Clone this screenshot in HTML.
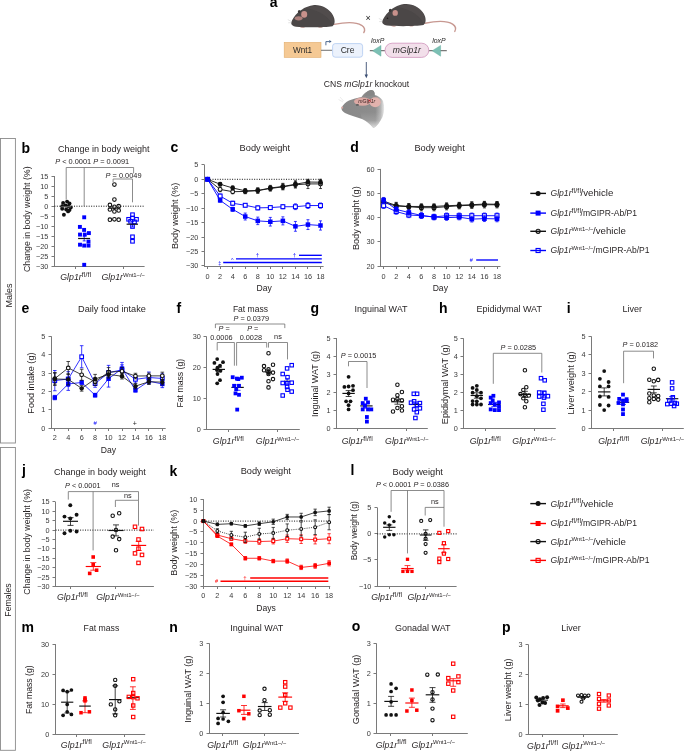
<!DOCTYPE html><html><head><meta charset="utf-8"><style>html,body{margin:0;padding:0;background:#fff;}svg{display:block;will-change:transform;}text{font-family:"Liberation Sans",sans-serif;font-variant-ligatures:none;font-feature-settings:"liga" 0,"clig" 0;}</style></head><body>
<svg width="685" height="752" viewBox="0 0 685 752">
<defs>
<linearGradient id="hg" x1="341" y1="0" x2="385" y2="0" gradientUnits="userSpaceOnUse">
<stop offset="0" stop-color="#888"/><stop offset="0.78" stop-color="#8d8d8d"/><stop offset="0.9" stop-color="#b4b4b4"/><stop offset="1" stop-color="#f6f6f6"/></linearGradient>
<linearGradient id="hg2" x1="0" y1="112" x2="0" y2="129" gradientUnits="userSpaceOnUse">
<stop offset="0" stop-color="#fff" stop-opacity="0"/><stop offset="0.5" stop-color="#fff" stop-opacity="0.15"/><stop offset="1" stop-color="#fff" stop-opacity="0.8"/></linearGradient>


</defs>
<rect width="685" height="752" fill="#fff"/>
<rect x="0.5" y="138.5" width="14.9" height="304.5" fill="none" stroke="#8a8a8a" stroke-width="0.9"/>
<text transform="translate(11.6 295.6) rotate(-90)" x="0" y="0" font-size="9" text-anchor="middle" fill="#231f20">Males</text>
<rect x="0.5" y="447.5" width="14.9" height="302.8" fill="none" stroke="#8a8a8a" stroke-width="0.9"/>
<text transform="translate(10.7 600) rotate(-90)" x="0" y="0" font-size="8.7" text-anchor="middle" fill="#231f20">Females</text>
<text x="269.8" y="7" font-size="14" font-weight="bold" fill="#000">a</text>
<g>
<path d="M334 24.4 C345 22.2 356 21.8 361.6 25.3 C364.6 27.4 365.2 30.2 363.8 32.6" fill="none" stroke="#c79891" stroke-width="1.4" stroke-linecap="round"/>
<path d="M299.5 26.2 C300.5 28.2 304 28.4 305.8 26.6 Z M317.5 26.4 C318.5 28.2 322 28.2 323.5 26.4 Z" fill="#c9a09a"/>
<path d="M291.2 22.8 C292 19.8 294.5 15.8 298 12.6 C301.5 9.2 306 6.4 313 5.2 C321 4.3 329 8.5 332.8 15 C335.3 19.5 335.3 24 332.5 26.3 C325 27.6 305 27.6 296 26.8 C292.8 26.4 291 24.8 291.2 22.8 Z" fill="#4b4747"/>
<path d="M306 8 C313 5.5 322 5.5 328.5 10 C333 14 334.5 20 333 25 C329 18 322 11 306 8 Z" fill="#555050" opacity="0.6"/>
<ellipse cx="299.2" cy="11.6" rx="1.3" ry="1.7" fill="#3a3636"/>
<path d="M287.8 19.6 L292 21.8 M288.2 22.8 L291.8 22.6" stroke="#bbb" stroke-width="0.4"/>
</g>
<ellipse cx="304.2" cy="14.4" rx="3" ry="3.3" fill="#c8918b"/>
<ellipse cx="298.6" cy="18.3" rx="3.9" ry="2.1" fill="#c08b86" opacity="0.85"/>
<g transform="translate(91 -1.2)">
<path d="M334 24.4 C345 22.2 356 21.8 361.6 25.3 C364.6 27.4 365.2 30.2 363.8 32.6" fill="none" stroke="#c79891" stroke-width="1.4" stroke-linecap="round"/>
<path d="M299.5 26.2 C300.5 28.2 304 28.4 305.8 26.6 Z M317.5 26.4 C318.5 28.2 322 28.2 323.5 26.4 Z" fill="#c9a09a"/>
<path d="M291.2 22.8 C292 19.8 294.5 15.8 298 12.6 C301.5 9.2 306 6.4 313 5.2 C321 4.3 329 8.5 332.8 15 C335.3 19.5 335.3 24 332.5 26.3 C325 27.6 305 27.6 296 26.8 C292.8 26.4 291 24.8 291.2 22.8 Z" fill="#4b4747"/>
<path d="M306 8 C313 5.5 322 5.5 328.5 10 C333 14 334.5 20 333 25 C329 18 322 11 306 8 Z" fill="#555050" opacity="0.6"/>
<ellipse cx="299.2" cy="11.6" rx="1.3" ry="1.7" fill="#3a3636"/>
<path d="M287.8 19.6 L292 21.8 M288.2 22.8 L291.8 22.6" stroke="#bbb" stroke-width="0.4"/>
</g>
<ellipse cx="395.2" cy="12.9" rx="2.7" ry="2.9" fill="#c8918b"/>
<circle cx="387.5" cy="18.3" r="0.8" fill="#1e1a1a"/>
<text x="368.2" y="20.6" font-size="9" text-anchor="middle" fill="#222">×</text>
<rect x="284.2" y="42.4" width="36.8" height="15" fill="#f5c994" stroke="#e2ad6c" stroke-width="0.6"/>
<text x="302.6" y="52.8" font-size="8.2" text-anchor="middle" fill="#2a2a2a">Wnt1</text>
<line x1="321" y1="50.3" x2="332.3" y2="50.3" stroke="#7a7a7a" stroke-width="1.1"/>
<rect x="332.6" y="43.6" width="30" height="13.6" rx="2.6" fill="#ecf2fc" stroke="#a9c4ef" stroke-width="0.7"/>
<text x="347.6" y="52.8" font-size="8.6" text-anchor="middle" fill="#2a2a2a">Cre</text>
<path d="M325.9 45.3 V41.6 H329.6" fill="none" stroke="#3e5b86" stroke-width="0.9"/>
<path d="M329.3 40.1 L331.6 41.6 L329.3 43.1 Z" fill="#3e5b86"/>
<line x1="369.8" y1="50.6" x2="446.8" y2="50.6" stroke="#7a7a7a" stroke-width="1.1"/>
<path d="M372.6 50.8 L381 45.4 L381 56.2 Z" fill="#7cc0b4" stroke="#5fa89b" stroke-width="0.4"/>
<path d="M432.2 50.8 L440.6 45.4 L440.6 56.2 Z" fill="#7cc0b4" stroke="#5fa89b" stroke-width="0.4"/>
<rect x="385" y="43.2" width="43.8" height="14.2" rx="7.1" fill="#f2dfea" stroke="#cf93bb" stroke-width="0.8"/>
<text x="406.9" y="53.4" font-size="8.6" text-anchor="middle" font-style="italic" fill="#2a2a2a">mGlp1r</text>
<text x="371" y="42.9" font-size="6.9" font-style="italic" fill="#2a2a2a">loxP</text>
<text x="432.2" y="42.9" font-size="6.9" font-style="italic" fill="#2a2a2a">loxP</text>
<line x1="366.3" y1="62" x2="366.3" y2="75.5" stroke="#3c4f73" stroke-width="0.9"/>
<path d="M364.6 74.6 L366.3 78.2 L368 74.6 Z" fill="#3c4f73"/>
<text x="366.5" y="87.2" font-size="8.6" text-anchor="middle" fill="#231f20">CNS <tspan font-style="italic">mGlp1r</tspan> knockout</text>
<g>
<path d="M341.6 107.8 C343 104.5 346 102 349 100.6 C353 99 357 98 361.5 97 C363.5 94 366.5 91 370.5 90.2 C373.5 89.8 375 91.5 374.5 95 C378 95.8 381.5 98 383 101 C384.8 106 384.5 112 382.5 117 C380 122 377 126 373.5 128 C369.5 123.5 366 120.5 362 119 C356 117 349 115 345 113 C342.5 111.5 341 109.5 341.6 107.8 Z" fill="url(#hg)"/>
<path d="M362 119 C366 120.5 369.5 123.5 373.5 128 C377 126 380 122 382.5 117 L383 112 L360 112 Z" fill="url(#hg2)"/>
<path d="M364.8 96 C365.8 92.8 368 90.4 370.8 90.1 C373.5 89.9 375 92 374.6 95.6 Z" fill="#868686"/>
<ellipse cx="362.6" cy="101.6" rx="8.6" ry="4.1" fill="#dba9a4"/>
<ellipse cx="375.2" cy="102.3" rx="5.6" ry="5" fill="#e2b3ae"/>
<ellipse cx="357.4" cy="104.9" rx="1.6" ry="0.9" fill="#5e5e5e"/>
<ellipse cx="342.2" cy="107.6" rx="0.9" ry="1.2" fill="#d8a7a3"/>
<path d="M340 97 L343.5 101 M338.5 99.5 L343 102" stroke="#d0d0d0" stroke-width="0.4"/>
<text x="358.3" y="102.6" font-size="5.2" font-style="italic" fill="#3a2222">mGlp1r</text>
<path d="M368.6 99.4 L370.8 101.6 M370.8 99.4 L368.6 101.6" stroke="#d0202a" stroke-width="0.8"/>
</g>
<text x="21.6" y="152.5" font-size="14" font-weight="bold" fill="#000">b</text>
<text x="58" y="151.8" font-size="9" fill="#231f20">Change in body weight</text>
<line x1="54.5" y1="176" x2="54.5" y2="267" stroke="#7a7a7a" stroke-width="1"/>
<line x1="51.5" y1="176.5" x2="54.5" y2="176.5" stroke="#7a7a7a" stroke-width="1"/>
<text x="48.4" y="178.7" font-size="7.3" text-anchor="end" fill="#3a3a3a">15</text>
<line x1="51.5" y1="186.5" x2="54.5" y2="186.5" stroke="#7a7a7a" stroke-width="1"/>
<text x="48.4" y="188.7" font-size="7.3" text-anchor="end" fill="#3a3a3a">10</text>
<line x1="51.5" y1="196.5" x2="54.5" y2="196.5" stroke="#7a7a7a" stroke-width="1"/>
<text x="48.4" y="198.7" font-size="7.3" text-anchor="end" fill="#3a3a3a">5</text>
<line x1="51.5" y1="206.5" x2="54.5" y2="206.5" stroke="#7a7a7a" stroke-width="1"/>
<text x="48.4" y="208.7" font-size="7.3" text-anchor="end" fill="#3a3a3a">0</text>
<line x1="51.5" y1="216.5" x2="54.5" y2="216.5" stroke="#7a7a7a" stroke-width="1"/>
<text x="48.4" y="218.7" font-size="7.3" text-anchor="end" fill="#3a3a3a">−5</text>
<line x1="51.5" y1="226.5" x2="54.5" y2="226.5" stroke="#7a7a7a" stroke-width="1"/>
<text x="48.4" y="228.7" font-size="7.3" text-anchor="end" fill="#3a3a3a">−10</text>
<line x1="51.5" y1="236.5" x2="54.5" y2="236.5" stroke="#7a7a7a" stroke-width="1"/>
<text x="48.4" y="238.7" font-size="7.3" text-anchor="end" fill="#3a3a3a">−15</text>
<line x1="51.5" y1="246.5" x2="54.5" y2="246.5" stroke="#7a7a7a" stroke-width="1"/>
<text x="48.4" y="248.7" font-size="7.3" text-anchor="end" fill="#3a3a3a">−20</text>
<line x1="51.5" y1="256.5" x2="54.5" y2="256.5" stroke="#7a7a7a" stroke-width="1"/>
<text x="48.4" y="258.7" font-size="7.3" text-anchor="end" fill="#3a3a3a">−25</text>
<line x1="51.5" y1="266.5" x2="54.5" y2="266.5" stroke="#7a7a7a" stroke-width="1"/>
<text x="48.4" y="268.7" font-size="7.3" text-anchor="end" fill="#3a3a3a">−30</text>
<line x1="54" y1="266.5" x2="144.6" y2="266.5" stroke="#7a7a7a" stroke-width="1"/>
<line x1="75.5" y1="266.5" x2="75.5" y2="269" stroke="#7a7a7a" stroke-width="1"/>
<line x1="123.5" y1="266.5" x2="123.5" y2="269" stroke="#7a7a7a" stroke-width="1"/>
<text x="75.8" y="280.4" font-size="8.8" text-anchor="middle" fill="#231f20"><tspan font-style="italic">Glp1r</tspan><tspan font-size="6.9" dy="-3.5" letter-spacing="0.15">fl/fl</tspan></text>
<text x="123.2" y="280.4" font-size="8.8" text-anchor="middle" fill="#231f20"><tspan font-style="italic">Glp1r</tspan><tspan font-size="6" dy="-3.5" letter-spacing="-0.1">Wnt1−/−</tspan></text>
<text transform="translate(30 219.2) rotate(-90)" x="0" y="0" font-size="8.8" text-anchor="middle" fill="#231f20">Change in body weight (%)</text>
<line x1="54.4" y1="206.2" x2="144.6" y2="206.2" stroke="#111" stroke-width="1" stroke-dasharray="1 1.45"/>
<path d="M66.2 199.7 V167.5 H133.6 V173.4" fill="none" stroke="#6e6e6e" stroke-width="0.8"/>
<path d="M84.2 167.5 V206" fill="none" stroke="#6e6e6e" stroke-width="0.8"/>
<path d="M113.1 182 V179 H132.5 V202.3" fill="none" stroke="#6e6e6e" stroke-width="0.8"/>
<text x="55.2" y="163.9" font-size="7.4" text-anchor="start" fill="#231f20"><tspan font-style="italic">P</tspan> &lt; 0.0001 <tspan font-style="italic">P</tspan> = 0.0091</text>
<text x="105.6" y="177.6" font-size="7.4" text-anchor="start" fill="#231f20"><tspan font-style="italic">P</tspan> = 0.0049</text>
<circle cx="63.1" cy="202.9" r="1.95" fill="#111111"/>
<circle cx="67.1" cy="201.6" r="1.95" fill="#111111"/>
<circle cx="69.5" cy="203.5" r="1.95" fill="#111111"/>
<circle cx="62.2" cy="206.2" r="1.95" fill="#111111"/>
<circle cx="65.5" cy="205.5" r="1.95" fill="#111111"/>
<circle cx="68.1" cy="206.2" r="1.95" fill="#111111"/>
<circle cx="70.8" cy="207.5" r="1.95" fill="#111111"/>
<circle cx="62.2" cy="208.8" r="1.95" fill="#111111"/>
<circle cx="66.2" cy="209.5" r="1.95" fill="#111111"/>
<circle cx="69.5" cy="210.1" r="1.95" fill="#111111"/>
<circle cx="68.1" cy="211.4" r="1.95" fill="#111111"/>
<circle cx="63.9" cy="214.7" r="1.95" fill="#111111"/>
<line x1="61.2" y1="206.8" x2="71.2" y2="206.8" stroke="#888" stroke-width="0.9"/>
<line x1="84.2" y1="236.1" x2="84.2" y2="240.9" stroke="#0000ff" stroke-width="0.8"/>
<line x1="82.7" y1="236.1" x2="85.7" y2="236.1" stroke="#0000ff" stroke-width="0.8"/>
<line x1="82.7" y1="240.9" x2="85.7" y2="240.9" stroke="#0000ff" stroke-width="0.8"/>
<rect x="82.25" y="215.35" width="3.9" height="3.9" fill="#0000ff"/>
<rect x="77.95" y="224.95" width="3.9" height="3.9" fill="#0000ff"/>
<rect x="82.15" y="227.95" width="3.9" height="3.9" fill="#0000ff"/>
<rect x="78.05" y="232.65" width="3.9" height="3.9" fill="#0000ff"/>
<rect x="82.85" y="232.65" width="3.9" height="3.9" fill="#0000ff"/>
<rect x="86.95" y="231.15" width="3.9" height="3.9" fill="#0000ff"/>
<rect x="86.55" y="239.65" width="3.9" height="3.9" fill="#0000ff"/>
<rect x="78.05" y="242.75" width="3.9" height="3.9" fill="#0000ff"/>
<rect x="82.25" y="243.65" width="3.9" height="3.9" fill="#0000ff"/>
<rect x="86.55" y="243.65" width="3.9" height="3.9" fill="#0000ff"/>
<rect x="82.25" y="262.85" width="3.9" height="3.9" fill="#0000ff"/>
<line x1="78.1" y1="238.5" x2="90.1" y2="238.5" stroke="#111111" stroke-width="1.2"/>
<circle cx="114.4" cy="184.6" r="1.79" fill="none" stroke="#111111" stroke-width="1.1"/>
<circle cx="114.4" cy="199.6" r="1.79" fill="none" stroke="#111111" stroke-width="1.1"/>
<circle cx="109.9" cy="204.9" r="1.79" fill="none" stroke="#111111" stroke-width="1.1"/>
<circle cx="114.4" cy="206.8" r="1.79" fill="none" stroke="#111111" stroke-width="1.1"/>
<circle cx="118.7" cy="206.2" r="1.79" fill="none" stroke="#111111" stroke-width="1.1"/>
<circle cx="109.9" cy="209.5" r="1.79" fill="none" stroke="#111111" stroke-width="1.1"/>
<circle cx="114.4" cy="211.4" r="1.79" fill="none" stroke="#111111" stroke-width="1.1"/>
<circle cx="118.7" cy="210.5" r="1.79" fill="none" stroke="#111111" stroke-width="1.1"/>
<circle cx="109.9" cy="219.7" r="1.79" fill="none" stroke="#111111" stroke-width="1.1"/>
<circle cx="114.4" cy="219.3" r="1.79" fill="none" stroke="#111111" stroke-width="1.1"/>
<circle cx="118.7" cy="219.7" r="1.79" fill="none" stroke="#111111" stroke-width="1.1"/>
<line x1="108.4" y1="208.1" x2="120.4" y2="208.1" stroke="#111111" stroke-width="1.1"/>
<line x1="132.5" y1="221.5" x2="132.5" y2="227" stroke="#0000ff" stroke-width="0.8"/>
<line x1="131" y1="221.5" x2="134" y2="221.5" stroke="#0000ff" stroke-width="0.8"/>
<line x1="131" y1="227" x2="134" y2="227" stroke="#0000ff" stroke-width="0.8"/>
<rect x="130.71" y="212.91" width="3.58" height="3.58" fill="none" stroke="#0000ff" stroke-width="1.1"/>
<rect x="126.81" y="217.51" width="3.58" height="3.58" fill="none" stroke="#0000ff" stroke-width="1.1"/>
<rect x="134.71" y="217.51" width="3.58" height="3.58" fill="none" stroke="#0000ff" stroke-width="1.1"/>
<rect x="128.81" y="219.51" width="3.58" height="3.58" fill="none" stroke="#0000ff" stroke-width="1.1"/>
<rect x="132.71" y="220.11" width="3.58" height="3.58" fill="none" stroke="#0000ff" stroke-width="1.1"/>
<rect x="130.71" y="224.71" width="3.58" height="3.58" fill="none" stroke="#0000ff" stroke-width="1.1"/>
<rect x="130.71" y="235.01" width="3.58" height="3.58" fill="none" stroke="#0000ff" stroke-width="1.1"/>
<rect x="130.71" y="239.51" width="3.58" height="3.58" fill="none" stroke="#0000ff" stroke-width="1.1"/>
<rect x="130.71" y="216.21" width="3.58" height="3.58" fill="none" stroke="#0000ff" stroke-width="1.1"/>
<line x1="126.6" y1="224.2" x2="138" y2="224.2" stroke="#111111" stroke-width="1.2"/>
<text x="170.4" y="152.4" font-size="14" font-weight="bold" fill="#000">c</text>
<text x="239.6" y="151.4" font-size="9" fill="#231f20" textLength="50.4" lengthAdjust="spacingAndGlyphs">Body weight</text>
<line x1="204.5" y1="164.8" x2="204.5" y2="267" stroke="#7a7a7a" stroke-width="1"/>
<line x1="201.5" y1="164.5" x2="204.5" y2="164.5" stroke="#7a7a7a" stroke-width="1"/>
<text x="198.4" y="167.37" font-size="7.3" text-anchor="end" fill="#3a3a3a">5</text>
<line x1="201.5" y1="179.5" x2="204.5" y2="179.5" stroke="#7a7a7a" stroke-width="1"/>
<text x="198.4" y="181.8" font-size="7.3" text-anchor="end" fill="#3a3a3a">0</text>
<line x1="201.5" y1="193.5" x2="204.5" y2="193.5" stroke="#7a7a7a" stroke-width="1"/>
<text x="198.4" y="196.23" font-size="7.3" text-anchor="end" fill="#3a3a3a">−5</text>
<line x1="201.5" y1="208.5" x2="204.5" y2="208.5" stroke="#7a7a7a" stroke-width="1"/>
<text x="198.4" y="210.66" font-size="7.3" text-anchor="end" fill="#3a3a3a">−10</text>
<line x1="201.5" y1="222.5" x2="204.5" y2="222.5" stroke="#7a7a7a" stroke-width="1"/>
<text x="198.4" y="225.09" font-size="7.3" text-anchor="end" fill="#3a3a3a">−15</text>
<line x1="201.5" y1="237.5" x2="204.5" y2="237.5" stroke="#7a7a7a" stroke-width="1"/>
<text x="198.4" y="239.52" font-size="7.3" text-anchor="end" fill="#3a3a3a">−20</text>
<line x1="201.5" y1="251.5" x2="204.5" y2="251.5" stroke="#7a7a7a" stroke-width="1"/>
<text x="198.4" y="253.95" font-size="7.3" text-anchor="end" fill="#3a3a3a">−25</text>
<line x1="201.5" y1="265.5" x2="204.5" y2="265.5" stroke="#7a7a7a" stroke-width="1"/>
<text x="198.4" y="268.38" font-size="7.3" text-anchor="end" fill="#3a3a3a">−30</text>
<line x1="204" y1="266.5" x2="323.6" y2="266.5" stroke="#7a7a7a" stroke-width="1"/>
<line x1="207.5" y1="266.5" x2="207.5" y2="269" stroke="#7a7a7a" stroke-width="1"/>
<text x="207.6" y="278.7" font-size="7.3" text-anchor="middle" fill="#3a3a3a">0</text>
<line x1="220.5" y1="266.5" x2="220.5" y2="269" stroke="#7a7a7a" stroke-width="1"/>
<text x="220.14" y="278.7" font-size="7.3" text-anchor="middle" fill="#3a3a3a">2</text>
<line x1="232.5" y1="266.5" x2="232.5" y2="269" stroke="#7a7a7a" stroke-width="1"/>
<text x="232.69" y="278.7" font-size="7.3" text-anchor="middle" fill="#3a3a3a">4</text>
<line x1="245.5" y1="266.5" x2="245.5" y2="269" stroke="#7a7a7a" stroke-width="1"/>
<text x="245.23" y="278.7" font-size="7.3" text-anchor="middle" fill="#3a3a3a">6</text>
<line x1="257.5" y1="266.5" x2="257.5" y2="269" stroke="#7a7a7a" stroke-width="1"/>
<text x="257.78" y="278.7" font-size="7.3" text-anchor="middle" fill="#3a3a3a">8</text>
<line x1="270.5" y1="266.5" x2="270.5" y2="269" stroke="#7a7a7a" stroke-width="1"/>
<text x="270.32" y="278.7" font-size="7.3" text-anchor="middle" fill="#3a3a3a">10</text>
<line x1="282.5" y1="266.5" x2="282.5" y2="269" stroke="#7a7a7a" stroke-width="1"/>
<text x="282.86" y="278.7" font-size="7.3" text-anchor="middle" fill="#3a3a3a">12</text>
<line x1="295.5" y1="266.5" x2="295.5" y2="269" stroke="#7a7a7a" stroke-width="1"/>
<text x="295.41" y="278.7" font-size="7.3" text-anchor="middle" fill="#3a3a3a">14</text>
<line x1="307.5" y1="266.5" x2="307.5" y2="269" stroke="#7a7a7a" stroke-width="1"/>
<text x="307.95" y="278.7" font-size="7.3" text-anchor="middle" fill="#3a3a3a">16</text>
<line x1="320.5" y1="266.5" x2="320.5" y2="269" stroke="#7a7a7a" stroke-width="1"/>
<text x="320.5" y="278.7" font-size="7.3" text-anchor="middle" fill="#3a3a3a">18</text>
<text x="264.2" y="290.8" font-size="8.6" text-anchor="middle" fill="#231f20">Day</text>
<text transform="translate(178.4 215.9) rotate(-90)" x="0" y="0" font-size="9.1" text-anchor="middle" fill="#231f20">Body weight (%)</text>
<line x1="207.6" y1="179.3" x2="322" y2="179.3" stroke="#111" stroke-width="1" stroke-dasharray="1 1.45"/>
<line x1="220.14" y1="191.71" x2="220.14" y2="187.09" stroke="#111111" stroke-width="0.75"/>
<line x1="218.64" y1="191.71" x2="221.64" y2="191.71" stroke="#111111" stroke-width="0.75"/>
<line x1="218.64" y1="187.09" x2="221.64" y2="187.09" stroke="#111111" stroke-width="0.75"/>
<line x1="232.69" y1="193.73" x2="232.69" y2="189.69" stroke="#111111" stroke-width="0.75"/>
<line x1="231.19" y1="193.73" x2="234.19" y2="193.73" stroke="#111111" stroke-width="0.75"/>
<line x1="231.19" y1="189.69" x2="234.19" y2="189.69" stroke="#111111" stroke-width="0.75"/>
<line x1="245.23" y1="193.73" x2="245.23" y2="189.11" stroke="#111111" stroke-width="0.75"/>
<line x1="243.73" y1="193.73" x2="246.73" y2="193.73" stroke="#111111" stroke-width="0.75"/>
<line x1="243.73" y1="189.11" x2="246.73" y2="189.11" stroke="#111111" stroke-width="0.75"/>
<line x1="257.78" y1="193.15" x2="257.78" y2="187.96" stroke="#111111" stroke-width="0.75"/>
<line x1="256.28" y1="193.15" x2="259.28" y2="193.15" stroke="#111111" stroke-width="0.75"/>
<line x1="256.28" y1="187.96" x2="259.28" y2="187.96" stroke="#111111" stroke-width="0.75"/>
<line x1="270.32" y1="191.13" x2="270.32" y2="185.94" stroke="#111111" stroke-width="0.75"/>
<line x1="268.82" y1="191.13" x2="271.82" y2="191.13" stroke="#111111" stroke-width="0.75"/>
<line x1="268.82" y1="185.94" x2="271.82" y2="185.94" stroke="#111111" stroke-width="0.75"/>
<line x1="282.86" y1="189.69" x2="282.86" y2="183.92" stroke="#111111" stroke-width="0.75"/>
<line x1="281.36" y1="189.69" x2="284.36" y2="189.69" stroke="#111111" stroke-width="0.75"/>
<line x1="281.36" y1="183.92" x2="284.36" y2="183.92" stroke="#111111" stroke-width="0.75"/>
<line x1="295.41" y1="187.96" x2="295.41" y2="181.61" stroke="#111111" stroke-width="0.75"/>
<line x1="293.91" y1="187.96" x2="296.91" y2="187.96" stroke="#111111" stroke-width="0.75"/>
<line x1="293.91" y1="181.61" x2="296.91" y2="181.61" stroke="#111111" stroke-width="0.75"/>
<line x1="307.95" y1="188.54" x2="307.95" y2="179.3" stroke="#111111" stroke-width="0.75"/>
<line x1="306.45" y1="188.54" x2="309.45" y2="188.54" stroke="#111111" stroke-width="0.75"/>
<line x1="306.45" y1="179.3" x2="309.45" y2="179.3" stroke="#111111" stroke-width="0.75"/>
<line x1="320.5" y1="188.54" x2="320.5" y2="179.3" stroke="#111111" stroke-width="0.75"/>
<line x1="319" y1="188.54" x2="322" y2="188.54" stroke="#111111" stroke-width="0.75"/>
<line x1="319" y1="179.3" x2="322" y2="179.3" stroke="#111111" stroke-width="0.75"/>
<polyline points="207.6,179.3 220.14,189.4 232.69,191.71 245.23,191.42 257.78,190.56 270.32,188.54 282.86,186.8 295.41,184.78 307.95,183.92 320.5,183.92" fill="none" stroke="#111111" stroke-width="0.9"/>
<circle cx="207.6" cy="179.3" r="1.93" fill="#fff" stroke="#111111" stroke-width="1.1"/>
<circle cx="220.14" cy="189.4" r="1.93" fill="#fff" stroke="#111111" stroke-width="1.1"/>
<circle cx="232.69" cy="191.71" r="1.93" fill="#fff" stroke="#111111" stroke-width="1.1"/>
<circle cx="245.23" cy="191.42" r="1.93" fill="#fff" stroke="#111111" stroke-width="1.1"/>
<circle cx="257.78" cy="190.56" r="1.93" fill="#fff" stroke="#111111" stroke-width="1.1"/>
<circle cx="270.32" cy="188.54" r="1.93" fill="#fff" stroke="#111111" stroke-width="1.1"/>
<circle cx="282.86" cy="186.8" r="1.93" fill="#fff" stroke="#111111" stroke-width="1.1"/>
<circle cx="295.41" cy="184.78" r="1.93" fill="#fff" stroke="#111111" stroke-width="1.1"/>
<circle cx="307.95" cy="183.92" r="1.93" fill="#fff" stroke="#111111" stroke-width="1.1"/>
<circle cx="320.5" cy="183.92" r="1.93" fill="#fff" stroke="#111111" stroke-width="1.1"/>
<line x1="220.14" y1="185.94" x2="220.14" y2="182.47" stroke="#111111" stroke-width="0.75"/>
<line x1="218.64" y1="185.94" x2="221.64" y2="185.94" stroke="#111111" stroke-width="0.75"/>
<line x1="218.64" y1="182.47" x2="221.64" y2="182.47" stroke="#111111" stroke-width="0.75"/>
<line x1="232.69" y1="189.98" x2="232.69" y2="185.94" stroke="#111111" stroke-width="0.75"/>
<line x1="231.19" y1="189.98" x2="234.19" y2="189.98" stroke="#111111" stroke-width="0.75"/>
<line x1="231.19" y1="185.94" x2="234.19" y2="185.94" stroke="#111111" stroke-width="0.75"/>
<line x1="245.23" y1="193.15" x2="245.23" y2="188.54" stroke="#111111" stroke-width="0.75"/>
<line x1="243.73" y1="193.15" x2="246.73" y2="193.15" stroke="#111111" stroke-width="0.75"/>
<line x1="243.73" y1="188.54" x2="246.73" y2="188.54" stroke="#111111" stroke-width="0.75"/>
<line x1="257.78" y1="193.15" x2="257.78" y2="187.96" stroke="#111111" stroke-width="0.75"/>
<line x1="256.28" y1="193.15" x2="259.28" y2="193.15" stroke="#111111" stroke-width="0.75"/>
<line x1="256.28" y1="187.96" x2="259.28" y2="187.96" stroke="#111111" stroke-width="0.75"/>
<line x1="270.32" y1="190.56" x2="270.32" y2="185.36" stroke="#111111" stroke-width="0.75"/>
<line x1="268.82" y1="190.56" x2="271.82" y2="190.56" stroke="#111111" stroke-width="0.75"/>
<line x1="268.82" y1="185.36" x2="271.82" y2="185.36" stroke="#111111" stroke-width="0.75"/>
<line x1="282.86" y1="189.69" x2="282.86" y2="183.34" stroke="#111111" stroke-width="0.75"/>
<line x1="281.36" y1="189.69" x2="284.36" y2="189.69" stroke="#111111" stroke-width="0.75"/>
<line x1="281.36" y1="183.34" x2="284.36" y2="183.34" stroke="#111111" stroke-width="0.75"/>
<line x1="295.41" y1="187.67" x2="295.41" y2="180.74" stroke="#111111" stroke-width="0.75"/>
<line x1="293.91" y1="187.67" x2="296.91" y2="187.67" stroke="#111111" stroke-width="0.75"/>
<line x1="293.91" y1="180.74" x2="296.91" y2="180.74" stroke="#111111" stroke-width="0.75"/>
<line x1="307.95" y1="184.06" x2="307.95" y2="180.02" stroke="#111111" stroke-width="0.75"/>
<line x1="306.45" y1="184.06" x2="309.45" y2="184.06" stroke="#111111" stroke-width="0.75"/>
<line x1="306.45" y1="180.02" x2="309.45" y2="180.02" stroke="#111111" stroke-width="0.75"/>
<line x1="320.5" y1="184.21" x2="320.5" y2="180.17" stroke="#111111" stroke-width="0.75"/>
<line x1="319" y1="184.21" x2="322" y2="184.21" stroke="#111111" stroke-width="0.75"/>
<line x1="319" y1="180.17" x2="322" y2="180.17" stroke="#111111" stroke-width="0.75"/>
<polyline points="207.6,179.3 220.14,184.21 232.69,187.96 245.23,190.84 257.78,190.56 270.32,187.96 282.86,186.52 295.41,184.21 307.95,182.04 320.5,182.19" fill="none" stroke="#111111" stroke-width="0.9"/>
<circle cx="207.6" cy="179.3" r="2.35" fill="#111111"/>
<circle cx="220.14" cy="184.21" r="2.35" fill="#111111"/>
<circle cx="232.69" cy="187.96" r="2.35" fill="#111111"/>
<circle cx="245.23" cy="190.84" r="2.35" fill="#111111"/>
<circle cx="257.78" cy="190.56" r="2.35" fill="#111111"/>
<circle cx="270.32" cy="187.96" r="2.35" fill="#111111"/>
<circle cx="282.86" cy="186.52" r="2.35" fill="#111111"/>
<circle cx="295.41" cy="184.21" r="2.35" fill="#111111"/>
<circle cx="307.95" cy="182.04" r="2.35" fill="#111111"/>
<circle cx="320.5" cy="182.19" r="2.35" fill="#111111"/>
<line x1="220.14" y1="198.06" x2="220.14" y2="194.02" stroke="#0000ff" stroke-width="0.75"/>
<line x1="218.64" y1="198.06" x2="221.64" y2="198.06" stroke="#0000ff" stroke-width="0.75"/>
<line x1="218.64" y1="194.02" x2="221.64" y2="194.02" stroke="#0000ff" stroke-width="0.75"/>
<line x1="232.69" y1="205.27" x2="232.69" y2="201.23" stroke="#0000ff" stroke-width="0.75"/>
<line x1="231.19" y1="205.27" x2="234.19" y2="205.27" stroke="#0000ff" stroke-width="0.75"/>
<line x1="231.19" y1="201.23" x2="234.19" y2="201.23" stroke="#0000ff" stroke-width="0.75"/>
<line x1="245.23" y1="207.01" x2="245.23" y2="203.54" stroke="#0000ff" stroke-width="0.75"/>
<line x1="243.73" y1="207.01" x2="246.73" y2="207.01" stroke="#0000ff" stroke-width="0.75"/>
<line x1="243.73" y1="203.54" x2="246.73" y2="203.54" stroke="#0000ff" stroke-width="0.75"/>
<line x1="257.78" y1="209.89" x2="257.78" y2="205.85" stroke="#0000ff" stroke-width="0.75"/>
<line x1="256.28" y1="209.89" x2="259.28" y2="209.89" stroke="#0000ff" stroke-width="0.75"/>
<line x1="256.28" y1="205.85" x2="259.28" y2="205.85" stroke="#0000ff" stroke-width="0.75"/>
<line x1="270.32" y1="209.31" x2="270.32" y2="205.85" stroke="#0000ff" stroke-width="0.75"/>
<line x1="268.82" y1="209.31" x2="271.82" y2="209.31" stroke="#0000ff" stroke-width="0.75"/>
<line x1="268.82" y1="205.85" x2="271.82" y2="205.85" stroke="#0000ff" stroke-width="0.75"/>
<line x1="282.86" y1="208.74" x2="282.86" y2="204.7" stroke="#0000ff" stroke-width="0.75"/>
<line x1="281.36" y1="208.74" x2="284.36" y2="208.74" stroke="#0000ff" stroke-width="0.75"/>
<line x1="281.36" y1="204.7" x2="284.36" y2="204.7" stroke="#0000ff" stroke-width="0.75"/>
<line x1="295.41" y1="209.6" x2="295.41" y2="203.83" stroke="#0000ff" stroke-width="0.75"/>
<line x1="293.91" y1="209.6" x2="296.91" y2="209.6" stroke="#0000ff" stroke-width="0.75"/>
<line x1="293.91" y1="203.83" x2="296.91" y2="203.83" stroke="#0000ff" stroke-width="0.75"/>
<line x1="307.95" y1="208.45" x2="307.95" y2="202.68" stroke="#0000ff" stroke-width="0.75"/>
<line x1="306.45" y1="208.45" x2="309.45" y2="208.45" stroke="#0000ff" stroke-width="0.75"/>
<line x1="306.45" y1="202.68" x2="309.45" y2="202.68" stroke="#0000ff" stroke-width="0.75"/>
<line x1="320.5" y1="208.16" x2="320.5" y2="202.97" stroke="#0000ff" stroke-width="0.75"/>
<line x1="319" y1="208.16" x2="322" y2="208.16" stroke="#0000ff" stroke-width="0.75"/>
<line x1="319" y1="202.97" x2="322" y2="202.97" stroke="#0000ff" stroke-width="0.75"/>
<polyline points="207.6,179.3 220.14,196.04 232.69,203.25 245.23,205.27 257.78,207.87 270.32,207.58 282.86,206.72 295.41,206.72 307.95,205.56 320.5,205.56" fill="none" stroke="#0000ff" stroke-width="0.9"/>
<rect x="205.67" y="177.37" width="3.87" height="3.87" fill="#fff" stroke="#0000ff" stroke-width="1.1"/>
<rect x="218.21" y="194.1" width="3.87" height="3.87" fill="#fff" stroke="#0000ff" stroke-width="1.1"/>
<rect x="230.75" y="201.32" width="3.87" height="3.87" fill="#fff" stroke="#0000ff" stroke-width="1.1"/>
<rect x="243.3" y="203.34" width="3.87" height="3.87" fill="#fff" stroke="#0000ff" stroke-width="1.1"/>
<rect x="255.84" y="205.94" width="3.87" height="3.87" fill="#fff" stroke="#0000ff" stroke-width="1.1"/>
<rect x="268.39" y="205.65" width="3.87" height="3.87" fill="#fff" stroke="#0000ff" stroke-width="1.1"/>
<rect x="280.93" y="204.78" width="3.87" height="3.87" fill="#fff" stroke="#0000ff" stroke-width="1.1"/>
<rect x="293.47" y="204.78" width="3.87" height="3.87" fill="#fff" stroke="#0000ff" stroke-width="1.1"/>
<rect x="306.02" y="203.63" width="3.87" height="3.87" fill="#fff" stroke="#0000ff" stroke-width="1.1"/>
<rect x="318.56" y="203.63" width="3.87" height="3.87" fill="#fff" stroke="#0000ff" stroke-width="1.1"/>
<line x1="220.14" y1="202.1" x2="220.14" y2="198.64" stroke="#0000ff" stroke-width="0.75"/>
<line x1="218.64" y1="202.1" x2="221.64" y2="202.1" stroke="#0000ff" stroke-width="0.75"/>
<line x1="218.64" y1="198.64" x2="221.64" y2="198.64" stroke="#0000ff" stroke-width="0.75"/>
<line x1="232.69" y1="211.33" x2="232.69" y2="207.29" stroke="#0000ff" stroke-width="0.75"/>
<line x1="231.19" y1="211.33" x2="234.19" y2="211.33" stroke="#0000ff" stroke-width="0.75"/>
<line x1="231.19" y1="207.29" x2="234.19" y2="207.29" stroke="#0000ff" stroke-width="0.75"/>
<line x1="245.23" y1="219.99" x2="245.23" y2="213.07" stroke="#0000ff" stroke-width="0.75"/>
<line x1="243.73" y1="219.99" x2="246.73" y2="219.99" stroke="#0000ff" stroke-width="0.75"/>
<line x1="243.73" y1="213.07" x2="246.73" y2="213.07" stroke="#0000ff" stroke-width="0.75"/>
<line x1="257.78" y1="224.61" x2="257.78" y2="217.11" stroke="#0000ff" stroke-width="0.75"/>
<line x1="256.28" y1="224.61" x2="259.28" y2="224.61" stroke="#0000ff" stroke-width="0.75"/>
<line x1="256.28" y1="217.11" x2="259.28" y2="217.11" stroke="#0000ff" stroke-width="0.75"/>
<line x1="270.32" y1="226.05" x2="270.32" y2="217.4" stroke="#0000ff" stroke-width="0.75"/>
<line x1="268.82" y1="226.05" x2="271.82" y2="226.05" stroke="#0000ff" stroke-width="0.75"/>
<line x1="268.82" y1="217.4" x2="271.82" y2="217.4" stroke="#0000ff" stroke-width="0.75"/>
<line x1="282.86" y1="224.9" x2="282.86" y2="216.82" stroke="#0000ff" stroke-width="0.75"/>
<line x1="281.36" y1="224.9" x2="284.36" y2="224.9" stroke="#0000ff" stroke-width="0.75"/>
<line x1="281.36" y1="216.82" x2="284.36" y2="216.82" stroke="#0000ff" stroke-width="0.75"/>
<line x1="295.41" y1="231.25" x2="295.41" y2="221.44" stroke="#0000ff" stroke-width="0.75"/>
<line x1="293.91" y1="231.25" x2="296.91" y2="231.25" stroke="#0000ff" stroke-width="0.75"/>
<line x1="293.91" y1="221.44" x2="296.91" y2="221.44" stroke="#0000ff" stroke-width="0.75"/>
<line x1="307.95" y1="229.52" x2="307.95" y2="219.7" stroke="#0000ff" stroke-width="0.75"/>
<line x1="306.45" y1="229.52" x2="309.45" y2="229.52" stroke="#0000ff" stroke-width="0.75"/>
<line x1="306.45" y1="219.7" x2="309.45" y2="219.7" stroke="#0000ff" stroke-width="0.75"/>
<line x1="320.5" y1="230.09" x2="320.5" y2="220.86" stroke="#0000ff" stroke-width="0.75"/>
<line x1="319" y1="230.09" x2="322" y2="230.09" stroke="#0000ff" stroke-width="0.75"/>
<line x1="319" y1="220.86" x2="322" y2="220.86" stroke="#0000ff" stroke-width="0.75"/>
<polyline points="207.6,179.3 220.14,200.37 232.69,209.31 245.23,216.53 257.78,220.86 270.32,221.72 282.86,220.86 295.41,226.34 307.95,224.61 320.5,225.48" fill="none" stroke="#0000ff" stroke-width="0.9"/>
<rect x="205.35" y="177.05" width="4.5" height="4.5" fill="#0000ff"/>
<rect x="217.89" y="198.12" width="4.5" height="4.5" fill="#0000ff"/>
<rect x="230.44" y="207.06" width="4.5" height="4.5" fill="#0000ff"/>
<rect x="242.98" y="214.28" width="4.5" height="4.5" fill="#0000ff"/>
<rect x="255.53" y="218.61" width="4.5" height="4.5" fill="#0000ff"/>
<rect x="268.07" y="219.47" width="4.5" height="4.5" fill="#0000ff"/>
<rect x="280.61" y="218.61" width="4.5" height="4.5" fill="#0000ff"/>
<rect x="293.16" y="224.09" width="4.5" height="4.5" fill="#0000ff"/>
<rect x="305.7" y="222.36" width="4.5" height="4.5" fill="#0000ff"/>
<rect x="318.25" y="223.23" width="4.5" height="4.5" fill="#0000ff"/>
<line x1="299" y1="255.3" x2="321.8" y2="255.3" stroke="#0000ff" stroke-width="1.35"/>
<line x1="236" y1="258.9" x2="321.8" y2="258.9" stroke="#0000ff" stroke-width="1.35"/>
<line x1="223.2" y1="262.5" x2="321.8" y2="262.5" stroke="#0000ff" stroke-width="1.35"/>
<text x="257.3" y="257" font-size="6" text-anchor="middle" fill="#0000ff">†</text>
<text x="294.3" y="257" font-size="6" text-anchor="middle" fill="#0000ff">†</text>
<text x="232.3" y="261.5" font-size="5.5" text-anchor="middle" fill="#0000ff">^</text>
<text x="219.7" y="264.6" font-size="5.5" text-anchor="middle" fill="#0000ff">‡</text>
<text x="350.3" y="152.4" font-size="14" font-weight="bold" fill="#000">d</text>
<text x="414.4" y="151.4" font-size="9" fill="#231f20" textLength="50.4" lengthAdjust="spacingAndGlyphs">Body weight</text>
<line x1="380.5" y1="168.9" x2="380.5" y2="267" stroke="#7a7a7a" stroke-width="1"/>
<line x1="377.5" y1="266.5" x2="380.5" y2="266.5" stroke="#7a7a7a" stroke-width="1"/>
<text x="374.6" y="268.8" font-size="7.3" text-anchor="end" fill="#3a3a3a">20</text>
<line x1="377.5" y1="241.5" x2="380.5" y2="241.5" stroke="#7a7a7a" stroke-width="1"/>
<text x="374.6" y="244.48" font-size="7.3" text-anchor="end" fill="#3a3a3a">30</text>
<line x1="377.5" y1="217.5" x2="380.5" y2="217.5" stroke="#7a7a7a" stroke-width="1"/>
<text x="374.6" y="220.15" font-size="7.3" text-anchor="end" fill="#3a3a3a">40</text>
<line x1="377.5" y1="193.5" x2="380.5" y2="193.5" stroke="#7a7a7a" stroke-width="1"/>
<text x="374.6" y="195.82" font-size="7.3" text-anchor="end" fill="#3a3a3a">50</text>
<line x1="377.5" y1="169.5" x2="380.5" y2="169.5" stroke="#7a7a7a" stroke-width="1"/>
<text x="374.6" y="171.5" font-size="7.3" text-anchor="end" fill="#3a3a3a">60</text>
<line x1="380" y1="266.5" x2="500.5" y2="266.5" stroke="#7a7a7a" stroke-width="1"/>
<line x1="383.5" y1="266.5" x2="383.5" y2="269" stroke="#7a7a7a" stroke-width="1"/>
<text x="383.6" y="278.7" font-size="7.3" text-anchor="middle" fill="#3a3a3a">0</text>
<line x1="396.5" y1="266.5" x2="396.5" y2="269" stroke="#7a7a7a" stroke-width="1"/>
<text x="396.2" y="278.7" font-size="7.3" text-anchor="middle" fill="#3a3a3a">2</text>
<line x1="408.5" y1="266.5" x2="408.5" y2="269" stroke="#7a7a7a" stroke-width="1"/>
<text x="408.8" y="278.7" font-size="7.3" text-anchor="middle" fill="#3a3a3a">4</text>
<line x1="421.5" y1="266.5" x2="421.5" y2="269" stroke="#7a7a7a" stroke-width="1"/>
<text x="421.4" y="278.7" font-size="7.3" text-anchor="middle" fill="#3a3a3a">6</text>
<line x1="434.5" y1="266.5" x2="434.5" y2="269" stroke="#7a7a7a" stroke-width="1"/>
<text x="434" y="278.7" font-size="7.3" text-anchor="middle" fill="#3a3a3a">8</text>
<line x1="446.5" y1="266.5" x2="446.5" y2="269" stroke="#7a7a7a" stroke-width="1"/>
<text x="446.6" y="278.7" font-size="7.3" text-anchor="middle" fill="#3a3a3a">10</text>
<line x1="459.5" y1="266.5" x2="459.5" y2="269" stroke="#7a7a7a" stroke-width="1"/>
<text x="459.2" y="278.7" font-size="7.3" text-anchor="middle" fill="#3a3a3a">12</text>
<line x1="471.5" y1="266.5" x2="471.5" y2="269" stroke="#7a7a7a" stroke-width="1"/>
<text x="471.8" y="278.7" font-size="7.3" text-anchor="middle" fill="#3a3a3a">14</text>
<line x1="484.5" y1="266.5" x2="484.5" y2="269" stroke="#7a7a7a" stroke-width="1"/>
<text x="484.4" y="278.7" font-size="7.3" text-anchor="middle" fill="#3a3a3a">16</text>
<line x1="497.5" y1="266.5" x2="497.5" y2="269" stroke="#7a7a7a" stroke-width="1"/>
<text x="497" y="278.7" font-size="7.3" text-anchor="middle" fill="#3a3a3a">18</text>
<text x="440.3" y="290.8" font-size="8.6" text-anchor="middle" fill="#231f20">Day</text>
<text transform="translate(358.5 218.2) rotate(-90)" x="0" y="0" font-size="9.2" text-anchor="middle" fill="#231f20">Body weight (g)</text>
<line x1="383.6" y1="205.49" x2="383.6" y2="199.65" stroke="#111111" stroke-width="0.75"/>
<line x1="382.1" y1="205.49" x2="385.1" y2="205.49" stroke="#111111" stroke-width="0.75"/>
<line x1="382.1" y1="199.65" x2="385.1" y2="199.65" stroke="#111111" stroke-width="0.75"/>
<line x1="396.2" y1="209.14" x2="396.2" y2="202.81" stroke="#111111" stroke-width="0.75"/>
<line x1="394.7" y1="209.14" x2="397.7" y2="209.14" stroke="#111111" stroke-width="0.75"/>
<line x1="394.7" y1="202.81" x2="397.7" y2="202.81" stroke="#111111" stroke-width="0.75"/>
<line x1="408.8" y1="209.87" x2="408.8" y2="203.54" stroke="#111111" stroke-width="0.75"/>
<line x1="407.3" y1="209.87" x2="410.3" y2="209.87" stroke="#111111" stroke-width="0.75"/>
<line x1="407.3" y1="203.54" x2="410.3" y2="203.54" stroke="#111111" stroke-width="0.75"/>
<line x1="421.4" y1="210.84" x2="421.4" y2="204.51" stroke="#111111" stroke-width="0.75"/>
<line x1="419.9" y1="210.84" x2="422.9" y2="210.84" stroke="#111111" stroke-width="0.75"/>
<line x1="419.9" y1="204.51" x2="422.9" y2="204.51" stroke="#111111" stroke-width="0.75"/>
<line x1="434" y1="210.84" x2="434" y2="204.51" stroke="#111111" stroke-width="0.75"/>
<line x1="432.5" y1="210.84" x2="435.5" y2="210.84" stroke="#111111" stroke-width="0.75"/>
<line x1="432.5" y1="204.51" x2="435.5" y2="204.51" stroke="#111111" stroke-width="0.75"/>
<line x1="446.6" y1="209.87" x2="446.6" y2="203.54" stroke="#111111" stroke-width="0.75"/>
<line x1="445.1" y1="209.87" x2="448.1" y2="209.87" stroke="#111111" stroke-width="0.75"/>
<line x1="445.1" y1="203.54" x2="448.1" y2="203.54" stroke="#111111" stroke-width="0.75"/>
<line x1="459.2" y1="208.89" x2="459.2" y2="202.57" stroke="#111111" stroke-width="0.75"/>
<line x1="457.7" y1="208.89" x2="460.7" y2="208.89" stroke="#111111" stroke-width="0.75"/>
<line x1="457.7" y1="202.57" x2="460.7" y2="202.57" stroke="#111111" stroke-width="0.75"/>
<line x1="471.8" y1="208.41" x2="471.8" y2="202.08" stroke="#111111" stroke-width="0.75"/>
<line x1="470.3" y1="208.41" x2="473.3" y2="208.41" stroke="#111111" stroke-width="0.75"/>
<line x1="470.3" y1="202.08" x2="473.3" y2="202.08" stroke="#111111" stroke-width="0.75"/>
<line x1="484.4" y1="207.92" x2="484.4" y2="201.6" stroke="#111111" stroke-width="0.75"/>
<line x1="482.9" y1="207.92" x2="485.9" y2="207.92" stroke="#111111" stroke-width="0.75"/>
<line x1="482.9" y1="201.6" x2="485.9" y2="201.6" stroke="#111111" stroke-width="0.75"/>
<line x1="497" y1="207.92" x2="497" y2="201.6" stroke="#111111" stroke-width="0.75"/>
<line x1="495.5" y1="207.92" x2="498.5" y2="207.92" stroke="#111111" stroke-width="0.75"/>
<line x1="495.5" y1="201.6" x2="498.5" y2="201.6" stroke="#111111" stroke-width="0.75"/>
<polyline points="383.6,202.57 396.2,205.97 408.8,206.7 421.4,207.68 434,207.68 446.6,206.7 459.2,205.73 471.8,205.24 484.4,204.76 497,204.76" fill="none" stroke="#111111" stroke-width="0.9"/>
<circle cx="383.6" cy="202.57" r="1.99" fill="#fff" stroke="#111111" stroke-width="1.1"/>
<circle cx="396.2" cy="205.97" r="1.99" fill="#fff" stroke="#111111" stroke-width="1.1"/>
<circle cx="408.8" cy="206.7" r="1.99" fill="#fff" stroke="#111111" stroke-width="1.1"/>
<circle cx="421.4" cy="207.68" r="1.99" fill="#fff" stroke="#111111" stroke-width="1.1"/>
<circle cx="434" cy="207.68" r="1.99" fill="#fff" stroke="#111111" stroke-width="1.1"/>
<circle cx="446.6" cy="206.7" r="1.99" fill="#fff" stroke="#111111" stroke-width="1.1"/>
<circle cx="459.2" cy="205.73" r="1.99" fill="#fff" stroke="#111111" stroke-width="1.1"/>
<circle cx="471.8" cy="205.24" r="1.99" fill="#fff" stroke="#111111" stroke-width="1.1"/>
<circle cx="484.4" cy="204.76" r="1.99" fill="#fff" stroke="#111111" stroke-width="1.1"/>
<circle cx="497" cy="204.76" r="1.99" fill="#fff" stroke="#111111" stroke-width="1.1"/>
<line x1="383.6" y1="204.03" x2="383.6" y2="198.19" stroke="#111111" stroke-width="0.75"/>
<line x1="382.1" y1="204.03" x2="385.1" y2="204.03" stroke="#111111" stroke-width="0.75"/>
<line x1="382.1" y1="198.19" x2="385.1" y2="198.19" stroke="#111111" stroke-width="0.75"/>
<line x1="396.2" y1="208.65" x2="396.2" y2="202.33" stroke="#111111" stroke-width="0.75"/>
<line x1="394.7" y1="208.65" x2="397.7" y2="208.65" stroke="#111111" stroke-width="0.75"/>
<line x1="394.7" y1="202.33" x2="397.7" y2="202.33" stroke="#111111" stroke-width="0.75"/>
<line x1="408.8" y1="209.14" x2="408.8" y2="203.78" stroke="#111111" stroke-width="0.75"/>
<line x1="407.3" y1="209.14" x2="410.3" y2="209.14" stroke="#111111" stroke-width="0.75"/>
<line x1="407.3" y1="203.78" x2="410.3" y2="203.78" stroke="#111111" stroke-width="0.75"/>
<line x1="421.4" y1="209.14" x2="421.4" y2="203.78" stroke="#111111" stroke-width="0.75"/>
<line x1="419.9" y1="209.14" x2="422.9" y2="209.14" stroke="#111111" stroke-width="0.75"/>
<line x1="419.9" y1="203.78" x2="422.9" y2="203.78" stroke="#111111" stroke-width="0.75"/>
<line x1="434" y1="209.14" x2="434" y2="203.78" stroke="#111111" stroke-width="0.75"/>
<line x1="432.5" y1="209.14" x2="435.5" y2="209.14" stroke="#111111" stroke-width="0.75"/>
<line x1="432.5" y1="203.78" x2="435.5" y2="203.78" stroke="#111111" stroke-width="0.75"/>
<line x1="446.6" y1="208.65" x2="446.6" y2="202.81" stroke="#111111" stroke-width="0.75"/>
<line x1="445.1" y1="208.65" x2="448.1" y2="208.65" stroke="#111111" stroke-width="0.75"/>
<line x1="445.1" y1="202.81" x2="448.1" y2="202.81" stroke="#111111" stroke-width="0.75"/>
<line x1="459.2" y1="208.16" x2="459.2" y2="202.33" stroke="#111111" stroke-width="0.75"/>
<line x1="457.7" y1="208.16" x2="460.7" y2="208.16" stroke="#111111" stroke-width="0.75"/>
<line x1="457.7" y1="202.33" x2="460.7" y2="202.33" stroke="#111111" stroke-width="0.75"/>
<line x1="471.8" y1="207.68" x2="471.8" y2="201.84" stroke="#111111" stroke-width="0.75"/>
<line x1="470.3" y1="207.68" x2="473.3" y2="207.68" stroke="#111111" stroke-width="0.75"/>
<line x1="470.3" y1="201.84" x2="473.3" y2="201.84" stroke="#111111" stroke-width="0.75"/>
<line x1="484.4" y1="206.7" x2="484.4" y2="201.35" stroke="#111111" stroke-width="0.75"/>
<line x1="482.9" y1="206.7" x2="485.9" y2="206.7" stroke="#111111" stroke-width="0.75"/>
<line x1="482.9" y1="201.35" x2="485.9" y2="201.35" stroke="#111111" stroke-width="0.75"/>
<line x1="497" y1="206.95" x2="497" y2="201.6" stroke="#111111" stroke-width="0.75"/>
<line x1="495.5" y1="206.95" x2="498.5" y2="206.95" stroke="#111111" stroke-width="0.75"/>
<line x1="495.5" y1="201.6" x2="498.5" y2="201.6" stroke="#111111" stroke-width="0.75"/>
<polyline points="383.6,201.11 396.2,205.49 408.8,206.46 421.4,206.46 434,206.46 446.6,205.73 459.2,205.24 471.8,204.76 484.4,204.03 497,204.27" fill="none" stroke="#111111" stroke-width="0.9"/>
<circle cx="383.6" cy="201.11" r="2.4" fill="#111111"/>
<circle cx="396.2" cy="205.49" r="2.4" fill="#111111"/>
<circle cx="408.8" cy="206.46" r="2.4" fill="#111111"/>
<circle cx="421.4" cy="206.46" r="2.4" fill="#111111"/>
<circle cx="434" cy="206.46" r="2.4" fill="#111111"/>
<circle cx="446.6" cy="205.73" r="2.4" fill="#111111"/>
<circle cx="459.2" cy="205.24" r="2.4" fill="#111111"/>
<circle cx="471.8" cy="204.76" r="2.4" fill="#111111"/>
<circle cx="484.4" cy="204.03" r="2.4" fill="#111111"/>
<circle cx="497" cy="204.27" r="2.4" fill="#111111"/>
<line x1="383.6" y1="208.41" x2="383.6" y2="203.06" stroke="#0000ff" stroke-width="0.75"/>
<line x1="382.1" y1="208.41" x2="385.1" y2="208.41" stroke="#0000ff" stroke-width="0.75"/>
<line x1="382.1" y1="203.06" x2="385.1" y2="203.06" stroke="#0000ff" stroke-width="0.75"/>
<line x1="396.2" y1="214.24" x2="396.2" y2="208.89" stroke="#0000ff" stroke-width="0.75"/>
<line x1="394.7" y1="214.24" x2="397.7" y2="214.24" stroke="#0000ff" stroke-width="0.75"/>
<line x1="394.7" y1="208.89" x2="397.7" y2="208.89" stroke="#0000ff" stroke-width="0.75"/>
<line x1="408.8" y1="217.65" x2="408.8" y2="212.3" stroke="#0000ff" stroke-width="0.75"/>
<line x1="407.3" y1="217.65" x2="410.3" y2="217.65" stroke="#0000ff" stroke-width="0.75"/>
<line x1="407.3" y1="212.3" x2="410.3" y2="212.3" stroke="#0000ff" stroke-width="0.75"/>
<line x1="421.4" y1="218.38" x2="421.4" y2="213.03" stroke="#0000ff" stroke-width="0.75"/>
<line x1="419.9" y1="218.38" x2="422.9" y2="218.38" stroke="#0000ff" stroke-width="0.75"/>
<line x1="419.9" y1="213.03" x2="422.9" y2="213.03" stroke="#0000ff" stroke-width="0.75"/>
<line x1="434" y1="219.6" x2="434" y2="214.24" stroke="#0000ff" stroke-width="0.75"/>
<line x1="432.5" y1="219.6" x2="435.5" y2="219.6" stroke="#0000ff" stroke-width="0.75"/>
<line x1="432.5" y1="214.24" x2="435.5" y2="214.24" stroke="#0000ff" stroke-width="0.75"/>
<line x1="446.6" y1="218.38" x2="446.6" y2="213.03" stroke="#0000ff" stroke-width="0.75"/>
<line x1="445.1" y1="218.38" x2="448.1" y2="218.38" stroke="#0000ff" stroke-width="0.75"/>
<line x1="445.1" y1="213.03" x2="448.1" y2="213.03" stroke="#0000ff" stroke-width="0.75"/>
<line x1="459.2" y1="218.38" x2="459.2" y2="213.03" stroke="#0000ff" stroke-width="0.75"/>
<line x1="457.7" y1="218.38" x2="460.7" y2="218.38" stroke="#0000ff" stroke-width="0.75"/>
<line x1="457.7" y1="213.03" x2="460.7" y2="213.03" stroke="#0000ff" stroke-width="0.75"/>
<line x1="471.8" y1="218.38" x2="471.8" y2="213.03" stroke="#0000ff" stroke-width="0.75"/>
<line x1="470.3" y1="218.38" x2="473.3" y2="218.38" stroke="#0000ff" stroke-width="0.75"/>
<line x1="470.3" y1="213.03" x2="473.3" y2="213.03" stroke="#0000ff" stroke-width="0.75"/>
<line x1="484.4" y1="218.38" x2="484.4" y2="213.03" stroke="#0000ff" stroke-width="0.75"/>
<line x1="482.9" y1="218.38" x2="485.9" y2="218.38" stroke="#0000ff" stroke-width="0.75"/>
<line x1="482.9" y1="213.03" x2="485.9" y2="213.03" stroke="#0000ff" stroke-width="0.75"/>
<line x1="497" y1="218.38" x2="497" y2="213.03" stroke="#0000ff" stroke-width="0.75"/>
<line x1="495.5" y1="218.38" x2="498.5" y2="218.38" stroke="#0000ff" stroke-width="0.75"/>
<line x1="495.5" y1="213.03" x2="498.5" y2="213.03" stroke="#0000ff" stroke-width="0.75"/>
<polyline points="383.6,205.73 396.2,211.57 408.8,214.97 421.4,215.7 434,216.92 446.6,215.7 459.2,215.7 471.8,215.7 484.4,215.7 497,215.7" fill="none" stroke="#0000ff" stroke-width="0.9"/>
<rect x="381.61" y="203.74" width="3.98" height="3.98" fill="#fff" stroke="#0000ff" stroke-width="1.1"/>
<rect x="394.21" y="209.58" width="3.98" height="3.98" fill="#fff" stroke="#0000ff" stroke-width="1.1"/>
<rect x="406.81" y="212.99" width="3.98" height="3.98" fill="#fff" stroke="#0000ff" stroke-width="1.1"/>
<rect x="419.41" y="213.72" width="3.98" height="3.98" fill="#fff" stroke="#0000ff" stroke-width="1.1"/>
<rect x="432.01" y="214.93" width="3.98" height="3.98" fill="#fff" stroke="#0000ff" stroke-width="1.1"/>
<rect x="444.61" y="213.72" width="3.98" height="3.98" fill="#fff" stroke="#0000ff" stroke-width="1.1"/>
<rect x="457.21" y="213.72" width="3.98" height="3.98" fill="#fff" stroke="#0000ff" stroke-width="1.1"/>
<rect x="469.81" y="213.72" width="3.98" height="3.98" fill="#fff" stroke="#0000ff" stroke-width="1.1"/>
<rect x="482.41" y="213.72" width="3.98" height="3.98" fill="#fff" stroke="#0000ff" stroke-width="1.1"/>
<rect x="495.01" y="213.72" width="3.98" height="3.98" fill="#fff" stroke="#0000ff" stroke-width="1.1"/>
<line x1="383.6" y1="202.81" x2="383.6" y2="197.46" stroke="#0000ff" stroke-width="0.75"/>
<line x1="382.1" y1="202.81" x2="385.1" y2="202.81" stroke="#0000ff" stroke-width="0.75"/>
<line x1="382.1" y1="197.46" x2="385.1" y2="197.46" stroke="#0000ff" stroke-width="0.75"/>
<line x1="396.2" y1="212.06" x2="396.2" y2="206.7" stroke="#0000ff" stroke-width="0.75"/>
<line x1="394.7" y1="212.06" x2="397.7" y2="212.06" stroke="#0000ff" stroke-width="0.75"/>
<line x1="394.7" y1="206.7" x2="397.7" y2="206.7" stroke="#0000ff" stroke-width="0.75"/>
<line x1="408.8" y1="215.22" x2="408.8" y2="209.87" stroke="#0000ff" stroke-width="0.75"/>
<line x1="407.3" y1="215.22" x2="410.3" y2="215.22" stroke="#0000ff" stroke-width="0.75"/>
<line x1="407.3" y1="209.87" x2="410.3" y2="209.87" stroke="#0000ff" stroke-width="0.75"/>
<line x1="421.4" y1="218.14" x2="421.4" y2="212.79" stroke="#0000ff" stroke-width="0.75"/>
<line x1="419.9" y1="218.14" x2="422.9" y2="218.14" stroke="#0000ff" stroke-width="0.75"/>
<line x1="419.9" y1="212.79" x2="422.9" y2="212.79" stroke="#0000ff" stroke-width="0.75"/>
<line x1="434" y1="219.84" x2="434" y2="214.49" stroke="#0000ff" stroke-width="0.75"/>
<line x1="432.5" y1="219.84" x2="435.5" y2="219.84" stroke="#0000ff" stroke-width="0.75"/>
<line x1="432.5" y1="214.49" x2="435.5" y2="214.49" stroke="#0000ff" stroke-width="0.75"/>
<line x1="446.6" y1="220.33" x2="446.6" y2="214.97" stroke="#0000ff" stroke-width="0.75"/>
<line x1="445.1" y1="220.33" x2="448.1" y2="220.33" stroke="#0000ff" stroke-width="0.75"/>
<line x1="445.1" y1="214.97" x2="448.1" y2="214.97" stroke="#0000ff" stroke-width="0.75"/>
<line x1="459.2" y1="219.84" x2="459.2" y2="214.49" stroke="#0000ff" stroke-width="0.75"/>
<line x1="457.7" y1="219.84" x2="460.7" y2="219.84" stroke="#0000ff" stroke-width="0.75"/>
<line x1="457.7" y1="214.49" x2="460.7" y2="214.49" stroke="#0000ff" stroke-width="0.75"/>
<line x1="471.8" y1="222.03" x2="471.8" y2="216.19" stroke="#0000ff" stroke-width="0.75"/>
<line x1="470.3" y1="222.03" x2="473.3" y2="222.03" stroke="#0000ff" stroke-width="0.75"/>
<line x1="470.3" y1="216.19" x2="473.3" y2="216.19" stroke="#0000ff" stroke-width="0.75"/>
<line x1="484.4" y1="221.54" x2="484.4" y2="215.7" stroke="#0000ff" stroke-width="0.75"/>
<line x1="482.9" y1="221.54" x2="485.9" y2="221.54" stroke="#0000ff" stroke-width="0.75"/>
<line x1="482.9" y1="215.7" x2="485.9" y2="215.7" stroke="#0000ff" stroke-width="0.75"/>
<line x1="497" y1="221.79" x2="497" y2="215.95" stroke="#0000ff" stroke-width="0.75"/>
<line x1="495.5" y1="221.79" x2="498.5" y2="221.79" stroke="#0000ff" stroke-width="0.75"/>
<line x1="495.5" y1="215.95" x2="498.5" y2="215.95" stroke="#0000ff" stroke-width="0.75"/>
<polyline points="383.6,200.14 396.2,209.38 408.8,212.54 421.4,215.46 434,217.16 446.6,217.65 459.2,217.16 471.8,219.11 484.4,218.62 497,218.87" fill="none" stroke="#0000ff" stroke-width="0.9"/>
<rect x="381.25" y="197.79" width="4.7" height="4.7" fill="#0000ff"/>
<rect x="393.85" y="207.03" width="4.7" height="4.7" fill="#0000ff"/>
<rect x="406.45" y="210.19" width="4.7" height="4.7" fill="#0000ff"/>
<rect x="419.05" y="213.11" width="4.7" height="4.7" fill="#0000ff"/>
<rect x="431.65" y="214.81" width="4.7" height="4.7" fill="#0000ff"/>
<rect x="444.25" y="215.3" width="4.7" height="4.7" fill="#0000ff"/>
<rect x="456.85" y="214.81" width="4.7" height="4.7" fill="#0000ff"/>
<rect x="469.45" y="216.76" width="4.7" height="4.7" fill="#0000ff"/>
<rect x="482.05" y="216.27" width="4.7" height="4.7" fill="#0000ff"/>
<rect x="494.65" y="216.52" width="4.7" height="4.7" fill="#0000ff"/>
<line x1="476.2" y1="260" x2="498" y2="260" stroke="#0000ff" stroke-width="1.35"/>
<text x="471.4" y="262" font-size="5.5" text-anchor="middle" fill="#0000ff">#</text>
<line x1="530.3" y1="193.4" x2="546" y2="193.4" stroke="#111111" stroke-width="1.4"/>
<circle cx="538.1" cy="193.4" r="2.5" fill="#111111"/>
<text x="550.5" y="196.3" font-size="8.6" fill="#231f20"><tspan font-style="italic">Glp1r</tspan><tspan font-size="6.9" dy="-3.4" letter-spacing="0.15">fl/fl</tspan></text>
<text x="580.5" y="196.3" font-size="8.9" fill="#231f20" textLength="32.8" lengthAdjust="spacingAndGlyphs">/vehicle</text>
<line x1="530.3" y1="213.1" x2="546" y2="213.1" stroke="#0000ff" stroke-width="1.4"/>
<rect x="535.6" y="210.6" width="5" height="5" fill="#0000ff"/>
<text x="550.5" y="216" font-size="8.6" fill="#231f20"><tspan font-style="italic">Glp1r</tspan><tspan font-size="6.9" dy="-3.4" letter-spacing="0.15">fl/fl</tspan></text>
<text x="580.5" y="216" font-size="8.9" fill="#231f20" textLength="56.6" lengthAdjust="spacingAndGlyphs">/mGIPR-Ab/P1</text>
<line x1="530.3" y1="231.3" x2="546" y2="231.3" stroke="#111111" stroke-width="1.4"/>
<circle cx="538.1" cy="231.3" r="2.03" fill="none" stroke="#111111" stroke-width="1.1"/>
<text x="550.5" y="234.2" font-size="8.6" fill="#231f20"><tspan font-style="italic">Glp1r</tspan><tspan font-size="6" dy="-3.4" letter-spacing="-0.1">Wnt1−/−</tspan></text>
<text x="593" y="234.2" font-size="8.9" fill="#231f20" textLength="32.8" lengthAdjust="spacingAndGlyphs">/vehicle</text>
<line x1="530.3" y1="250.5" x2="546" y2="250.5" stroke="#0000ff" stroke-width="1.4"/>
<rect x="536.07" y="248.47" width="4.06" height="4.06" fill="none" stroke="#0000ff" stroke-width="1.1"/>
<text x="550.5" y="253.4" font-size="8.6" fill="#231f20"><tspan font-style="italic">Glp1r</tspan><tspan font-size="6" dy="-3.4" letter-spacing="-0.1">Wnt1−/−</tspan></text>
<text x="593" y="253.4" font-size="8.9" fill="#231f20" textLength="56.6" lengthAdjust="spacingAndGlyphs">/mGIPR-Ab/P1</text>
<text x="21.6" y="313" font-size="14" font-weight="bold" fill="#000">e</text>
<text x="78" y="311.5" font-size="9" fill="#231f20" textLength="67.9" lengthAdjust="spacingAndGlyphs">Daily food intake</text>
<line x1="51.5" y1="336.3" x2="51.5" y2="429" stroke="#7a7a7a" stroke-width="1"/>
<line x1="48.5" y1="428.5" x2="51.5" y2="428.5" stroke="#7a7a7a" stroke-width="1"/>
<text x="45.4" y="430.8" font-size="7.3" text-anchor="end" fill="#3a3a3a">0</text>
<line x1="48.5" y1="409.5" x2="51.5" y2="409.5" stroke="#7a7a7a" stroke-width="1"/>
<text x="45.4" y="412.4" font-size="7.3" text-anchor="end" fill="#3a3a3a">1</text>
<line x1="48.5" y1="391.5" x2="51.5" y2="391.5" stroke="#7a7a7a" stroke-width="1"/>
<text x="45.4" y="394" font-size="7.3" text-anchor="end" fill="#3a3a3a">2</text>
<line x1="48.5" y1="373.5" x2="51.5" y2="373.5" stroke="#7a7a7a" stroke-width="1"/>
<text x="45.4" y="375.6" font-size="7.3" text-anchor="end" fill="#3a3a3a">3</text>
<line x1="48.5" y1="354.5" x2="51.5" y2="354.5" stroke="#7a7a7a" stroke-width="1"/>
<text x="45.4" y="357.2" font-size="7.3" text-anchor="end" fill="#3a3a3a">4</text>
<line x1="48.5" y1="336.5" x2="51.5" y2="336.5" stroke="#7a7a7a" stroke-width="1"/>
<text x="45.4" y="338.8" font-size="7.3" text-anchor="end" fill="#3a3a3a">5</text>
<line x1="51" y1="428.5" x2="165.7" y2="428.5" stroke="#7a7a7a" stroke-width="1"/>
<line x1="54.5" y1="428.5" x2="54.5" y2="431" stroke="#7a7a7a" stroke-width="1"/>
<text x="54.8" y="439.8" font-size="7.3" text-anchor="middle" fill="#3a3a3a">2</text>
<line x1="68.5" y1="428.5" x2="68.5" y2="431" stroke="#7a7a7a" stroke-width="1"/>
<text x="68.24" y="439.8" font-size="7.3" text-anchor="middle" fill="#3a3a3a">4</text>
<line x1="81.5" y1="428.5" x2="81.5" y2="431" stroke="#7a7a7a" stroke-width="1"/>
<text x="81.68" y="439.8" font-size="7.3" text-anchor="middle" fill="#3a3a3a">6</text>
<line x1="95.5" y1="428.5" x2="95.5" y2="431" stroke="#7a7a7a" stroke-width="1"/>
<text x="95.12" y="439.8" font-size="7.3" text-anchor="middle" fill="#3a3a3a">8</text>
<line x1="108.5" y1="428.5" x2="108.5" y2="431" stroke="#7a7a7a" stroke-width="1"/>
<text x="108.56" y="439.8" font-size="7.3" text-anchor="middle" fill="#3a3a3a">10</text>
<line x1="122.5" y1="428.5" x2="122.5" y2="431" stroke="#7a7a7a" stroke-width="1"/>
<text x="122" y="439.8" font-size="7.3" text-anchor="middle" fill="#3a3a3a">12</text>
<line x1="135.5" y1="428.5" x2="135.5" y2="431" stroke="#7a7a7a" stroke-width="1"/>
<text x="135.44" y="439.8" font-size="7.3" text-anchor="middle" fill="#3a3a3a">14</text>
<line x1="148.5" y1="428.5" x2="148.5" y2="431" stroke="#7a7a7a" stroke-width="1"/>
<text x="148.88" y="439.8" font-size="7.3" text-anchor="middle" fill="#3a3a3a">16</text>
<line x1="162.5" y1="428.5" x2="162.5" y2="431" stroke="#7a7a7a" stroke-width="1"/>
<text x="162.32" y="439.8" font-size="7.3" text-anchor="middle" fill="#3a3a3a">18</text>
<text x="108.5" y="452.7" font-size="8.6" text-anchor="middle" fill="#231f20">Day</text>
<text transform="translate(34.2 383.1) rotate(-90)" x="0" y="0" font-size="9.1" text-anchor="middle" fill="#231f20">Food intake (g)</text>
<line x1="54.8" y1="390.76" x2="54.8" y2="370.52" stroke="#0000ff" stroke-width="0.75"/>
<line x1="53" y1="390.76" x2="56.6" y2="390.76" stroke="#0000ff" stroke-width="0.75"/>
<line x1="53" y1="370.52" x2="56.6" y2="370.52" stroke="#0000ff" stroke-width="0.75"/>
<line x1="68.24" y1="386.35" x2="68.24" y2="371.63" stroke="#0000ff" stroke-width="0.75"/>
<line x1="66.44" y1="386.35" x2="70.04" y2="386.35" stroke="#0000ff" stroke-width="0.75"/>
<line x1="66.44" y1="371.63" x2="70.04" y2="371.63" stroke="#0000ff" stroke-width="0.75"/>
<line x1="81.68" y1="367.76" x2="81.68" y2="345.68" stroke="#0000ff" stroke-width="0.75"/>
<line x1="79.88" y1="367.76" x2="83.48" y2="367.76" stroke="#0000ff" stroke-width="0.75"/>
<line x1="79.88" y1="345.68" x2="83.48" y2="345.68" stroke="#0000ff" stroke-width="0.75"/>
<line x1="95.12" y1="387.27" x2="95.12" y2="379.91" stroke="#0000ff" stroke-width="0.75"/>
<line x1="93.32" y1="387.27" x2="96.92" y2="387.27" stroke="#0000ff" stroke-width="0.75"/>
<line x1="93.32" y1="379.91" x2="96.92" y2="379.91" stroke="#0000ff" stroke-width="0.75"/>
<line x1="108.56" y1="380.09" x2="108.56" y2="365.37" stroke="#0000ff" stroke-width="0.75"/>
<line x1="106.76" y1="380.09" x2="110.36" y2="380.09" stroke="#0000ff" stroke-width="0.75"/>
<line x1="106.76" y1="365.37" x2="110.36" y2="365.37" stroke="#0000ff" stroke-width="0.75"/>
<line x1="122" y1="377.15" x2="122" y2="362.43" stroke="#0000ff" stroke-width="0.75"/>
<line x1="120.2" y1="377.15" x2="123.8" y2="377.15" stroke="#0000ff" stroke-width="0.75"/>
<line x1="120.2" y1="362.43" x2="123.8" y2="362.43" stroke="#0000ff" stroke-width="0.75"/>
<line x1="135.44" y1="383.04" x2="135.44" y2="375.68" stroke="#0000ff" stroke-width="0.75"/>
<line x1="133.64" y1="383.04" x2="137.24" y2="383.04" stroke="#0000ff" stroke-width="0.75"/>
<line x1="133.64" y1="375.68" x2="137.24" y2="375.68" stroke="#0000ff" stroke-width="0.75"/>
<line x1="148.88" y1="383.04" x2="148.88" y2="372" stroke="#0000ff" stroke-width="0.75"/>
<line x1="147.08" y1="383.04" x2="150.68" y2="383.04" stroke="#0000ff" stroke-width="0.75"/>
<line x1="147.08" y1="372" x2="150.68" y2="372" stroke="#0000ff" stroke-width="0.75"/>
<line x1="162.32" y1="383.04" x2="162.32" y2="373.84" stroke="#0000ff" stroke-width="0.75"/>
<line x1="160.52" y1="383.04" x2="164.12" y2="383.04" stroke="#0000ff" stroke-width="0.75"/>
<line x1="160.52" y1="373.84" x2="164.12" y2="373.84" stroke="#0000ff" stroke-width="0.75"/>
<polyline points="54.8,380.64 68.24,378.99 81.68,356.72 95.12,383.59 108.56,372.73 122,369.79 135.44,379.36 148.88,377.52 162.32,378.44" fill="none" stroke="#0000ff" stroke-width="0.8"/>
<rect x="52.97" y="378.82" width="3.65" height="3.65" fill="#fff" stroke="#0000ff" stroke-width="1.1"/>
<rect x="66.41" y="377.16" width="3.65" height="3.65" fill="#fff" stroke="#0000ff" stroke-width="1.1"/>
<rect x="79.85" y="354.9" width="3.65" height="3.65" fill="#fff" stroke="#0000ff" stroke-width="1.1"/>
<rect x="93.29" y="381.76" width="3.65" height="3.65" fill="#fff" stroke="#0000ff" stroke-width="1.1"/>
<rect x="106.73" y="370.91" width="3.65" height="3.65" fill="#fff" stroke="#0000ff" stroke-width="1.1"/>
<rect x="120.17" y="367.96" width="3.65" height="3.65" fill="#fff" stroke="#0000ff" stroke-width="1.1"/>
<rect x="133.61" y="377.53" width="3.65" height="3.65" fill="#fff" stroke="#0000ff" stroke-width="1.1"/>
<rect x="147.05" y="375.69" width="3.65" height="3.65" fill="#fff" stroke="#0000ff" stroke-width="1.1"/>
<rect x="160.49" y="376.61" width="3.65" height="3.65" fill="#fff" stroke="#0000ff" stroke-width="1.1"/>
<line x1="54.8" y1="399.78" x2="54.8" y2="395.36" stroke="#0000ff" stroke-width="0.75"/>
<line x1="53" y1="399.78" x2="56.6" y2="399.78" stroke="#0000ff" stroke-width="0.75"/>
<line x1="53" y1="395.36" x2="56.6" y2="395.36" stroke="#0000ff" stroke-width="0.75"/>
<line x1="68.24" y1="390.4" x2="68.24" y2="377.52" stroke="#0000ff" stroke-width="0.75"/>
<line x1="66.44" y1="390.4" x2="70.04" y2="390.4" stroke="#0000ff" stroke-width="0.75"/>
<line x1="66.44" y1="377.52" x2="70.04" y2="377.52" stroke="#0000ff" stroke-width="0.75"/>
<line x1="81.68" y1="384.32" x2="81.68" y2="380.64" stroke="#0000ff" stroke-width="0.75"/>
<line x1="79.88" y1="384.32" x2="83.48" y2="384.32" stroke="#0000ff" stroke-width="0.75"/>
<line x1="79.88" y1="380.64" x2="83.48" y2="380.64" stroke="#0000ff" stroke-width="0.75"/>
<line x1="95.12" y1="397.02" x2="95.12" y2="393.34" stroke="#0000ff" stroke-width="0.75"/>
<line x1="93.32" y1="397.02" x2="96.92" y2="397.02" stroke="#0000ff" stroke-width="0.75"/>
<line x1="93.32" y1="393.34" x2="96.92" y2="393.34" stroke="#0000ff" stroke-width="0.75"/>
<line x1="108.56" y1="387.08" x2="108.56" y2="370.52" stroke="#0000ff" stroke-width="0.75"/>
<line x1="106.76" y1="387.08" x2="110.36" y2="387.08" stroke="#0000ff" stroke-width="0.75"/>
<line x1="106.76" y1="370.52" x2="110.36" y2="370.52" stroke="#0000ff" stroke-width="0.75"/>
<line x1="122" y1="372.18" x2="122" y2="364.82" stroke="#0000ff" stroke-width="0.75"/>
<line x1="120.2" y1="372.18" x2="123.8" y2="372.18" stroke="#0000ff" stroke-width="0.75"/>
<line x1="120.2" y1="364.82" x2="123.8" y2="364.82" stroke="#0000ff" stroke-width="0.75"/>
<line x1="135.44" y1="392.05" x2="135.44" y2="388.37" stroke="#0000ff" stroke-width="0.75"/>
<line x1="133.64" y1="392.05" x2="137.24" y2="392.05" stroke="#0000ff" stroke-width="0.75"/>
<line x1="133.64" y1="388.37" x2="137.24" y2="388.37" stroke="#0000ff" stroke-width="0.75"/>
<line x1="148.88" y1="383.96" x2="148.88" y2="378.44" stroke="#0000ff" stroke-width="0.75"/>
<line x1="147.08" y1="383.96" x2="150.68" y2="383.96" stroke="#0000ff" stroke-width="0.75"/>
<line x1="147.08" y1="378.44" x2="150.68" y2="378.44" stroke="#0000ff" stroke-width="0.75"/>
<line x1="162.32" y1="387.64" x2="162.32" y2="380.28" stroke="#0000ff" stroke-width="0.75"/>
<line x1="160.52" y1="387.64" x2="164.12" y2="387.64" stroke="#0000ff" stroke-width="0.75"/>
<line x1="160.52" y1="380.28" x2="164.12" y2="380.28" stroke="#0000ff" stroke-width="0.75"/>
<polyline points="54.8,397.57 68.24,383.96 81.68,382.48 95.12,395.18 108.56,378.8 122,368.5 135.44,390.21 148.88,381.2 162.32,383.96" fill="none" stroke="#0000ff" stroke-width="0.8"/>
<rect x="52.6" y="395.37" width="4.4" height="4.4" fill="#0000ff"/>
<rect x="66.04" y="381.76" width="4.4" height="4.4" fill="#0000ff"/>
<rect x="79.48" y="380.28" width="4.4" height="4.4" fill="#0000ff"/>
<rect x="92.92" y="392.98" width="4.4" height="4.4" fill="#0000ff"/>
<rect x="106.36" y="376.6" width="4.4" height="4.4" fill="#0000ff"/>
<rect x="119.8" y="366.3" width="4.4" height="4.4" fill="#0000ff"/>
<rect x="133.24" y="388.01" width="4.4" height="4.4" fill="#0000ff"/>
<rect x="146.68" y="379" width="4.4" height="4.4" fill="#0000ff"/>
<rect x="160.12" y="381.76" width="4.4" height="4.4" fill="#0000ff"/>
<line x1="54.8" y1="384.14" x2="54.8" y2="373.1" stroke="#111111" stroke-width="0.75"/>
<line x1="53" y1="384.14" x2="56.6" y2="384.14" stroke="#111111" stroke-width="0.75"/>
<line x1="53" y1="373.1" x2="56.6" y2="373.1" stroke="#111111" stroke-width="0.75"/>
<line x1="68.24" y1="374.39" x2="68.24" y2="361.51" stroke="#111111" stroke-width="0.75"/>
<line x1="66.44" y1="374.39" x2="70.04" y2="374.39" stroke="#111111" stroke-width="0.75"/>
<line x1="66.44" y1="361.51" x2="70.04" y2="361.51" stroke="#111111" stroke-width="0.75"/>
<line x1="81.68" y1="380.28" x2="81.68" y2="369.24" stroke="#111111" stroke-width="0.75"/>
<line x1="79.88" y1="380.28" x2="83.48" y2="380.28" stroke="#111111" stroke-width="0.75"/>
<line x1="79.88" y1="369.24" x2="83.48" y2="369.24" stroke="#111111" stroke-width="0.75"/>
<line x1="95.12" y1="385.43" x2="95.12" y2="378.07" stroke="#111111" stroke-width="0.75"/>
<line x1="93.32" y1="385.43" x2="96.92" y2="385.43" stroke="#111111" stroke-width="0.75"/>
<line x1="93.32" y1="378.07" x2="96.92" y2="378.07" stroke="#111111" stroke-width="0.75"/>
<line x1="108.56" y1="376.78" x2="108.56" y2="367.58" stroke="#111111" stroke-width="0.75"/>
<line x1="106.76" y1="376.78" x2="110.36" y2="376.78" stroke="#111111" stroke-width="0.75"/>
<line x1="106.76" y1="367.58" x2="110.36" y2="367.58" stroke="#111111" stroke-width="0.75"/>
<line x1="122" y1="374.94" x2="122" y2="367.58" stroke="#111111" stroke-width="0.75"/>
<line x1="120.2" y1="374.94" x2="123.8" y2="374.94" stroke="#111111" stroke-width="0.75"/>
<line x1="120.2" y1="367.58" x2="123.8" y2="367.58" stroke="#111111" stroke-width="0.75"/>
<line x1="135.44" y1="378.8" x2="135.44" y2="373.28" stroke="#111111" stroke-width="0.75"/>
<line x1="133.64" y1="378.8" x2="137.24" y2="378.8" stroke="#111111" stroke-width="0.75"/>
<line x1="133.64" y1="373.28" x2="137.24" y2="373.28" stroke="#111111" stroke-width="0.75"/>
<line x1="148.88" y1="378.62" x2="148.88" y2="373.1" stroke="#111111" stroke-width="0.75"/>
<line x1="147.08" y1="378.62" x2="150.68" y2="378.62" stroke="#111111" stroke-width="0.75"/>
<line x1="147.08" y1="373.1" x2="150.68" y2="373.1" stroke="#111111" stroke-width="0.75"/>
<line x1="162.32" y1="379.54" x2="162.32" y2="372.18" stroke="#111111" stroke-width="0.75"/>
<line x1="160.52" y1="379.54" x2="164.12" y2="379.54" stroke="#111111" stroke-width="0.75"/>
<line x1="160.52" y1="372.18" x2="164.12" y2="372.18" stroke="#111111" stroke-width="0.75"/>
<polyline points="54.8,378.62 68.24,367.95 81.68,374.76 95.12,381.75 108.56,372.18 122,371.26 135.44,376.04 148.88,375.86 162.32,375.86" fill="none" stroke="#111111" stroke-width="0.8"/>
<circle cx="54.8" cy="378.62" r="1.83" fill="#fff" stroke="#111111" stroke-width="1.1"/>
<circle cx="68.24" cy="367.95" r="1.83" fill="#fff" stroke="#111111" stroke-width="1.1"/>
<circle cx="81.68" cy="374.76" r="1.83" fill="#fff" stroke="#111111" stroke-width="1.1"/>
<circle cx="95.12" cy="381.75" r="1.83" fill="#fff" stroke="#111111" stroke-width="1.1"/>
<circle cx="108.56" cy="372.18" r="1.83" fill="#fff" stroke="#111111" stroke-width="1.1"/>
<circle cx="122" cy="371.26" r="1.83" fill="#fff" stroke="#111111" stroke-width="1.1"/>
<circle cx="135.44" cy="376.04" r="1.83" fill="#fff" stroke="#111111" stroke-width="1.1"/>
<circle cx="148.88" cy="375.86" r="1.83" fill="#fff" stroke="#111111" stroke-width="1.1"/>
<circle cx="162.32" cy="375.86" r="1.83" fill="#fff" stroke="#111111" stroke-width="1.1"/>
<line x1="54.8" y1="385.43" x2="54.8" y2="372.55" stroke="#111111" stroke-width="0.75"/>
<line x1="53" y1="385.43" x2="56.6" y2="385.43" stroke="#111111" stroke-width="0.75"/>
<line x1="53" y1="372.55" x2="56.6" y2="372.55" stroke="#111111" stroke-width="0.75"/>
<line x1="68.24" y1="384.88" x2="68.24" y2="373.84" stroke="#111111" stroke-width="0.75"/>
<line x1="66.44" y1="384.88" x2="70.04" y2="384.88" stroke="#111111" stroke-width="0.75"/>
<line x1="66.44" y1="373.84" x2="70.04" y2="373.84" stroke="#111111" stroke-width="0.75"/>
<line x1="81.68" y1="391.13" x2="81.68" y2="385.61" stroke="#111111" stroke-width="0.75"/>
<line x1="79.88" y1="391.13" x2="83.48" y2="391.13" stroke="#111111" stroke-width="0.75"/>
<line x1="79.88" y1="385.61" x2="83.48" y2="385.61" stroke="#111111" stroke-width="0.75"/>
<line x1="95.12" y1="383.59" x2="95.12" y2="374.39" stroke="#111111" stroke-width="0.75"/>
<line x1="93.32" y1="383.59" x2="96.92" y2="383.59" stroke="#111111" stroke-width="0.75"/>
<line x1="93.32" y1="374.39" x2="96.92" y2="374.39" stroke="#111111" stroke-width="0.75"/>
<line x1="108.56" y1="378.07" x2="108.56" y2="370.71" stroke="#111111" stroke-width="0.75"/>
<line x1="106.76" y1="378.07" x2="110.36" y2="378.07" stroke="#111111" stroke-width="0.75"/>
<line x1="106.76" y1="370.71" x2="110.36" y2="370.71" stroke="#111111" stroke-width="0.75"/>
<line x1="122" y1="378.99" x2="122" y2="373.47" stroke="#111111" stroke-width="0.75"/>
<line x1="120.2" y1="378.99" x2="123.8" y2="378.99" stroke="#111111" stroke-width="0.75"/>
<line x1="120.2" y1="373.47" x2="123.8" y2="373.47" stroke="#111111" stroke-width="0.75"/>
<line x1="135.44" y1="388.92" x2="135.44" y2="383.4" stroke="#111111" stroke-width="0.75"/>
<line x1="133.64" y1="388.92" x2="137.24" y2="388.92" stroke="#111111" stroke-width="0.75"/>
<line x1="133.64" y1="383.4" x2="137.24" y2="383.4" stroke="#111111" stroke-width="0.75"/>
<line x1="148.88" y1="384.51" x2="148.88" y2="378.99" stroke="#111111" stroke-width="0.75"/>
<line x1="147.08" y1="384.51" x2="150.68" y2="384.51" stroke="#111111" stroke-width="0.75"/>
<line x1="147.08" y1="378.99" x2="150.68" y2="378.99" stroke="#111111" stroke-width="0.75"/>
<line x1="162.32" y1="384.88" x2="162.32" y2="379.36" stroke="#111111" stroke-width="0.75"/>
<line x1="160.52" y1="384.88" x2="164.12" y2="384.88" stroke="#111111" stroke-width="0.75"/>
<line x1="160.52" y1="379.36" x2="164.12" y2="379.36" stroke="#111111" stroke-width="0.75"/>
<polyline points="54.8,378.99 68.24,379.36 81.68,388.37 95.12,378.99 108.56,374.39 122,376.23 135.44,386.16 148.88,381.75 162.32,382.12" fill="none" stroke="#111111" stroke-width="0.8"/>
<circle cx="54.8" cy="378.99" r="2.2" fill="#111111"/>
<circle cx="68.24" cy="379.36" r="2.2" fill="#111111"/>
<circle cx="81.68" cy="388.37" r="2.2" fill="#111111"/>
<circle cx="95.12" cy="378.99" r="2.2" fill="#111111"/>
<circle cx="108.56" cy="374.39" r="2.2" fill="#111111"/>
<circle cx="122" cy="376.23" r="2.2" fill="#111111"/>
<circle cx="135.44" cy="386.16" r="2.2" fill="#111111"/>
<circle cx="148.88" cy="381.75" r="2.2" fill="#111111"/>
<circle cx="162.32" cy="382.12" r="2.2" fill="#111111"/>
<text x="95.2" y="425" font-size="6" text-anchor="middle" fill="#0000ff">#</text>
<text x="134.9" y="426.4" font-size="7" text-anchor="middle" fill="#222">+</text>
<text x="176.6" y="313" font-size="14" font-weight="bold" fill="#000">f</text>
<text x="232.9" y="311.6" font-size="9" fill="#231f20" textLength="35.1" lengthAdjust="spacingAndGlyphs">Fat mass</text>
<text x="233.5" y="320.5" font-size="7.3" text-anchor="start" fill="#231f20"><tspan font-style="italic">P</tspan> = 0.0379</text>
<line x1="206.5" y1="336.4" x2="206.5" y2="430" stroke="#7a7a7a" stroke-width="1"/>
<line x1="203.5" y1="429.5" x2="206.5" y2="429.5" stroke="#7a7a7a" stroke-width="1"/>
<text x="200.8" y="431.8" font-size="7.3" text-anchor="end" fill="#3a3a3a">0</text>
<line x1="203.5" y1="398.5" x2="206.5" y2="398.5" stroke="#7a7a7a" stroke-width="1"/>
<text x="200.8" y="400.83" font-size="7.3" text-anchor="end" fill="#3a3a3a">10</text>
<line x1="203.5" y1="367.5" x2="206.5" y2="367.5" stroke="#7a7a7a" stroke-width="1"/>
<text x="200.8" y="369.86" font-size="7.3" text-anchor="end" fill="#3a3a3a">20</text>
<line x1="203.5" y1="336.5" x2="206.5" y2="336.5" stroke="#7a7a7a" stroke-width="1"/>
<text x="200.8" y="338.89" font-size="7.3" text-anchor="end" fill="#3a3a3a">30</text>
<line x1="206" y1="429.5" x2="299.8" y2="429.5" stroke="#7a7a7a" stroke-width="1"/>
<line x1="228.5" y1="429.5" x2="228.5" y2="432" stroke="#7a7a7a" stroke-width="1"/>
<line x1="277.5" y1="429.5" x2="277.5" y2="432" stroke="#7a7a7a" stroke-width="1"/>
<text x="228.4" y="444.3" font-size="8.8" text-anchor="middle" fill="#231f20"><tspan font-style="italic">Glp1r</tspan><tspan font-size="6.9" dy="-3.5" letter-spacing="0.15">fl/fl</tspan></text>
<text x="277.6" y="444.3" font-size="8.8" text-anchor="middle" fill="#231f20"><tspan font-style="italic">Glp1r</tspan><tspan font-size="6" dy="-3.5" letter-spacing="-0.1">Wnt1−/−</tspan></text>
<text transform="translate(183.2 383.2) rotate(-90)" x="0" y="0" font-size="8.7" text-anchor="middle" fill="#231f20">Fat mass (g)</text>
<path d="M215.4 328.1 V324 H284.8 V328.1" fill="none" stroke="#6e6e6e" stroke-width="0.8"/>
<text x="218.6" y="331.2" font-size="7.3" text-anchor="start" fill="#231f20"><tspan font-style="italic">P</tspan> =</text>
<text x="210.2" y="339.9" font-size="7.3" text-anchor="start" fill="#231f20">0.0006</text>
<text x="247.2" y="331.2" font-size="7.3" text-anchor="start" fill="#231f20"><tspan font-style="italic">P</tspan> =</text>
<text x="239.7" y="339.9" font-size="7.3" text-anchor="start" fill="#231f20">0.0028</text>
<text x="274.1" y="339.4" font-size="7.3" text-anchor="start" fill="#231f20">ns</text>
<path d="M217.2 350.4 V342.5 H234.4 V365.7" fill="none" stroke="#6e6e6e" stroke-width="0.8"/>
<path d="M236.6 365.7 V342.5 H266.7 V347.6" fill="none" stroke="#6e6e6e" stroke-width="0.8"/>
<path d="M268.5 347.6 V342.5 H287.5 V359.4" fill="none" stroke="#6e6e6e" stroke-width="0.8"/>
<line x1="218.8" y1="367.3" x2="218.8" y2="371.7" stroke="#111111" stroke-width="0.8"/>
<line x1="215.86" y1="367.3" x2="221.75" y2="367.3" stroke="#111111" stroke-width="0.8"/>
<line x1="215.86" y1="371.7" x2="221.75" y2="371.7" stroke="#111111" stroke-width="0.8"/>
<line x1="212.6" y1="369.4" x2="225" y2="369.4" stroke="#111111" stroke-width="1.15"/>
<circle cx="217.2" cy="359.1" r="1.9" fill="#111111"/>
<circle cx="214.4" cy="362.9" r="1.9" fill="#111111"/>
<circle cx="223" cy="362.2" r="1.9" fill="#111111"/>
<circle cx="220" cy="365.7" r="1.9" fill="#111111"/>
<circle cx="217.5" cy="367.7" r="1.9" fill="#111111"/>
<circle cx="216.8" cy="369.8" r="1.9" fill="#111111"/>
<circle cx="220.5" cy="370.8" r="1.9" fill="#111111"/>
<circle cx="217.5" cy="374" r="1.9" fill="#111111"/>
<circle cx="220" cy="380.2" r="1.9" fill="#111111"/>
<circle cx="217.2" cy="383.3" r="1.9" fill="#111111"/>
<line x1="237.6" y1="384.9" x2="237.6" y2="390.3" stroke="#0000ff" stroke-width="0.8"/>
<line x1="234.66" y1="384.9" x2="240.54" y2="384.9" stroke="#0000ff" stroke-width="0.8"/>
<line x1="234.66" y1="390.3" x2="240.54" y2="390.3" stroke="#0000ff" stroke-width="0.8"/>
<line x1="231.4" y1="387.4" x2="243.8" y2="387.4" stroke="#111111" stroke-width="1.15"/>
<rect x="230.8" y="375.3" width="3.8" height="3.8" fill="#0000ff"/>
<rect x="235" y="376.7" width="3.8" height="3.8" fill="#0000ff"/>
<rect x="239.9" y="375.8" width="3.8" height="3.8" fill="#0000ff"/>
<rect x="236.4" y="377.2" width="3.8" height="3.8" fill="#0000ff"/>
<rect x="232.2" y="383.9" width="3.8" height="3.8" fill="#0000ff"/>
<rect x="237.1" y="383.9" width="3.8" height="3.8" fill="#0000ff"/>
<rect x="234.3" y="387.3" width="3.8" height="3.8" fill="#0000ff"/>
<rect x="233.6" y="391.5" width="3.8" height="3.8" fill="#0000ff"/>
<rect x="237.1" y="392.9" width="3.8" height="3.8" fill="#0000ff"/>
<rect x="235.3" y="407.7" width="3.8" height="3.8" fill="#0000ff"/>
<line x1="268.5" y1="369.9" x2="268.5" y2="374.6" stroke="#111111" stroke-width="0.8"/>
<line x1="266.98" y1="369.9" x2="270.02" y2="369.9" stroke="#111111" stroke-width="0.8"/>
<line x1="266.98" y1="374.6" x2="270.02" y2="374.6" stroke="#111111" stroke-width="0.8"/>
<line x1="265.3" y1="372.2" x2="271.7" y2="372.2" stroke="#111111" stroke-width="1.15"/>
<circle cx="268.5" cy="353.2" r="1.73" fill="none" stroke="#111111" stroke-width="1.1"/>
<circle cx="273" cy="364.7" r="1.73" fill="none" stroke="#111111" stroke-width="1.1"/>
<circle cx="264" cy="366.1" r="1.73" fill="none" stroke="#111111" stroke-width="1.1"/>
<circle cx="268.5" cy="369.4" r="1.73" fill="none" stroke="#111111" stroke-width="1.1"/>
<circle cx="264" cy="370.2" r="1.73" fill="none" stroke="#111111" stroke-width="1.1"/>
<circle cx="268.5" cy="371.9" r="1.73" fill="none" stroke="#111111" stroke-width="1.1"/>
<circle cx="273" cy="372.6" r="1.73" fill="none" stroke="#111111" stroke-width="1.1"/>
<circle cx="268.5" cy="374" r="1.73" fill="none" stroke="#111111" stroke-width="1.1"/>
<circle cx="273" cy="379.1" r="1.73" fill="none" stroke="#111111" stroke-width="1.1"/>
<circle cx="268.5" cy="381.3" r="1.73" fill="none" stroke="#111111" stroke-width="1.1"/>
<circle cx="268.5" cy="387.4" r="1.73" fill="none" stroke="#111111" stroke-width="1.1"/>
<line x1="287.1" y1="378.9" x2="287.1" y2="384" stroke="#0000ff" stroke-width="0.8"/>
<line x1="285.58" y1="378.9" x2="288.62" y2="378.9" stroke="#0000ff" stroke-width="0.8"/>
<line x1="285.58" y1="384" x2="288.62" y2="384" stroke="#0000ff" stroke-width="0.8"/>
<line x1="283.9" y1="381.3" x2="290.3" y2="381.3" stroke="#111111" stroke-width="1.15"/>
<rect x="289.97" y="363.47" width="3.46" height="3.46" fill="none" stroke="#0000ff" stroke-width="1.1"/>
<rect x="285.37" y="366.67" width="3.46" height="3.46" fill="none" stroke="#0000ff" stroke-width="1.1"/>
<rect x="280.97" y="372.27" width="3.46" height="3.46" fill="none" stroke="#0000ff" stroke-width="1.1"/>
<rect x="285.77" y="375.47" width="3.46" height="3.46" fill="none" stroke="#0000ff" stroke-width="1.1"/>
<rect x="280.97" y="381.27" width="3.46" height="3.46" fill="none" stroke="#0000ff" stroke-width="1.1"/>
<rect x="285.37" y="381.57" width="3.46" height="3.46" fill="none" stroke="#0000ff" stroke-width="1.1"/>
<rect x="289.97" y="380.97" width="3.46" height="3.46" fill="none" stroke="#0000ff" stroke-width="1.1"/>
<rect x="285.37" y="385.17" width="3.46" height="3.46" fill="none" stroke="#0000ff" stroke-width="1.1"/>
<rect x="285.77" y="387.97" width="3.46" height="3.46" fill="none" stroke="#0000ff" stroke-width="1.1"/>
<rect x="289.97" y="389.87" width="3.46" height="3.46" fill="none" stroke="#0000ff" stroke-width="1.1"/>
<rect x="280.97" y="393.77" width="3.46" height="3.46" fill="none" stroke="#0000ff" stroke-width="1.1"/>
<text x="310.5" y="313" font-size="14" font-weight="bold" fill="#000">g</text>
<text x="354.6" y="311.6" font-size="9" fill="#231f20">Inguinal WAT</text>
<line x1="336.5" y1="338" x2="336.5" y2="429" stroke="#7a7a7a" stroke-width="1"/>
<line x1="333.5" y1="428.5" x2="336.5" y2="428.5" stroke="#7a7a7a" stroke-width="1"/>
<text x="330.6" y="431" font-size="7.3" text-anchor="end" fill="#3a3a3a">0</text>
<line x1="333.5" y1="410.5" x2="336.5" y2="410.5" stroke="#7a7a7a" stroke-width="1"/>
<text x="330.6" y="412.9" font-size="7.3" text-anchor="end" fill="#3a3a3a">1</text>
<line x1="333.5" y1="392.5" x2="336.5" y2="392.5" stroke="#7a7a7a" stroke-width="1"/>
<text x="330.6" y="394.8" font-size="7.3" text-anchor="end" fill="#3a3a3a">2</text>
<line x1="333.5" y1="374.5" x2="336.5" y2="374.5" stroke="#7a7a7a" stroke-width="1"/>
<text x="330.6" y="376.7" font-size="7.3" text-anchor="end" fill="#3a3a3a">3</text>
<line x1="333.5" y1="356.5" x2="336.5" y2="356.5" stroke="#7a7a7a" stroke-width="1"/>
<text x="330.6" y="358.6" font-size="7.3" text-anchor="end" fill="#3a3a3a">4</text>
<line x1="333.5" y1="338.5" x2="336.5" y2="338.5" stroke="#7a7a7a" stroke-width="1"/>
<text x="330.6" y="340.5" font-size="7.3" text-anchor="end" fill="#3a3a3a">5</text>
<line x1="336" y1="428.5" x2="427.8" y2="428.5" stroke="#7a7a7a" stroke-width="1"/>
<line x1="357.5" y1="428.5" x2="357.5" y2="431" stroke="#7a7a7a" stroke-width="1"/>
<line x1="406.5" y1="428.5" x2="406.5" y2="431" stroke="#7a7a7a" stroke-width="1"/>
<text x="357.3" y="444.3" font-size="8.8" text-anchor="middle" fill="#231f20"><tspan font-style="italic">Glp1r</tspan><tspan font-size="6.9" dy="-3.5" letter-spacing="0.15">fl/fl</tspan></text>
<text x="406.8" y="444.3" font-size="8.8" text-anchor="middle" fill="#231f20"><tspan font-style="italic">Glp1r</tspan><tspan font-size="6" dy="-3.5" letter-spacing="-0.1">Wnt1−/−</tspan></text>
<text transform="translate(318.3 384) rotate(-90)" x="0" y="0" font-size="8.95" text-anchor="middle" fill="#231f20">Inguinal WAT (g)</text>
<text x="340.8" y="358" font-size="7.3" text-anchor="start" fill="#231f20"><tspan font-style="italic">P</tspan> = 0.0015</text>
<path d="M348.5 366.3 V361.5 H367 V388" fill="none" stroke="#6e6e6e" stroke-width="0.8"/>
<line x1="348.6" y1="390.6" x2="348.6" y2="396.5" stroke="#111111" stroke-width="0.8"/>
<line x1="345.66" y1="390.6" x2="351.55" y2="390.6" stroke="#111111" stroke-width="0.8"/>
<line x1="345.66" y1="396.5" x2="351.55" y2="396.5" stroke="#111111" stroke-width="0.8"/>
<line x1="342.4" y1="393.4" x2="354.8" y2="393.4" stroke="#111111" stroke-width="1.15"/>
<circle cx="348.6" cy="376.8" r="1.9" fill="#111111"/>
<circle cx="344.4" cy="386.9" r="1.9" fill="#111111"/>
<circle cx="348.6" cy="386.5" r="1.9" fill="#111111"/>
<circle cx="353" cy="385.8" r="1.9" fill="#111111"/>
<circle cx="353" cy="390.2" r="1.9" fill="#111111"/>
<circle cx="348.6" cy="393.4" r="1.9" fill="#111111"/>
<circle cx="346.1" cy="401.3" r="1.9" fill="#111111"/>
<circle cx="350.5" cy="401.3" r="1.9" fill="#111111"/>
<circle cx="348.6" cy="405.2" r="1.9" fill="#111111"/>
<circle cx="348.6" cy="409.4" r="1.9" fill="#111111"/>
<line x1="366.4" y1="403.8" x2="366.4" y2="408.2" stroke="#0000ff" stroke-width="0.8"/>
<line x1="363.45" y1="403.8" x2="369.34" y2="403.8" stroke="#0000ff" stroke-width="0.8"/>
<line x1="363.45" y1="408.2" x2="369.34" y2="408.2" stroke="#0000ff" stroke-width="0.8"/>
<line x1="360.2" y1="405.9" x2="372.6" y2="405.9" stroke="#111111" stroke-width="1.15"/>
<rect x="363.9" y="396.8" width="3.8" height="3.8" fill="#0000ff"/>
<rect x="360.8" y="401.2" width="3.8" height="3.8" fill="#0000ff"/>
<rect x="366.1" y="400.5" width="3.8" height="3.8" fill="#0000ff"/>
<rect x="362.9" y="404" width="3.8" height="3.8" fill="#0000ff"/>
<rect x="360.8" y="407.5" width="3.8" height="3.8" fill="#0000ff"/>
<rect x="366.1" y="407.5" width="3.8" height="3.8" fill="#0000ff"/>
<rect x="369.4" y="407.5" width="3.8" height="3.8" fill="#0000ff"/>
<rect x="365" y="415.1" width="3.8" height="3.8" fill="#0000ff"/>
<rect x="365" y="419.7" width="3.8" height="3.8" fill="#0000ff"/>
<line x1="397.4" y1="399.2" x2="397.4" y2="404.2" stroke="#111111" stroke-width="0.8"/>
<line x1="394.45" y1="399.2" x2="400.34" y2="399.2" stroke="#111111" stroke-width="0.8"/>
<line x1="394.45" y1="404.2" x2="400.34" y2="404.2" stroke="#111111" stroke-width="0.8"/>
<line x1="391.2" y1="401.8" x2="403.6" y2="401.8" stroke="#111111" stroke-width="1.15"/>
<circle cx="397.4" cy="384.8" r="1.73" fill="none" stroke="#111111" stroke-width="1.1"/>
<circle cx="401.9" cy="392" r="1.73" fill="none" stroke="#111111" stroke-width="1.1"/>
<circle cx="397.4" cy="395.2" r="1.73" fill="none" stroke="#111111" stroke-width="1.1"/>
<circle cx="393" cy="399.7" r="1.73" fill="none" stroke="#111111" stroke-width="1.1"/>
<circle cx="397.4" cy="399" r="1.73" fill="none" stroke="#111111" stroke-width="1.1"/>
<circle cx="401.9" cy="400.4" r="1.73" fill="none" stroke="#111111" stroke-width="1.1"/>
<circle cx="401.9" cy="406.3" r="1.73" fill="none" stroke="#111111" stroke-width="1.1"/>
<circle cx="397.4" cy="408" r="1.73" fill="none" stroke="#111111" stroke-width="1.1"/>
<circle cx="393" cy="411.5" r="1.73" fill="none" stroke="#111111" stroke-width="1.1"/>
<circle cx="401.9" cy="410.5" r="1.73" fill="none" stroke="#111111" stroke-width="1.1"/>
<line x1="415.5" y1="401.9" x2="415.5" y2="407.1" stroke="#0000ff" stroke-width="0.8"/>
<line x1="412.56" y1="401.9" x2="418.44" y2="401.9" stroke="#0000ff" stroke-width="0.8"/>
<line x1="412.56" y1="407.1" x2="418.44" y2="407.1" stroke="#0000ff" stroke-width="0.8"/>
<line x1="409.3" y1="404.5" x2="421.7" y2="404.5" stroke="#111111" stroke-width="1.15"/>
<rect x="412.07" y="392.07" width="3.46" height="3.46" fill="none" stroke="#0000ff" stroke-width="1.1"/>
<rect x="415.37" y="392.07" width="3.46" height="3.46" fill="none" stroke="#0000ff" stroke-width="1.1"/>
<rect x="409.27" y="400.97" width="3.46" height="3.46" fill="none" stroke="#0000ff" stroke-width="1.1"/>
<rect x="412.37" y="399.57" width="3.46" height="3.46" fill="none" stroke="#0000ff" stroke-width="1.1"/>
<rect x="418.17" y="401.37" width="3.46" height="3.46" fill="none" stroke="#0000ff" stroke-width="1.1"/>
<rect x="415.07" y="403.27" width="3.46" height="3.46" fill="none" stroke="#0000ff" stroke-width="1.1"/>
<rect x="412.37" y="407.67" width="3.46" height="3.46" fill="none" stroke="#0000ff" stroke-width="1.1"/>
<rect x="418.17" y="406.57" width="3.46" height="3.46" fill="none" stroke="#0000ff" stroke-width="1.1"/>
<rect x="415.07" y="410.47" width="3.46" height="3.46" fill="none" stroke="#0000ff" stroke-width="1.1"/>
<rect x="413.67" y="416.27" width="3.46" height="3.46" fill="none" stroke="#0000ff" stroke-width="1.1"/>
<text x="439" y="313" font-size="14" font-weight="bold" fill="#000">h</text>
<text x="476.4" y="311.6" font-size="9" fill="#231f20">Epididymal WAT</text>
<line x1="463.5" y1="338.4" x2="463.5" y2="429" stroke="#7a7a7a" stroke-width="1"/>
<line x1="460.5" y1="428.5" x2="463.5" y2="428.5" stroke="#7a7a7a" stroke-width="1"/>
<text x="457.7" y="431.2" font-size="7.3" text-anchor="end" fill="#3a3a3a">0</text>
<line x1="460.5" y1="410.5" x2="463.5" y2="410.5" stroke="#7a7a7a" stroke-width="1"/>
<text x="457.7" y="413.14" font-size="7.3" text-anchor="end" fill="#3a3a3a">1</text>
<line x1="460.5" y1="392.5" x2="463.5" y2="392.5" stroke="#7a7a7a" stroke-width="1"/>
<text x="457.7" y="395.08" font-size="7.3" text-anchor="end" fill="#3a3a3a">2</text>
<line x1="460.5" y1="374.5" x2="463.5" y2="374.5" stroke="#7a7a7a" stroke-width="1"/>
<text x="457.7" y="377.02" font-size="7.3" text-anchor="end" fill="#3a3a3a">3</text>
<line x1="460.5" y1="356.5" x2="463.5" y2="356.5" stroke="#7a7a7a" stroke-width="1"/>
<text x="457.7" y="358.96" font-size="7.3" text-anchor="end" fill="#3a3a3a">4</text>
<line x1="460.5" y1="338.5" x2="463.5" y2="338.5" stroke="#7a7a7a" stroke-width="1"/>
<text x="457.7" y="340.9" font-size="7.3" text-anchor="end" fill="#3a3a3a">5</text>
<line x1="463" y1="428.5" x2="555.8" y2="428.5" stroke="#7a7a7a" stroke-width="1"/>
<line x1="485.5" y1="428.5" x2="485.5" y2="431" stroke="#7a7a7a" stroke-width="1"/>
<line x1="534.5" y1="428.5" x2="534.5" y2="431" stroke="#7a7a7a" stroke-width="1"/>
<text x="485.3" y="444.3" font-size="8.8" text-anchor="middle" fill="#231f20"><tspan font-style="italic">Glp1r</tspan><tspan font-size="6.9" dy="-3.5" letter-spacing="0.15">fl/fl</tspan></text>
<text x="534.1" y="444.3" font-size="8.8" text-anchor="middle" fill="#231f20"><tspan font-style="italic">Glp1r</tspan><tspan font-size="6" dy="-3.5" letter-spacing="-0.1">Wnt1−/−</tspan></text>
<text transform="translate(447.5 384.3) rotate(-90)" x="0" y="0" font-size="9.1" text-anchor="middle" fill="#231f20">Epididymal WAT (g)</text>
<text x="500.5" y="349.8" font-size="7.3" text-anchor="start" fill="#231f20"><tspan font-style="italic">P</tspan> = 0.0285</text>
<path d="M493.3 383.8 V353.3 H541.8 V372.5" fill="none" stroke="#6e6e6e" stroke-width="0.8"/>
<line x1="476.8" y1="392.8" x2="476.8" y2="398.2" stroke="#111111" stroke-width="0.8"/>
<line x1="473.86" y1="392.8" x2="479.75" y2="392.8" stroke="#111111" stroke-width="0.8"/>
<line x1="473.86" y1="398.2" x2="479.75" y2="398.2" stroke="#111111" stroke-width="0.8"/>
<line x1="470.6" y1="395.5" x2="483" y2="395.5" stroke="#111111" stroke-width="1.15"/>
<circle cx="476.8" cy="385.8" r="1.9" fill="#111111"/>
<circle cx="472.6" cy="387.9" r="1.9" fill="#111111"/>
<circle cx="476.8" cy="390" r="1.9" fill="#111111"/>
<circle cx="481" cy="392.7" r="1.9" fill="#111111"/>
<circle cx="472.6" cy="392.7" r="1.9" fill="#111111"/>
<circle cx="476.8" cy="396.2" r="1.9" fill="#111111"/>
<circle cx="481" cy="398.3" r="1.9" fill="#111111"/>
<circle cx="472.6" cy="401.1" r="1.9" fill="#111111"/>
<circle cx="476.8" cy="401.3" r="1.9" fill="#111111"/>
<circle cx="472.6" cy="404.5" r="1.9" fill="#111111"/>
<circle cx="476.8" cy="404.5" r="1.9" fill="#111111"/>
<circle cx="481" cy="404.5" r="1.9" fill="#111111"/>
<line x1="494.3" y1="402.3" x2="494.3" y2="406.7" stroke="#0000ff" stroke-width="0.8"/>
<line x1="491.36" y1="402.3" x2="497.25" y2="402.3" stroke="#0000ff" stroke-width="0.8"/>
<line x1="491.36" y1="406.7" x2="497.25" y2="406.7" stroke="#0000ff" stroke-width="0.8"/>
<line x1="488.1" y1="404.5" x2="500.5" y2="404.5" stroke="#111111" stroke-width="1.15"/>
<rect x="491.5" y="393.9" width="3.8" height="3.8" fill="#0000ff"/>
<rect x="488.8" y="395.7" width="3.8" height="3.8" fill="#0000ff"/>
<rect x="490.8" y="398.5" width="3.8" height="3.8" fill="#0000ff"/>
<rect x="497.1" y="400.5" width="3.8" height="3.8" fill="#0000ff"/>
<rect x="488.8" y="401.2" width="3.8" height="3.8" fill="#0000ff"/>
<rect x="492.9" y="402.6" width="3.8" height="3.8" fill="#0000ff"/>
<rect x="497.1" y="404.7" width="3.8" height="3.8" fill="#0000ff"/>
<rect x="488.8" y="407.5" width="3.8" height="3.8" fill="#0000ff"/>
<rect x="492.9" y="408.2" width="3.8" height="3.8" fill="#0000ff"/>
<rect x="497.1" y="408.2" width="3.8" height="3.8" fill="#0000ff"/>
<line x1="524.9" y1="391.3" x2="524.9" y2="397.5" stroke="#111111" stroke-width="0.8"/>
<line x1="521.95" y1="391.3" x2="527.85" y2="391.3" stroke="#111111" stroke-width="0.8"/>
<line x1="521.95" y1="397.5" x2="527.85" y2="397.5" stroke="#111111" stroke-width="0.8"/>
<line x1="518.7" y1="394.4" x2="531.1" y2="394.4" stroke="#111111" stroke-width="1.15"/>
<circle cx="524.9" cy="370.3" r="1.73" fill="none" stroke="#111111" stroke-width="1.1"/>
<circle cx="526.3" cy="387.2" r="1.73" fill="none" stroke="#111111" stroke-width="1.1"/>
<circle cx="523.3" cy="390" r="1.73" fill="none" stroke="#111111" stroke-width="1.1"/>
<circle cx="520.5" cy="394.1" r="1.73" fill="none" stroke="#111111" stroke-width="1.1"/>
<circle cx="524.9" cy="394.8" r="1.73" fill="none" stroke="#111111" stroke-width="1.1"/>
<circle cx="528.8" cy="395.5" r="1.73" fill="none" stroke="#111111" stroke-width="1.1"/>
<circle cx="523.3" cy="398.3" r="1.73" fill="none" stroke="#111111" stroke-width="1.1"/>
<circle cx="526.3" cy="401.3" r="1.73" fill="none" stroke="#111111" stroke-width="1.1"/>
<circle cx="524.9" cy="407.3" r="1.73" fill="none" stroke="#111111" stroke-width="1.1"/>
<line x1="543.4" y1="391" x2="543.4" y2="397.8" stroke="#0000ff" stroke-width="0.8"/>
<line x1="540.45" y1="391" x2="546.35" y2="391" stroke="#0000ff" stroke-width="0.8"/>
<line x1="540.45" y1="397.8" x2="546.35" y2="397.8" stroke="#0000ff" stroke-width="0.8"/>
<line x1="537.2" y1="394.4" x2="549.6" y2="394.4" stroke="#0000ff" stroke-width="1.15"/>
<rect x="539.27" y="376.47" width="3.46" height="3.46" fill="none" stroke="#0000ff" stroke-width="1.1"/>
<rect x="542.97" y="378.57" width="3.46" height="3.46" fill="none" stroke="#0000ff" stroke-width="1.1"/>
<rect x="537.47" y="390.77" width="3.46" height="3.46" fill="none" stroke="#0000ff" stroke-width="1.1"/>
<rect x="542.57" y="391.27" width="3.46" height="3.46" fill="none" stroke="#0000ff" stroke-width="1.1"/>
<rect x="537.47" y="394.87" width="3.46" height="3.46" fill="none" stroke="#0000ff" stroke-width="1.1"/>
<rect x="546.17" y="394.47" width="3.46" height="3.46" fill="none" stroke="#0000ff" stroke-width="1.1"/>
<rect x="542.27" y="395.87" width="3.46" height="3.46" fill="none" stroke="#0000ff" stroke-width="1.1"/>
<rect x="541.67" y="402.07" width="3.46" height="3.46" fill="none" stroke="#0000ff" stroke-width="1.1"/>
<rect x="541.67" y="407.97" width="3.46" height="3.46" fill="none" stroke="#0000ff" stroke-width="1.1"/>
<text x="566.7" y="313" font-size="14" font-weight="bold" fill="#000">i</text>
<text x="622.6" y="311.6" font-size="9" fill="#231f20">Liver</text>
<line x1="591.5" y1="336.4" x2="591.5" y2="429" stroke="#7a7a7a" stroke-width="1"/>
<line x1="588.5" y1="428.5" x2="591.5" y2="428.5" stroke="#7a7a7a" stroke-width="1"/>
<text x="585.6" y="431" font-size="7.3" text-anchor="end" fill="#3a3a3a">0</text>
<line x1="588.5" y1="410.5" x2="591.5" y2="410.5" stroke="#7a7a7a" stroke-width="1"/>
<text x="585.6" y="412.58" font-size="7.3" text-anchor="end" fill="#3a3a3a">1</text>
<line x1="588.5" y1="391.5" x2="591.5" y2="391.5" stroke="#7a7a7a" stroke-width="1"/>
<text x="585.6" y="394.16" font-size="7.3" text-anchor="end" fill="#3a3a3a">2</text>
<line x1="588.5" y1="373.5" x2="591.5" y2="373.5" stroke="#7a7a7a" stroke-width="1"/>
<text x="585.6" y="375.74" font-size="7.3" text-anchor="end" fill="#3a3a3a">3</text>
<line x1="588.5" y1="354.5" x2="591.5" y2="354.5" stroke="#7a7a7a" stroke-width="1"/>
<text x="585.6" y="357.32" font-size="7.3" text-anchor="end" fill="#3a3a3a">4</text>
<line x1="588.5" y1="336.5" x2="591.5" y2="336.5" stroke="#7a7a7a" stroke-width="1"/>
<text x="585.6" y="338.9" font-size="7.3" text-anchor="end" fill="#3a3a3a">5</text>
<line x1="591" y1="428.5" x2="683.8" y2="428.5" stroke="#7a7a7a" stroke-width="1"/>
<line x1="613.5" y1="428.5" x2="613.5" y2="431" stroke="#7a7a7a" stroke-width="1"/>
<line x1="662.5" y1="428.5" x2="662.5" y2="431" stroke="#7a7a7a" stroke-width="1"/>
<text x="613.7" y="444.3" font-size="8.8" text-anchor="middle" fill="#231f20"><tspan font-style="italic">Glp1r</tspan><tspan font-size="6.9" dy="-3.5" letter-spacing="0.15">fl/fl</tspan></text>
<text x="662.5" y="444.3" font-size="8.8" text-anchor="middle" fill="#231f20"><tspan font-style="italic">Glp1r</tspan><tspan font-size="6" dy="-3.5" letter-spacing="-0.1">Wnt1−/−</tspan></text>
<text transform="translate(573.7 383) rotate(-90)" x="0" y="0" font-size="9.25" text-anchor="middle" fill="#231f20">Liver weight (g)</text>
<text x="622.6" y="346.7" font-size="7.3" text-anchor="start" fill="#231f20"><tspan font-style="italic">P</tspan> = 0.0182</text>
<path d="M623.6 383.2 V351.2 H653.5 V358.4" fill="none" stroke="#6e6e6e" stroke-width="0.8"/>
<line x1="604.2" y1="387.9" x2="604.2" y2="395.9" stroke="#111111" stroke-width="0.8"/>
<line x1="601.25" y1="387.9" x2="607.15" y2="387.9" stroke="#111111" stroke-width="0.8"/>
<line x1="601.25" y1="395.9" x2="607.15" y2="395.9" stroke="#111111" stroke-width="0.8"/>
<line x1="598" y1="391.9" x2="610.4" y2="391.9" stroke="#111111" stroke-width="1.15"/>
<circle cx="604.2" cy="371.1" r="1.9" fill="#111111"/>
<circle cx="599.9" cy="378.8" r="1.9" fill="#111111"/>
<circle cx="608.6" cy="382" r="1.9" fill="#111111"/>
<circle cx="599.9" cy="386.4" r="1.9" fill="#111111"/>
<circle cx="608.6" cy="386.4" r="1.9" fill="#111111"/>
<circle cx="599.9" cy="396.5" r="1.9" fill="#111111"/>
<circle cx="608.6" cy="396.9" r="1.9" fill="#111111"/>
<circle cx="599.9" cy="405" r="1.9" fill="#111111"/>
<circle cx="608.6" cy="405.5" r="1.9" fill="#111111"/>
<circle cx="604.2" cy="410.1" r="1.9" fill="#111111"/>
<line x1="623" y1="400.2" x2="623" y2="404.4" stroke="#0000ff" stroke-width="0.8"/>
<line x1="620.05" y1="400.2" x2="625.95" y2="400.2" stroke="#0000ff" stroke-width="0.8"/>
<line x1="620.05" y1="404.4" x2="625.95" y2="404.4" stroke="#0000ff" stroke-width="0.8"/>
<line x1="616.8" y1="402.3" x2="629.2" y2="402.3" stroke="#111111" stroke-width="1.15"/>
<rect x="621.1" y="392.7" width="3.8" height="3.8" fill="#0000ff"/>
<rect x="617.3" y="397" width="3.8" height="3.8" fill="#0000ff"/>
<rect x="624.7" y="397.3" width="3.8" height="3.8" fill="#0000ff"/>
<rect x="621.1" y="398.7" width="3.8" height="3.8" fill="#0000ff"/>
<rect x="616.6" y="401.1" width="3.8" height="3.8" fill="#0000ff"/>
<rect x="621.1" y="402.5" width="3.8" height="3.8" fill="#0000ff"/>
<rect x="624.7" y="399.1" width="3.8" height="3.8" fill="#0000ff"/>
<rect x="621.1" y="407.6" width="3.8" height="3.8" fill="#0000ff"/>
<rect x="621.1" y="412.2" width="3.8" height="3.8" fill="#0000ff"/>
<line x1="653.8" y1="386" x2="653.8" y2="392.8" stroke="#111111" stroke-width="0.8"/>
<line x1="650.85" y1="386" x2="656.75" y2="386" stroke="#111111" stroke-width="0.8"/>
<line x1="650.85" y1="392.8" x2="656.75" y2="392.8" stroke="#111111" stroke-width="0.8"/>
<line x1="647.6" y1="389.4" x2="660" y2="389.4" stroke="#111111" stroke-width="1.15"/>
<circle cx="653.8" cy="368.8" r="1.73" fill="none" stroke="#111111" stroke-width="1.1"/>
<circle cx="649.3" cy="379.7" r="1.73" fill="none" stroke="#111111" stroke-width="1.1"/>
<circle cx="653.8" cy="381.3" r="1.73" fill="none" stroke="#111111" stroke-width="1.1"/>
<circle cx="658.2" cy="379.9" r="1.73" fill="none" stroke="#111111" stroke-width="1.1"/>
<circle cx="649.3" cy="393.5" r="1.73" fill="none" stroke="#111111" stroke-width="1.1"/>
<circle cx="653.8" cy="395.5" r="1.73" fill="none" stroke="#111111" stroke-width="1.1"/>
<circle cx="658.2" cy="396" r="1.73" fill="none" stroke="#111111" stroke-width="1.1"/>
<circle cx="649.3" cy="398.3" r="1.73" fill="none" stroke="#111111" stroke-width="1.1"/>
<circle cx="653.8" cy="398.9" r="1.73" fill="none" stroke="#111111" stroke-width="1.1"/>
<circle cx="658.2" cy="399.6" r="1.73" fill="none" stroke="#111111" stroke-width="1.1"/>
<circle cx="649.3" cy="402.3" r="1.73" fill="none" stroke="#111111" stroke-width="1.1"/>
<line x1="672.1" y1="396.6" x2="672.1" y2="401" stroke="#0000ff" stroke-width="0.8"/>
<line x1="669.15" y1="396.6" x2="675.05" y2="396.6" stroke="#0000ff" stroke-width="0.8"/>
<line x1="669.15" y1="401" x2="675.05" y2="401" stroke="#0000ff" stroke-width="0.8"/>
<line x1="665.9" y1="398.7" x2="678.3" y2="398.7" stroke="#111111" stroke-width="1.15"/>
<rect x="670.37" y="380.67" width="3.46" height="3.46" fill="none" stroke="#0000ff" stroke-width="1.1"/>
<rect x="670.37" y="386.67" width="3.46" height="3.46" fill="none" stroke="#0000ff" stroke-width="1.1"/>
<rect x="671.07" y="395.57" width="3.46" height="3.46" fill="none" stroke="#0000ff" stroke-width="1.1"/>
<rect x="667.67" y="398.87" width="3.46" height="3.46" fill="none" stroke="#0000ff" stroke-width="1.1"/>
<rect x="665.57" y="402.37" width="3.46" height="3.46" fill="none" stroke="#0000ff" stroke-width="1.1"/>
<rect x="673.07" y="401.27" width="3.46" height="3.46" fill="none" stroke="#0000ff" stroke-width="1.1"/>
<rect x="669.67" y="401.97" width="3.46" height="3.46" fill="none" stroke="#0000ff" stroke-width="1.1"/>
<rect x="675.07" y="401.97" width="3.46" height="3.46" fill="none" stroke="#0000ff" stroke-width="1.1"/>
<rect x="672.37" y="404.27" width="3.46" height="3.46" fill="none" stroke="#0000ff" stroke-width="1.1"/>
<text x="21.9" y="475.3" font-size="14" font-weight="bold" fill="#000">j</text>
<text x="54.1" y="474.7" font-size="9" fill="#231f20">Change in body weight</text>
<line x1="55.5" y1="502" x2="55.5" y2="587" stroke="#7a7a7a" stroke-width="1"/>
<line x1="52.5" y1="501.5" x2="55.5" y2="501.5" stroke="#7a7a7a" stroke-width="1"/>
<text x="49.6" y="504.46" font-size="7.3" text-anchor="end" fill="#3a3a3a">15</text>
<line x1="52.5" y1="511.5" x2="55.5" y2="511.5" stroke="#7a7a7a" stroke-width="1"/>
<text x="49.6" y="513.84" font-size="7.3" text-anchor="end" fill="#3a3a3a">10</text>
<line x1="52.5" y1="520.5" x2="55.5" y2="520.5" stroke="#7a7a7a" stroke-width="1"/>
<text x="49.6" y="523.22" font-size="7.3" text-anchor="end" fill="#3a3a3a">5</text>
<line x1="52.5" y1="530.5" x2="55.5" y2="530.5" stroke="#7a7a7a" stroke-width="1"/>
<text x="49.6" y="532.6" font-size="7.3" text-anchor="end" fill="#3a3a3a">0</text>
<line x1="52.5" y1="539.5" x2="55.5" y2="539.5" stroke="#7a7a7a" stroke-width="1"/>
<text x="49.6" y="541.98" font-size="7.3" text-anchor="end" fill="#3a3a3a">−5</text>
<line x1="52.5" y1="548.5" x2="55.5" y2="548.5" stroke="#7a7a7a" stroke-width="1"/>
<text x="49.6" y="551.36" font-size="7.3" text-anchor="end" fill="#3a3a3a">−10</text>
<line x1="52.5" y1="558.5" x2="55.5" y2="558.5" stroke="#7a7a7a" stroke-width="1"/>
<text x="49.6" y="560.74" font-size="7.3" text-anchor="end" fill="#3a3a3a">−15</text>
<line x1="52.5" y1="567.5" x2="55.5" y2="567.5" stroke="#7a7a7a" stroke-width="1"/>
<text x="49.6" y="570.12" font-size="7.3" text-anchor="end" fill="#3a3a3a">−20</text>
<line x1="52.5" y1="577.5" x2="55.5" y2="577.5" stroke="#7a7a7a" stroke-width="1"/>
<text x="49.6" y="579.5" font-size="7.3" text-anchor="end" fill="#3a3a3a">−25</text>
<line x1="52.5" y1="586.5" x2="55.5" y2="586.5" stroke="#7a7a7a" stroke-width="1"/>
<text x="49.6" y="588.88" font-size="7.3" text-anchor="end" fill="#3a3a3a">−30</text>
<line x1="55" y1="586.5" x2="153.9" y2="586.5" stroke="#7a7a7a" stroke-width="1"/>
<line x1="70.5" y1="586.5" x2="70.5" y2="589" stroke="#7a7a7a" stroke-width="1"/>
<line x1="115.5" y1="586.5" x2="115.5" y2="589" stroke="#7a7a7a" stroke-width="1"/>
<text x="72.5" y="600" font-size="8.8" text-anchor="middle" fill="#231f20"><tspan font-style="italic">Glp1r</tspan><tspan font-size="6.9" dy="-3.5" letter-spacing="0.15">fl/fl</tspan></text>
<text x="118" y="600" font-size="8.8" text-anchor="middle" fill="#231f20"><tspan font-style="italic">Glp1r</tspan><tspan font-size="6" dy="-3.5" letter-spacing="-0.1">Wnt1−/−</tspan></text>
<text transform="translate(29.6 541.9) rotate(-90)" x="0" y="0" font-size="8.8" text-anchor="middle" fill="#231f20">Change in body weight (%)</text>
<line x1="55.6" y1="530.1" x2="153.9" y2="530.1" stroke="#111" stroke-width="1" stroke-dasharray="1 1.45"/>
<text x="65" y="487.7" font-size="7.3" text-anchor="start" fill="#231f20"><tspan font-style="italic">P</tspan> &lt; 0.0001</text>
<text x="111.7" y="487.2" font-size="7.3" text-anchor="start" fill="#231f20">ns</text>
<path d="M68.3 499.6 V491.6 H138.5 V500.3" fill="none" stroke="#6e6e6e" stroke-width="0.8"/>
<path d="M93.1 491.6 V550.4" fill="none" stroke="#6e6e6e" stroke-width="0.8"/>
<text x="124" y="497.6" font-size="7.3" text-anchor="start" fill="#231f20">ns</text>
<path d="M115.4 507 V500.3 H138.5 V525.6" fill="none" stroke="#6e6e6e" stroke-width="0.8"/>
<line x1="70.5" y1="517.6" x2="70.5" y2="525.4" stroke="#111111" stroke-width="0.8"/>
<line x1="67.5" y1="517.6" x2="73.5" y2="517.6" stroke="#111111" stroke-width="0.8"/>
<line x1="67.5" y1="525.4" x2="73.5" y2="525.4" stroke="#111111" stroke-width="0.8"/>
<line x1="63" y1="521.3" x2="78" y2="521.3" stroke="#111111" stroke-width="1.15"/>
<circle cx="70.3" cy="505.2" r="1.95" fill="#111111"/>
<circle cx="64.5" cy="516.6" r="1.95" fill="#111111"/>
<circle cx="70.3" cy="518.4" r="1.95" fill="#111111"/>
<circle cx="76.6" cy="514.7" r="1.95" fill="#111111"/>
<circle cx="64.5" cy="533.2" r="1.95" fill="#111111"/>
<circle cx="70.3" cy="530.8" r="1.95" fill="#111111"/>
<circle cx="76.6" cy="531.5" r="1.95" fill="#111111"/>
<line x1="93.3" y1="562.6" x2="93.3" y2="570.2" stroke="#ff0000" stroke-width="0.8"/>
<line x1="90.3" y1="562.6" x2="96.3" y2="562.6" stroke="#ff0000" stroke-width="0.8"/>
<line x1="90.3" y1="570.2" x2="96.3" y2="570.2" stroke="#ff0000" stroke-width="0.8"/>
<line x1="85.7" y1="566.5" x2="100.9" y2="566.5" stroke="#ff0000" stroke-width="1.15"/>
<rect x="91.4" y="555.2" width="3.6" height="3.6" fill="#ff0000"/>
<rect x="91.4" y="563" width="3.6" height="3.6" fill="#ff0000"/>
<rect x="94.8" y="568.4" width="3.6" height="3.6" fill="#ff0000"/>
<rect x="87.9" y="571.6" width="3.6" height="3.6" fill="#ff0000"/>
<line x1="116" y1="524.9" x2="116" y2="535.9" stroke="#111111" stroke-width="0.8"/>
<line x1="113" y1="524.9" x2="119" y2="524.9" stroke="#111111" stroke-width="0.8"/>
<line x1="113" y1="535.9" x2="119" y2="535.9" stroke="#111111" stroke-width="0.8"/>
<line x1="108.4" y1="530.5" x2="123.6" y2="530.5" stroke="#111111" stroke-width="1.15"/>
<circle cx="112.7" cy="515.7" r="1.73" fill="none" stroke="#111111" stroke-width="1.1"/>
<circle cx="119.2" cy="513.2" r="1.73" fill="none" stroke="#111111" stroke-width="1.1"/>
<circle cx="116" cy="530" r="1.73" fill="none" stroke="#111111" stroke-width="1.1"/>
<circle cx="112.7" cy="536.6" r="1.73" fill="none" stroke="#111111" stroke-width="1.1"/>
<circle cx="119.2" cy="539.1" r="1.73" fill="none" stroke="#111111" stroke-width="1.1"/>
<circle cx="116" cy="550.2" r="1.73" fill="none" stroke="#111111" stroke-width="1.1"/>
<line x1="138.7" y1="541.4" x2="138.7" y2="550.5" stroke="#ff0000" stroke-width="0.8"/>
<line x1="135.7" y1="541.4" x2="141.7" y2="541.4" stroke="#ff0000" stroke-width="0.8"/>
<line x1="135.7" y1="550.5" x2="141.7" y2="550.5" stroke="#ff0000" stroke-width="0.8"/>
<line x1="131.2" y1="545.4" x2="146.2" y2="545.4" stroke="#ff0000" stroke-width="1.15"/>
<rect x="133.27" y="525.07" width="3.46" height="3.46" fill="none" stroke="#ff0000" stroke-width="1.1"/>
<rect x="140.27" y="527.27" width="3.46" height="3.46" fill="none" stroke="#ff0000" stroke-width="1.1"/>
<rect x="136.77" y="537.77" width="3.46" height="3.46" fill="none" stroke="#ff0000" stroke-width="1.1"/>
<rect x="136.77" y="546.97" width="3.46" height="3.46" fill="none" stroke="#ff0000" stroke-width="1.1"/>
<rect x="133.27" y="551.67" width="3.46" height="3.46" fill="none" stroke="#ff0000" stroke-width="1.1"/>
<rect x="140.27" y="553.17" width="3.46" height="3.46" fill="none" stroke="#ff0000" stroke-width="1.1"/>
<rect x="136.77" y="561.17" width="3.46" height="3.46" fill="none" stroke="#ff0000" stroke-width="1.1"/>
<text x="169.4" y="475.5" font-size="14" font-weight="bold" fill="#000">k</text>
<text x="240.7" y="474.4" font-size="9" fill="#231f20" textLength="50.2" lengthAdjust="spacingAndGlyphs">Body weight</text>
<line x1="203.5" y1="499.2" x2="203.5" y2="587" stroke="#7a7a7a" stroke-width="1"/>
<line x1="200.5" y1="499.5" x2="203.5" y2="499.5" stroke="#7a7a7a" stroke-width="1"/>
<text x="197.3" y="501.86" font-size="7.3" text-anchor="end" fill="#3a3a3a">10</text>
<line x1="200.5" y1="510.5" x2="203.5" y2="510.5" stroke="#7a7a7a" stroke-width="1"/>
<text x="197.3" y="512.73" font-size="7.3" text-anchor="end" fill="#3a3a3a">5</text>
<line x1="200.5" y1="521.5" x2="203.5" y2="521.5" stroke="#7a7a7a" stroke-width="1"/>
<text x="197.3" y="523.6" font-size="7.3" text-anchor="end" fill="#3a3a3a">0</text>
<line x1="200.5" y1="531.5" x2="203.5" y2="531.5" stroke="#7a7a7a" stroke-width="1"/>
<text x="197.3" y="534.47" font-size="7.3" text-anchor="end" fill="#3a3a3a">−5</text>
<line x1="200.5" y1="542.5" x2="203.5" y2="542.5" stroke="#7a7a7a" stroke-width="1"/>
<text x="197.3" y="545.34" font-size="7.3" text-anchor="end" fill="#3a3a3a">−10</text>
<line x1="200.5" y1="553.5" x2="203.5" y2="553.5" stroke="#7a7a7a" stroke-width="1"/>
<text x="197.3" y="556.21" font-size="7.3" text-anchor="end" fill="#3a3a3a">−15</text>
<line x1="200.5" y1="564.5" x2="203.5" y2="564.5" stroke="#7a7a7a" stroke-width="1"/>
<text x="197.3" y="567.08" font-size="7.3" text-anchor="end" fill="#3a3a3a">−20</text>
<line x1="200.5" y1="575.5" x2="203.5" y2="575.5" stroke="#7a7a7a" stroke-width="1"/>
<text x="197.3" y="577.95" font-size="7.3" text-anchor="end" fill="#3a3a3a">−25</text>
<line x1="200.5" y1="586.5" x2="203.5" y2="586.5" stroke="#7a7a7a" stroke-width="1"/>
<text x="197.3" y="588.82" font-size="7.3" text-anchor="end" fill="#3a3a3a">−30</text>
<line x1="203" y1="586.5" x2="330.2" y2="586.5" stroke="#7a7a7a" stroke-width="1"/>
<line x1="203.5" y1="586.5" x2="203.5" y2="589" stroke="#7a7a7a" stroke-width="1"/>
<text x="203.4" y="598" font-size="7.3" text-anchor="middle" fill="#3a3a3a">0</text>
<line x1="217.5" y1="586.5" x2="217.5" y2="589" stroke="#7a7a7a" stroke-width="1"/>
<text x="217.37" y="598" font-size="7.3" text-anchor="middle" fill="#3a3a3a">2</text>
<line x1="231.5" y1="586.5" x2="231.5" y2="589" stroke="#7a7a7a" stroke-width="1"/>
<text x="231.34" y="598" font-size="7.3" text-anchor="middle" fill="#3a3a3a">4</text>
<line x1="245.5" y1="586.5" x2="245.5" y2="589" stroke="#7a7a7a" stroke-width="1"/>
<text x="245.31" y="598" font-size="7.3" text-anchor="middle" fill="#3a3a3a">6</text>
<line x1="259.5" y1="586.5" x2="259.5" y2="589" stroke="#7a7a7a" stroke-width="1"/>
<text x="259.28" y="598" font-size="7.3" text-anchor="middle" fill="#3a3a3a">8</text>
<line x1="273.5" y1="586.5" x2="273.5" y2="589" stroke="#7a7a7a" stroke-width="1"/>
<text x="273.25" y="598" font-size="7.3" text-anchor="middle" fill="#3a3a3a">10</text>
<line x1="287.5" y1="586.5" x2="287.5" y2="589" stroke="#7a7a7a" stroke-width="1"/>
<text x="287.22" y="598" font-size="7.3" text-anchor="middle" fill="#3a3a3a">12</text>
<line x1="301.5" y1="586.5" x2="301.5" y2="589" stroke="#7a7a7a" stroke-width="1"/>
<text x="301.19" y="598" font-size="7.3" text-anchor="middle" fill="#3a3a3a">14</text>
<line x1="315.5" y1="586.5" x2="315.5" y2="589" stroke="#7a7a7a" stroke-width="1"/>
<text x="315.16" y="598" font-size="7.3" text-anchor="middle" fill="#3a3a3a">16</text>
<line x1="329.5" y1="586.5" x2="329.5" y2="589" stroke="#7a7a7a" stroke-width="1"/>
<text x="329.13" y="598" font-size="7.3" text-anchor="middle" fill="#3a3a3a">18</text>
<text x="266" y="611.1" font-size="8.6" text-anchor="middle" fill="#231f20">Days</text>
<text transform="translate(176.8 542.7) rotate(-90)" x="0" y="0" font-size="9.05" text-anchor="middle" fill="#231f20">Body weight (%)</text>
<line x1="203.4" y1="521.1" x2="330" y2="521.1" stroke="#111" stroke-width="1" stroke-dasharray="1 1.45"/>
<line x1="217.37" y1="536.32" x2="217.37" y2="533.71" stroke="#ff0000" stroke-width="0.75"/>
<line x1="215.72" y1="536.32" x2="219.02" y2="536.32" stroke="#ff0000" stroke-width="0.75"/>
<line x1="215.72" y1="533.71" x2="219.02" y2="533.71" stroke="#ff0000" stroke-width="0.75"/>
<line x1="231.34" y1="540.45" x2="231.34" y2="536.97" stroke="#ff0000" stroke-width="0.75"/>
<line x1="229.69" y1="540.45" x2="232.99" y2="540.45" stroke="#ff0000" stroke-width="0.75"/>
<line x1="229.69" y1="536.97" x2="232.99" y2="536.97" stroke="#ff0000" stroke-width="0.75"/>
<line x1="245.31" y1="543.27" x2="245.31" y2="538.93" stroke="#ff0000" stroke-width="0.75"/>
<line x1="243.66" y1="543.27" x2="246.96" y2="543.27" stroke="#ff0000" stroke-width="0.75"/>
<line x1="243.66" y1="538.93" x2="246.96" y2="538.93" stroke="#ff0000" stroke-width="0.75"/>
<line x1="259.28" y1="544.36" x2="259.28" y2="538.71" stroke="#ff0000" stroke-width="0.75"/>
<line x1="257.63" y1="544.36" x2="260.93" y2="544.36" stroke="#ff0000" stroke-width="0.75"/>
<line x1="257.63" y1="538.71" x2="260.93" y2="538.71" stroke="#ff0000" stroke-width="0.75"/>
<line x1="273.25" y1="543.93" x2="273.25" y2="538.27" stroke="#ff0000" stroke-width="0.75"/>
<line x1="271.6" y1="543.93" x2="274.9" y2="543.93" stroke="#ff0000" stroke-width="0.75"/>
<line x1="271.6" y1="538.27" x2="274.9" y2="538.27" stroke="#ff0000" stroke-width="0.75"/>
<line x1="287.22" y1="542.41" x2="287.22" y2="535.01" stroke="#ff0000" stroke-width="0.75"/>
<line x1="285.57" y1="542.41" x2="288.87" y2="542.41" stroke="#ff0000" stroke-width="0.75"/>
<line x1="285.57" y1="535.01" x2="288.87" y2="535.01" stroke="#ff0000" stroke-width="0.75"/>
<line x1="301.19" y1="543.49" x2="301.19" y2="534.8" stroke="#ff0000" stroke-width="0.75"/>
<line x1="299.54" y1="543.49" x2="302.84" y2="543.49" stroke="#ff0000" stroke-width="0.75"/>
<line x1="299.54" y1="534.8" x2="302.84" y2="534.8" stroke="#ff0000" stroke-width="0.75"/>
<line x1="315.16" y1="543.93" x2="315.16" y2="535.23" stroke="#ff0000" stroke-width="0.75"/>
<line x1="313.51" y1="543.93" x2="316.81" y2="543.93" stroke="#ff0000" stroke-width="0.75"/>
<line x1="313.51" y1="535.23" x2="316.81" y2="535.23" stroke="#ff0000" stroke-width="0.75"/>
<line x1="329.13" y1="543.71" x2="329.13" y2="533.71" stroke="#ff0000" stroke-width="0.75"/>
<line x1="327.48" y1="543.71" x2="330.78" y2="543.71" stroke="#ff0000" stroke-width="0.75"/>
<line x1="327.48" y1="533.71" x2="330.78" y2="533.71" stroke="#ff0000" stroke-width="0.75"/>
<polyline points="203.4,521.1 217.37,535.01 231.34,538.71 245.31,541.1 259.28,541.54 273.25,541.1 287.22,538.71 301.19,539.14 315.16,539.58 329.13,538.71" fill="none" stroke="#ff0000" stroke-width="0.8"/>
<rect x="201.95" y="519.65" width="2.9" height="2.9" fill="#fff" stroke="#ff0000" stroke-width="1.1"/>
<rect x="215.92" y="533.57" width="2.9" height="2.9" fill="#fff" stroke="#ff0000" stroke-width="1.1"/>
<rect x="229.89" y="537.26" width="2.9" height="2.9" fill="#fff" stroke="#ff0000" stroke-width="1.1"/>
<rect x="243.86" y="539.65" width="2.9" height="2.9" fill="#fff" stroke="#ff0000" stroke-width="1.1"/>
<rect x="257.83" y="540.09" width="2.9" height="2.9" fill="#fff" stroke="#ff0000" stroke-width="1.1"/>
<rect x="271.8" y="539.65" width="2.9" height="2.9" fill="#fff" stroke="#ff0000" stroke-width="1.1"/>
<rect x="285.77" y="537.26" width="2.9" height="2.9" fill="#fff" stroke="#ff0000" stroke-width="1.1"/>
<rect x="299.74" y="537.7" width="2.9" height="2.9" fill="#fff" stroke="#ff0000" stroke-width="1.1"/>
<rect x="313.71" y="538.13" width="2.9" height="2.9" fill="#fff" stroke="#ff0000" stroke-width="1.1"/>
<rect x="327.68" y="537.26" width="2.9" height="2.9" fill="#fff" stroke="#ff0000" stroke-width="1.1"/>
<line x1="217.37" y1="537.19" x2="217.37" y2="535.01" stroke="#ff0000" stroke-width="0.75"/>
<line x1="215.72" y1="537.19" x2="219.02" y2="537.19" stroke="#ff0000" stroke-width="0.75"/>
<line x1="215.72" y1="535.01" x2="219.02" y2="535.01" stroke="#ff0000" stroke-width="0.75"/>
<line x1="231.34" y1="545.67" x2="231.34" y2="543.06" stroke="#ff0000" stroke-width="0.75"/>
<line x1="229.69" y1="545.67" x2="232.99" y2="545.67" stroke="#ff0000" stroke-width="0.75"/>
<line x1="229.69" y1="543.06" x2="232.99" y2="543.06" stroke="#ff0000" stroke-width="0.75"/>
<line x1="245.31" y1="560.01" x2="245.31" y2="556.54" stroke="#ff0000" stroke-width="0.75"/>
<line x1="243.66" y1="560.01" x2="246.96" y2="560.01" stroke="#ff0000" stroke-width="0.75"/>
<line x1="243.66" y1="556.54" x2="246.96" y2="556.54" stroke="#ff0000" stroke-width="0.75"/>
<line x1="259.28" y1="560.01" x2="259.28" y2="556.54" stroke="#ff0000" stroke-width="0.75"/>
<line x1="257.63" y1="560.01" x2="260.93" y2="560.01" stroke="#ff0000" stroke-width="0.75"/>
<line x1="257.63" y1="556.54" x2="260.93" y2="556.54" stroke="#ff0000" stroke-width="0.75"/>
<line x1="273.25" y1="562.84" x2="273.25" y2="559.36" stroke="#ff0000" stroke-width="0.75"/>
<line x1="271.6" y1="562.84" x2="274.9" y2="562.84" stroke="#ff0000" stroke-width="0.75"/>
<line x1="271.6" y1="559.36" x2="274.9" y2="559.36" stroke="#ff0000" stroke-width="0.75"/>
<line x1="287.22" y1="563.28" x2="287.22" y2="558.93" stroke="#ff0000" stroke-width="0.75"/>
<line x1="285.57" y1="563.28" x2="288.87" y2="563.28" stroke="#ff0000" stroke-width="0.75"/>
<line x1="285.57" y1="558.93" x2="288.87" y2="558.93" stroke="#ff0000" stroke-width="0.75"/>
<line x1="301.19" y1="569.58" x2="301.19" y2="565.23" stroke="#ff0000" stroke-width="0.75"/>
<line x1="299.54" y1="569.58" x2="302.84" y2="569.58" stroke="#ff0000" stroke-width="0.75"/>
<line x1="299.54" y1="565.23" x2="302.84" y2="565.23" stroke="#ff0000" stroke-width="0.75"/>
<line x1="315.16" y1="568.28" x2="315.16" y2="563.49" stroke="#ff0000" stroke-width="0.75"/>
<line x1="313.51" y1="568.28" x2="316.81" y2="568.28" stroke="#ff0000" stroke-width="0.75"/>
<line x1="313.51" y1="563.49" x2="316.81" y2="563.49" stroke="#ff0000" stroke-width="0.75"/>
<line x1="329.13" y1="565.88" x2="329.13" y2="560.67" stroke="#ff0000" stroke-width="0.75"/>
<line x1="327.48" y1="565.88" x2="330.78" y2="565.88" stroke="#ff0000" stroke-width="0.75"/>
<line x1="327.48" y1="560.67" x2="330.78" y2="560.67" stroke="#ff0000" stroke-width="0.75"/>
<polyline points="203.4,521.1 217.37,536.1 231.34,544.36 245.31,558.28 259.28,558.28 273.25,561.1 287.22,561.1 301.19,567.41 315.16,565.88 329.13,563.28" fill="none" stroke="#ff0000" stroke-width="0.8"/>
<rect x="201.55" y="519.25" width="3.7" height="3.7" fill="#ff0000"/>
<rect x="215.52" y="534.25" width="3.7" height="3.7" fill="#ff0000"/>
<rect x="229.49" y="542.51" width="3.7" height="3.7" fill="#ff0000"/>
<rect x="243.46" y="556.43" width="3.7" height="3.7" fill="#ff0000"/>
<rect x="257.43" y="556.43" width="3.7" height="3.7" fill="#ff0000"/>
<rect x="271.4" y="559.25" width="3.7" height="3.7" fill="#ff0000"/>
<rect x="285.37" y="559.25" width="3.7" height="3.7" fill="#ff0000"/>
<rect x="299.34" y="565.56" width="3.7" height="3.7" fill="#ff0000"/>
<rect x="313.31" y="564.03" width="3.7" height="3.7" fill="#ff0000"/>
<rect x="327.28" y="561.43" width="3.7" height="3.7" fill="#ff0000"/>
<line x1="217.37" y1="533.06" x2="217.37" y2="528.71" stroke="#111111" stroke-width="0.75"/>
<line x1="215.72" y1="533.06" x2="219.02" y2="533.06" stroke="#111111" stroke-width="0.75"/>
<line x1="215.72" y1="528.71" x2="219.02" y2="528.71" stroke="#111111" stroke-width="0.75"/>
<line x1="231.34" y1="538.71" x2="231.34" y2="531.32" stroke="#111111" stroke-width="0.75"/>
<line x1="229.69" y1="538.71" x2="232.99" y2="538.71" stroke="#111111" stroke-width="0.75"/>
<line x1="229.69" y1="531.32" x2="232.99" y2="531.32" stroke="#111111" stroke-width="0.75"/>
<line x1="245.31" y1="542.19" x2="245.31" y2="532.19" stroke="#111111" stroke-width="0.75"/>
<line x1="243.66" y1="542.19" x2="246.96" y2="542.19" stroke="#111111" stroke-width="0.75"/>
<line x1="243.66" y1="532.19" x2="246.96" y2="532.19" stroke="#111111" stroke-width="0.75"/>
<line x1="259.28" y1="539.58" x2="259.28" y2="528.27" stroke="#111111" stroke-width="0.75"/>
<line x1="257.63" y1="539.58" x2="260.93" y2="539.58" stroke="#111111" stroke-width="0.75"/>
<line x1="257.63" y1="528.27" x2="260.93" y2="528.27" stroke="#111111" stroke-width="0.75"/>
<line x1="273.25" y1="538.71" x2="273.25" y2="527.4" stroke="#111111" stroke-width="0.75"/>
<line x1="271.6" y1="538.71" x2="274.9" y2="538.71" stroke="#111111" stroke-width="0.75"/>
<line x1="271.6" y1="527.4" x2="274.9" y2="527.4" stroke="#111111" stroke-width="0.75"/>
<line x1="287.22" y1="536.54" x2="287.22" y2="523.93" stroke="#111111" stroke-width="0.75"/>
<line x1="285.57" y1="536.54" x2="288.87" y2="536.54" stroke="#111111" stroke-width="0.75"/>
<line x1="285.57" y1="523.93" x2="288.87" y2="523.93" stroke="#111111" stroke-width="0.75"/>
<line x1="301.19" y1="535.88" x2="301.19" y2="521.97" stroke="#111111" stroke-width="0.75"/>
<line x1="299.54" y1="535.88" x2="302.84" y2="535.88" stroke="#111111" stroke-width="0.75"/>
<line x1="299.54" y1="521.97" x2="302.84" y2="521.97" stroke="#111111" stroke-width="0.75"/>
<line x1="315.16" y1="534.58" x2="315.16" y2="519.8" stroke="#111111" stroke-width="0.75"/>
<line x1="313.51" y1="534.58" x2="316.81" y2="534.58" stroke="#111111" stroke-width="0.75"/>
<line x1="313.51" y1="519.8" x2="316.81" y2="519.8" stroke="#111111" stroke-width="0.75"/>
<line x1="329.13" y1="529.8" x2="329.13" y2="514.58" stroke="#111111" stroke-width="0.75"/>
<line x1="327.48" y1="529.8" x2="330.78" y2="529.8" stroke="#111111" stroke-width="0.75"/>
<line x1="327.48" y1="514.58" x2="330.78" y2="514.58" stroke="#111111" stroke-width="0.75"/>
<polyline points="203.4,521.1 217.37,530.88 231.34,535.01 245.31,537.19 259.28,533.93 273.25,533.06 287.22,530.23 301.19,528.93 315.16,527.19 329.13,522.19" fill="none" stroke="#111111" stroke-width="0.8" stroke-dasharray="1 1.2"/>
<circle cx="203.4" cy="521.1" r="1.45" fill="#fff" stroke="#111111" stroke-width="1.1"/>
<circle cx="217.37" cy="530.88" r="1.45" fill="#fff" stroke="#111111" stroke-width="1.1"/>
<circle cx="231.34" cy="535.01" r="1.45" fill="#fff" stroke="#111111" stroke-width="1.1"/>
<circle cx="245.31" cy="537.19" r="1.45" fill="#fff" stroke="#111111" stroke-width="1.1"/>
<circle cx="259.28" cy="533.93" r="1.45" fill="#fff" stroke="#111111" stroke-width="1.1"/>
<circle cx="273.25" cy="533.06" r="1.45" fill="#fff" stroke="#111111" stroke-width="1.1"/>
<circle cx="287.22" cy="530.23" r="1.45" fill="#fff" stroke="#111111" stroke-width="1.1"/>
<circle cx="301.19" cy="528.93" r="1.45" fill="#fff" stroke="#111111" stroke-width="1.1"/>
<circle cx="315.16" cy="527.19" r="1.45" fill="#fff" stroke="#111111" stroke-width="1.1"/>
<circle cx="329.13" cy="522.19" r="1.45" fill="#fff" stroke="#111111" stroke-width="1.1"/>
<line x1="217.37" y1="525.67" x2="217.37" y2="523.06" stroke="#111111" stroke-width="0.75"/>
<line x1="215.72" y1="525.67" x2="219.02" y2="525.67" stroke="#111111" stroke-width="0.75"/>
<line x1="215.72" y1="523.06" x2="219.02" y2="523.06" stroke="#111111" stroke-width="0.75"/>
<line x1="231.34" y1="524.8" x2="231.34" y2="522.62" stroke="#111111" stroke-width="0.75"/>
<line x1="229.69" y1="524.8" x2="232.99" y2="524.8" stroke="#111111" stroke-width="0.75"/>
<line x1="229.69" y1="522.62" x2="232.99" y2="522.62" stroke="#111111" stroke-width="0.75"/>
<line x1="245.31" y1="527.19" x2="245.31" y2="524.58" stroke="#111111" stroke-width="0.75"/>
<line x1="243.66" y1="527.19" x2="246.96" y2="527.19" stroke="#111111" stroke-width="0.75"/>
<line x1="243.66" y1="524.58" x2="246.96" y2="524.58" stroke="#111111" stroke-width="0.75"/>
<line x1="259.28" y1="525.45" x2="259.28" y2="521.97" stroke="#111111" stroke-width="0.75"/>
<line x1="257.63" y1="525.45" x2="260.93" y2="525.45" stroke="#111111" stroke-width="0.75"/>
<line x1="257.63" y1="521.97" x2="260.93" y2="521.97" stroke="#111111" stroke-width="0.75"/>
<line x1="273.25" y1="524.36" x2="273.25" y2="519.14" stroke="#111111" stroke-width="0.75"/>
<line x1="271.6" y1="524.36" x2="274.9" y2="524.36" stroke="#111111" stroke-width="0.75"/>
<line x1="271.6" y1="519.14" x2="274.9" y2="519.14" stroke="#111111" stroke-width="0.75"/>
<line x1="287.22" y1="519.58" x2="287.22" y2="514.36" stroke="#111111" stroke-width="0.75"/>
<line x1="285.57" y1="519.58" x2="288.87" y2="519.58" stroke="#111111" stroke-width="0.75"/>
<line x1="285.57" y1="514.36" x2="288.87" y2="514.36" stroke="#111111" stroke-width="0.75"/>
<line x1="301.19" y1="520.67" x2="301.19" y2="513.27" stroke="#111111" stroke-width="0.75"/>
<line x1="299.54" y1="520.67" x2="302.84" y2="520.67" stroke="#111111" stroke-width="0.75"/>
<line x1="299.54" y1="513.27" x2="302.84" y2="513.27" stroke="#111111" stroke-width="0.75"/>
<line x1="315.16" y1="515.67" x2="315.16" y2="509.14" stroke="#111111" stroke-width="0.75"/>
<line x1="313.51" y1="515.67" x2="316.81" y2="515.67" stroke="#111111" stroke-width="0.75"/>
<line x1="313.51" y1="509.14" x2="316.81" y2="509.14" stroke="#111111" stroke-width="0.75"/>
<line x1="329.13" y1="514.58" x2="329.13" y2="507.19" stroke="#111111" stroke-width="0.75"/>
<line x1="327.48" y1="514.58" x2="330.78" y2="514.58" stroke="#111111" stroke-width="0.75"/>
<line x1="327.48" y1="507.19" x2="330.78" y2="507.19" stroke="#111111" stroke-width="0.75"/>
<polyline points="203.4,521.1 217.37,524.36 231.34,523.71 245.31,525.88 259.28,523.71 273.25,521.75 287.22,516.97 301.19,516.97 315.16,512.4 329.13,510.88" fill="none" stroke="#111111" stroke-width="0.8"/>
<circle cx="203.4" cy="521.1" r="1.85" fill="#111111"/>
<circle cx="217.37" cy="524.36" r="1.85" fill="#111111"/>
<circle cx="231.34" cy="523.71" r="1.85" fill="#111111"/>
<circle cx="245.31" cy="525.88" r="1.85" fill="#111111"/>
<circle cx="259.28" cy="523.71" r="1.85" fill="#111111"/>
<circle cx="273.25" cy="521.75" r="1.85" fill="#111111"/>
<circle cx="287.22" cy="516.97" r="1.85" fill="#111111"/>
<circle cx="301.19" cy="516.97" r="1.85" fill="#111111"/>
<circle cx="315.16" cy="512.4" r="1.85" fill="#111111"/>
<circle cx="329.13" cy="510.88" r="1.85" fill="#111111"/>
<line x1="250.2" y1="578" x2="328.3" y2="578" stroke="#ff0000" stroke-width="1.4"/>
<line x1="220.5" y1="581.2" x2="328.3" y2="581.2" stroke="#ff0000" stroke-width="1.4"/>
<text x="245" y="579.8" font-size="6" text-anchor="middle" fill="#ff0000">†</text>
<text x="216.5" y="582.6" font-size="5.5" text-anchor="middle" fill="#ff0000">#</text>
<text x="350.6" y="474.8" font-size="14" font-weight="bold" fill="#000">l</text>
<text x="392.5" y="474.8" font-size="9" fill="#231f20" textLength="50.4" lengthAdjust="spacingAndGlyphs">Body weight</text>
<text x="375.9" y="486.5" font-size="7.3" text-anchor="start" fill="#231f20"><tspan font-style="italic">P</tspan> &lt; 0.0001 <tspan font-style="italic">P</tspan> = 0.0386</text>
<line x1="377.5" y1="507.8" x2="377.5" y2="587" stroke="#7a7a7a" stroke-width="1"/>
<line x1="374.5" y1="507.5" x2="377.5" y2="507.5" stroke="#7a7a7a" stroke-width="1"/>
<text x="371.3" y="510.34" font-size="7.3" text-anchor="end" fill="#3a3a3a">5</text>
<line x1="374.5" y1="533.5" x2="377.5" y2="533.5" stroke="#7a7a7a" stroke-width="1"/>
<text x="371.3" y="536.4" font-size="7.3" text-anchor="end" fill="#3a3a3a">0</text>
<line x1="374.5" y1="559.5" x2="377.5" y2="559.5" stroke="#7a7a7a" stroke-width="1"/>
<text x="371.3" y="562.46" font-size="7.3" text-anchor="end" fill="#3a3a3a">−5</text>
<line x1="374.5" y1="586.5" x2="377.5" y2="586.5" stroke="#7a7a7a" stroke-width="1"/>
<text x="371.3" y="588.52" font-size="7.3" text-anchor="end" fill="#3a3a3a">−10</text>
<line x1="377" y1="586.5" x2="456.6" y2="586.5" stroke="#7a7a7a" stroke-width="1"/>
<line x1="389.5" y1="586.5" x2="389.5" y2="589" stroke="#7a7a7a" stroke-width="1"/>
<line x1="425.5" y1="586.5" x2="425.5" y2="589" stroke="#7a7a7a" stroke-width="1"/>
<text x="386.7" y="600.4" font-size="8.8" text-anchor="middle" fill="#231f20"><tspan font-style="italic">Glp1r</tspan><tspan font-size="6.9" dy="-3.5" letter-spacing="0.15">fl/fl</tspan></text>
<text x="429.2" y="600.4" font-size="8.8" text-anchor="middle" fill="#231f20"><tspan font-style="italic">Glp1r</tspan><tspan font-size="6" dy="-3.5" letter-spacing="-0.1">Wnt1−/−</tspan></text>
<text transform="translate(356.8 530.8) rotate(-90)" x="0" y="0" font-size="8.5" text-anchor="middle" fill="#231f20">Body weight (g)</text>
<line x1="377.2" y1="533.9" x2="456.6" y2="533.9" stroke="#111" stroke-width="1" stroke-dasharray="1 1.45"/>
<path d="M391.1 511.8 V490.5 H444 V526.7" fill="none" stroke="#6e6e6e" stroke-width="0.8"/>
<path d="M407.5 490.5 V553.4" fill="none" stroke="#6e6e6e" stroke-width="0.8"/>
<text x="431" y="504.1" font-size="7.3" text-anchor="start" fill="#231f20">ns</text>
<path d="M425.2 515.5 V507.4 H444" fill="none" stroke="#6e6e6e" stroke-width="0.8"/>
<line x1="389.3" y1="524.9" x2="389.3" y2="530.4" stroke="#111111" stroke-width="0.8"/>
<line x1="386.36" y1="524.9" x2="392.25" y2="524.9" stroke="#111111" stroke-width="0.8"/>
<line x1="386.36" y1="530.4" x2="392.25" y2="530.4" stroke="#111111" stroke-width="0.8"/>
<line x1="383.1" y1="527.3" x2="395.5" y2="527.3" stroke="#111111" stroke-width="1.15"/>
<circle cx="389.3" cy="516.8" r="1.75" fill="#111111"/>
<circle cx="384.7" cy="523" r="1.75" fill="#111111"/>
<circle cx="393.9" cy="521.4" r="1.75" fill="#111111"/>
<circle cx="389.3" cy="524.9" r="1.75" fill="#111111"/>
<circle cx="384.7" cy="537" r="1.75" fill="#111111"/>
<circle cx="389.3" cy="534.8" r="1.75" fill="#111111"/>
<circle cx="393.9" cy="534.8" r="1.75" fill="#111111"/>
<line x1="407.5" y1="565.6" x2="407.5" y2="570" stroke="#ff0000" stroke-width="0.8"/>
<line x1="404.56" y1="565.6" x2="410.44" y2="565.6" stroke="#ff0000" stroke-width="0.8"/>
<line x1="404.56" y1="570" x2="410.44" y2="570" stroke="#ff0000" stroke-width="0.8"/>
<line x1="401.3" y1="568.5" x2="413.7" y2="568.5" stroke="#ff0000" stroke-width="1.15"/>
<rect x="405.85" y="557.65" width="3.3" height="3.3" fill="#ff0000"/>
<rect x="401.25" y="569.75" width="3.3" height="3.3" fill="#ff0000"/>
<rect x="405.85" y="569.75" width="3.3" height="3.3" fill="#ff0000"/>
<rect x="410.35" y="569.75" width="3.3" height="3.3" fill="#ff0000"/>
<line x1="425.7" y1="529.9" x2="425.7" y2="540.3" stroke="#111111" stroke-width="0.8"/>
<line x1="422.94" y1="529.9" x2="428.45" y2="529.9" stroke="#111111" stroke-width="0.8"/>
<line x1="422.94" y1="540.3" x2="428.45" y2="540.3" stroke="#111111" stroke-width="0.8"/>
<line x1="419.9" y1="535" x2="431.5" y2="535" stroke="#111111" stroke-width="1.15"/>
<circle cx="421.2" cy="520.9" r="1.55" fill="none" stroke="#111111" stroke-width="1.1"/>
<circle cx="430.2" cy="520.1" r="1.55" fill="none" stroke="#111111" stroke-width="1.1"/>
<circle cx="425.6" cy="533.8" r="1.55" fill="none" stroke="#111111" stroke-width="1.1"/>
<circle cx="425.6" cy="538.7" r="1.55" fill="none" stroke="#111111" stroke-width="1.1"/>
<circle cx="425.6" cy="544.1" r="1.55" fill="none" stroke="#111111" stroke-width="1.1"/>
<circle cx="425.6" cy="552.8" r="1.55" fill="none" stroke="#111111" stroke-width="1.1"/>
<line x1="443.9" y1="544.8" x2="443.9" y2="552.8" stroke="#ff0000" stroke-width="0.8"/>
<line x1="441.14" y1="544.8" x2="446.65" y2="544.8" stroke="#ff0000" stroke-width="0.8"/>
<line x1="441.14" y1="552.8" x2="446.65" y2="552.8" stroke="#ff0000" stroke-width="0.8"/>
<line x1="438.1" y1="548.7" x2="449.7" y2="548.7" stroke="#ff0000" stroke-width="1.15"/>
<rect x="437.75" y="531.35" width="3.1" height="3.1" fill="none" stroke="#ff0000" stroke-width="1.1"/>
<rect x="446.65" y="529.55" width="3.1" height="3.1" fill="none" stroke="#ff0000" stroke-width="1.1"/>
<rect x="442.35" y="541.65" width="3.1" height="3.1" fill="none" stroke="#ff0000" stroke-width="1.1"/>
<rect x="442.35" y="552.05" width="3.1" height="3.1" fill="none" stroke="#ff0000" stroke-width="1.1"/>
<rect x="437.75" y="557.05" width="3.1" height="3.1" fill="none" stroke="#ff0000" stroke-width="1.1"/>
<rect x="446.65" y="557.45" width="3.1" height="3.1" fill="none" stroke="#ff0000" stroke-width="1.1"/>
<rect x="437.75" y="560.55" width="3.1" height="3.1" fill="none" stroke="#ff0000" stroke-width="1.1"/>
<line x1="530.3" y1="503.6" x2="546" y2="503.6" stroke="#111111" stroke-width="1.4"/>
<circle cx="538.1" cy="503.6" r="2.5" fill="#111111"/>
<text x="550.5" y="506.5" font-size="8.6" fill="#231f20"><tspan font-style="italic">Glp1r</tspan><tspan font-size="6.9" dy="-3.4" letter-spacing="0.15">fl/fl</tspan></text>
<text x="580.5" y="506.5" font-size="8.9" fill="#231f20" textLength="32.8" lengthAdjust="spacingAndGlyphs">/vehicle</text>
<line x1="530.3" y1="523.5" x2="546" y2="523.5" stroke="#ff0000" stroke-width="1.4"/>
<rect x="535.6" y="521" width="5" height="5" fill="#ff0000"/>
<text x="550.5" y="526.4" font-size="8.6" fill="#231f20"><tspan font-style="italic">Glp1r</tspan><tspan font-size="6.9" dy="-3.4" letter-spacing="0.15">fl/fl</tspan></text>
<text x="580.5" y="526.4" font-size="8.9" fill="#231f20" textLength="56.6" lengthAdjust="spacingAndGlyphs">/mGIPR-Ab/P1</text>
<line x1="530.3" y1="541.6" x2="546" y2="541.6" stroke="#111111" stroke-width="1.4"/>
<circle cx="538.1" cy="541.6" r="2.03" fill="none" stroke="#111111" stroke-width="1.1"/>
<text x="550.5" y="544.5" font-size="8.6" fill="#231f20"><tspan font-style="italic">Glp1r</tspan><tspan font-size="6" dy="-3.4" letter-spacing="-0.1">Wnt1−/−</tspan></text>
<text x="593" y="544.5" font-size="8.9" fill="#231f20" textLength="32.8" lengthAdjust="spacingAndGlyphs">/vehicle</text>
<line x1="530.3" y1="560.4" x2="546" y2="560.4" stroke="#ff0000" stroke-width="1.4"/>
<rect x="536.07" y="558.37" width="4.06" height="4.06" fill="none" stroke="#ff0000" stroke-width="1.1"/>
<text x="550.5" y="563.3" font-size="8.6" fill="#231f20"><tspan font-style="italic">Glp1r</tspan><tspan font-size="6" dy="-3.4" letter-spacing="-0.1">Wnt1−/−</tspan></text>
<text x="593" y="563.3" font-size="8.9" fill="#231f20" textLength="56.6" lengthAdjust="spacingAndGlyphs">/mGIPR-Ab/P1</text>
<text x="21.6" y="631.8" font-size="14" font-weight="bold" fill="#000">m</text>
<text x="83.6" y="630.5" font-size="9" fill="#231f20" textLength="35.7" lengthAdjust="spacingAndGlyphs">Fat mass</text>
<line x1="55.5" y1="644.1" x2="55.5" y2="735" stroke="#7a7a7a" stroke-width="1"/>
<line x1="52.5" y1="734.5" x2="55.5" y2="734.5" stroke="#7a7a7a" stroke-width="1"/>
<text x="49.2" y="736.5" font-size="7.3" text-anchor="end" fill="#3a3a3a">0</text>
<line x1="52.5" y1="704.5" x2="55.5" y2="704.5" stroke="#7a7a7a" stroke-width="1"/>
<text x="49.2" y="706.53" font-size="7.3" text-anchor="end" fill="#3a3a3a">10</text>
<line x1="52.5" y1="674.5" x2="55.5" y2="674.5" stroke="#7a7a7a" stroke-width="1"/>
<text x="49.2" y="676.56" font-size="7.3" text-anchor="end" fill="#3a3a3a">20</text>
<line x1="52.5" y1="644.5" x2="55.5" y2="644.5" stroke="#7a7a7a" stroke-width="1"/>
<text x="49.2" y="646.59" font-size="7.3" text-anchor="end" fill="#3a3a3a">30</text>
<line x1="55" y1="734.5" x2="145.2" y2="734.5" stroke="#7a7a7a" stroke-width="1"/>
<line x1="76.5" y1="734.5" x2="76.5" y2="737" stroke="#7a7a7a" stroke-width="1"/>
<line x1="124.5" y1="734.5" x2="124.5" y2="737" stroke="#7a7a7a" stroke-width="1"/>
<text x="76.4" y="747.6" font-size="8.8" text-anchor="middle" fill="#231f20"><tspan font-style="italic">Glp1r</tspan><tspan font-size="6.9" dy="-3.5" letter-spacing="0.15">fl/fl</tspan></text>
<text x="124.1" y="747.6" font-size="8.8" text-anchor="middle" fill="#231f20"><tspan font-style="italic">Glp1r</tspan><tspan font-size="6" dy="-3.5" letter-spacing="-0.1">Wnt1−/−</tspan></text>
<text transform="translate(32.4 689.7) rotate(-90)" x="0" y="0" font-size="8.7" text-anchor="middle" fill="#231f20">Fat mass (g)</text>
<line x1="67.2" y1="691.7" x2="67.2" y2="713" stroke="#111111" stroke-width="0.8"/>
<line x1="64.3" y1="691.7" x2="70.1" y2="691.7" stroke="#111111" stroke-width="0.8"/>
<line x1="64.3" y1="713" x2="70.1" y2="713" stroke="#111111" stroke-width="0.8"/>
<line x1="61.1" y1="702.2" x2="73.3" y2="702.2" stroke="#111111" stroke-width="1.15"/>
<circle cx="63.1" cy="690.4" r="1.85" fill="#111111"/>
<circle cx="67.2" cy="691.7" r="1.85" fill="#111111"/>
<circle cx="71.4" cy="690" r="1.85" fill="#111111"/>
<circle cx="67.2" cy="704.4" r="1.85" fill="#111111"/>
<circle cx="67.2" cy="711.8" r="1.85" fill="#111111"/>
<circle cx="63.1" cy="715.3" r="1.85" fill="#111111"/>
<circle cx="71.4" cy="714.4" r="1.85" fill="#111111"/>
<line x1="85" y1="700.9" x2="85" y2="712.7" stroke="#ff0000" stroke-width="0.8"/>
<line x1="82.25" y1="700.9" x2="87.75" y2="700.9" stroke="#ff0000" stroke-width="0.8"/>
<line x1="82.25" y1="712.7" x2="87.75" y2="712.7" stroke="#ff0000" stroke-width="0.8"/>
<line x1="79.2" y1="706.1" x2="90.8" y2="706.1" stroke="#111111" stroke-width="1.15"/>
<rect x="83.25" y="696.15" width="3.5" height="3.5" fill="#ff0000"/>
<rect x="83.25" y="699.15" width="3.5" height="3.5" fill="#ff0000"/>
<rect x="83.25" y="697.65" width="3.5" height="3.5" fill="#ff0000"/>
<rect x="79.25" y="710.95" width="3.5" height="3.5" fill="#ff0000"/>
<rect x="87.65" y="710.05" width="3.5" height="3.5" fill="#ff0000"/>
<line x1="115.2" y1="685.8" x2="115.2" y2="713.9" stroke="#111111" stroke-width="0.8"/>
<line x1="112.26" y1="685.8" x2="118.14" y2="685.8" stroke="#111111" stroke-width="0.8"/>
<line x1="112.26" y1="713.9" x2="118.14" y2="713.9" stroke="#111111" stroke-width="0.8"/>
<line x1="109" y1="699.6" x2="121.4" y2="699.6" stroke="#111111" stroke-width="1.15"/>
<circle cx="115.2" cy="679.9" r="1.67" fill="none" stroke="#111111" stroke-width="1.1"/>
<circle cx="115.2" cy="685.8" r="1.67" fill="none" stroke="#111111" stroke-width="1.1"/>
<circle cx="119.4" cy="701.3" r="1.67" fill="none" stroke="#111111" stroke-width="1.1"/>
<circle cx="110.8" cy="704.4" r="1.67" fill="none" stroke="#111111" stroke-width="1.1"/>
<circle cx="115.2" cy="709.4" r="1.67" fill="none" stroke="#111111" stroke-width="1.1"/>
<circle cx="115.2" cy="715.3" r="1.67" fill="none" stroke="#111111" stroke-width="1.1"/>
<line x1="132.9" y1="686.8" x2="132.9" y2="709.4" stroke="#ff0000" stroke-width="0.8"/>
<line x1="129.96" y1="686.8" x2="135.84" y2="686.8" stroke="#ff0000" stroke-width="0.8"/>
<line x1="129.96" y1="709.4" x2="135.84" y2="709.4" stroke="#ff0000" stroke-width="0.8"/>
<line x1="126.7" y1="697.6" x2="139.1" y2="697.6" stroke="#333" stroke-width="1.15"/>
<rect x="131.53" y="677.53" width="3.34" height="3.34" fill="none" stroke="#ff0000" stroke-width="1.1"/>
<rect x="131.53" y="691.33" width="3.34" height="3.34" fill="none" stroke="#ff0000" stroke-width="1.1"/>
<rect x="127.13" y="695.23" width="3.34" height="3.34" fill="none" stroke="#ff0000" stroke-width="1.1"/>
<rect x="131.53" y="695.53" width="3.34" height="3.34" fill="none" stroke="#ff0000" stroke-width="1.1"/>
<rect x="135.83" y="696.63" width="3.34" height="3.34" fill="none" stroke="#ff0000" stroke-width="1.1"/>
<rect x="131.53" y="703.83" width="3.34" height="3.34" fill="none" stroke="#ff0000" stroke-width="1.1"/>
<rect x="131.53" y="715.33" width="3.34" height="3.34" fill="none" stroke="#ff0000" stroke-width="1.1"/>
<text x="169.3" y="631.7" font-size="14" font-weight="bold" fill="#000">n</text>
<text x="230.2" y="630.5" font-size="9" fill="#231f20">Inguinal WAT</text>
<line x1="209.5" y1="643.4" x2="209.5" y2="734" stroke="#7a7a7a" stroke-width="1"/>
<line x1="206.5" y1="733.5" x2="209.5" y2="733.5" stroke="#7a7a7a" stroke-width="1"/>
<text x="203.2" y="735.7" font-size="7.3" text-anchor="end" fill="#3a3a3a">0</text>
<line x1="206.5" y1="703.5" x2="209.5" y2="703.5" stroke="#7a7a7a" stroke-width="1"/>
<text x="203.2" y="705.77" font-size="7.3" text-anchor="end" fill="#3a3a3a">1</text>
<line x1="206.5" y1="673.5" x2="209.5" y2="673.5" stroke="#7a7a7a" stroke-width="1"/>
<text x="203.2" y="675.84" font-size="7.3" text-anchor="end" fill="#3a3a3a">2</text>
<line x1="206.5" y1="643.5" x2="209.5" y2="643.5" stroke="#7a7a7a" stroke-width="1"/>
<text x="203.2" y="645.91" font-size="7.3" text-anchor="end" fill="#3a3a3a">3</text>
<line x1="209" y1="733.5" x2="299" y2="733.5" stroke="#7a7a7a" stroke-width="1"/>
<line x1="222.5" y1="733.5" x2="222.5" y2="736" stroke="#7a7a7a" stroke-width="1"/>
<line x1="264.5" y1="733.5" x2="264.5" y2="736" stroke="#7a7a7a" stroke-width="1"/>
<text x="222.8" y="748.4" font-size="8.8" text-anchor="middle" fill="#231f20"><tspan font-style="italic">Glp1r</tspan><tspan font-size="6.9" dy="-3.5" letter-spacing="0.15">fl/fl</tspan></text>
<text x="264.6" y="748.4" font-size="8.8" text-anchor="middle" fill="#231f20"><tspan font-style="italic">Glp1r</tspan><tspan font-size="6" dy="-3.5" letter-spacing="-0.1">Wnt1−/−</tspan></text>
<text transform="translate(191.2 689.1) rotate(-90)" x="0" y="0" font-size="9.1" text-anchor="middle" fill="#231f20">Inguinal WAT (g)</text>
<line x1="223.1" y1="709.8" x2="223.1" y2="717" stroke="#111111" stroke-width="0.8"/>
<line x1="220.1" y1="709.8" x2="226.1" y2="709.8" stroke="#111111" stroke-width="0.8"/>
<line x1="220.1" y1="717" x2="226.1" y2="717" stroke="#111111" stroke-width="0.8"/>
<line x1="216.3" y1="713.4" x2="229.9" y2="713.4" stroke="#111111" stroke-width="1.15"/>
<circle cx="223.1" cy="696.3" r="1.85" fill="#111111"/>
<circle cx="223.1" cy="702.3" r="1.85" fill="#111111"/>
<circle cx="223.1" cy="712.5" r="1.85" fill="#111111"/>
<circle cx="218.1" cy="718.4" r="1.85" fill="#111111"/>
<circle cx="223.1" cy="719" r="1.85" fill="#111111"/>
<circle cx="228.4" cy="721.3" r="1.85" fill="#111111"/>
<circle cx="218.1" cy="723.4" r="1.85" fill="#111111"/>
<line x1="244" y1="705.5" x2="244" y2="714.4" stroke="#ff0000" stroke-width="0.8"/>
<line x1="241" y1="705.5" x2="247" y2="705.5" stroke="#ff0000" stroke-width="0.8"/>
<line x1="241" y1="714.4" x2="247" y2="714.4" stroke="#ff0000" stroke-width="0.8"/>
<line x1="237.6" y1="710.2" x2="250.4" y2="710.2" stroke="#ff0000" stroke-width="1.15"/>
<rect x="242.15" y="694.55" width="3.5" height="3.5" fill="#ff0000"/>
<rect x="237.15" y="708.95" width="3.5" height="3.5" fill="#ff0000"/>
<rect x="247.05" y="712.05" width="3.5" height="3.5" fill="#ff0000"/>
<rect x="242.15" y="716.85" width="3.5" height="3.5" fill="#ff0000"/>
<line x1="264.7" y1="702.6" x2="264.7" y2="710.5" stroke="#111111" stroke-width="0.8"/>
<line x1="261.7" y1="702.6" x2="267.7" y2="702.6" stroke="#111111" stroke-width="0.8"/>
<line x1="261.7" y1="710.5" x2="267.7" y2="710.5" stroke="#111111" stroke-width="0.8"/>
<line x1="257.9" y1="706.5" x2="271.5" y2="706.5" stroke="#111111" stroke-width="1.15"/>
<circle cx="264.5" cy="688.8" r="1.67" fill="none" stroke="#111111" stroke-width="1.1"/>
<circle cx="264.5" cy="700.2" r="1.67" fill="none" stroke="#111111" stroke-width="1.1"/>
<circle cx="259.7" cy="710.5" r="1.67" fill="none" stroke="#111111" stroke-width="1.1"/>
<circle cx="269.8" cy="710.2" r="1.67" fill="none" stroke="#111111" stroke-width="1.1"/>
<circle cx="259.7" cy="715.1" r="1.67" fill="none" stroke="#111111" stroke-width="1.1"/>
<circle cx="269.8" cy="714.7" r="1.67" fill="none" stroke="#111111" stroke-width="1.1"/>
<line x1="285.2" y1="692.8" x2="285.2" y2="701.3" stroke="#ff0000" stroke-width="0.8"/>
<line x1="282.2" y1="692.8" x2="288.2" y2="692.8" stroke="#ff0000" stroke-width="0.8"/>
<line x1="282.2" y1="701.3" x2="288.2" y2="701.3" stroke="#ff0000" stroke-width="0.8"/>
<line x1="278.3" y1="697.1" x2="292.1" y2="697.1" stroke="#ff0000" stroke-width="1.15"/>
<rect x="283.53" y="680.53" width="3.34" height="3.34" fill="none" stroke="#ff0000" stroke-width="1.1"/>
<rect x="283.53" y="684.93" width="3.34" height="3.34" fill="none" stroke="#ff0000" stroke-width="1.1"/>
<rect x="283.53" y="693.33" width="3.34" height="3.34" fill="none" stroke="#ff0000" stroke-width="1.1"/>
<rect x="283.53" y="701.63" width="3.34" height="3.34" fill="none" stroke="#ff0000" stroke-width="1.1"/>
<rect x="278.63" y="705.93" width="3.34" height="3.34" fill="none" stroke="#ff0000" stroke-width="1.1"/>
<rect x="288.73" y="705.93" width="3.34" height="3.34" fill="none" stroke="#ff0000" stroke-width="1.1"/>
<text x="351.7" y="631.1" font-size="14" font-weight="bold" fill="#000">o</text>
<text x="395" y="630.5" font-size="9" fill="#231f20">Gonadal WAT</text>
<line x1="376.5" y1="643.4" x2="376.5" y2="734" stroke="#7a7a7a" stroke-width="1"/>
<line x1="373.5" y1="733.5" x2="376.5" y2="733.5" stroke="#7a7a7a" stroke-width="1"/>
<text x="370.8" y="736" font-size="7.3" text-anchor="end" fill="#3a3a3a">0</text>
<line x1="373.5" y1="703.5" x2="376.5" y2="703.5" stroke="#7a7a7a" stroke-width="1"/>
<text x="370.8" y="705.97" font-size="7.3" text-anchor="end" fill="#3a3a3a">1</text>
<line x1="373.5" y1="673.5" x2="376.5" y2="673.5" stroke="#7a7a7a" stroke-width="1"/>
<text x="370.8" y="675.94" font-size="7.3" text-anchor="end" fill="#3a3a3a">2</text>
<line x1="373.5" y1="643.5" x2="376.5" y2="643.5" stroke="#7a7a7a" stroke-width="1"/>
<text x="370.8" y="645.91" font-size="7.3" text-anchor="end" fill="#3a3a3a">3</text>
<line x1="376" y1="733.5" x2="467.8" y2="733.5" stroke="#7a7a7a" stroke-width="1"/>
<line x1="390.5" y1="733.5" x2="390.5" y2="736" stroke="#7a7a7a" stroke-width="1"/>
<line x1="432.5" y1="733.5" x2="432.5" y2="736" stroke="#7a7a7a" stroke-width="1"/>
<text x="391.2" y="747.6" font-size="8.8" text-anchor="middle" fill="#231f20"><tspan font-style="italic">Glp1r</tspan><tspan font-size="6.9" dy="-3.5" letter-spacing="0.15">fl/fl</tspan></text>
<text x="433.3" y="747.6" font-size="8.8" text-anchor="middle" fill="#231f20"><tspan font-style="italic">Glp1r</tspan><tspan font-size="6" dy="-3.5" letter-spacing="-0.1">Wnt1−/−</tspan></text>
<text transform="translate(359.2 689.4) rotate(-90)" x="0" y="0" font-size="9.1" text-anchor="middle" fill="#231f20">Gonadal WAT (g)</text>
<line x1="391.1" y1="696.4" x2="391.1" y2="706.3" stroke="#111111" stroke-width="0.8"/>
<line x1="388.1" y1="696.4" x2="394.1" y2="696.4" stroke="#111111" stroke-width="0.8"/>
<line x1="388.1" y1="706.3" x2="394.1" y2="706.3" stroke="#111111" stroke-width="0.8"/>
<line x1="384.3" y1="701.4" x2="397.9" y2="701.4" stroke="#111111" stroke-width="1.15"/>
<circle cx="391.1" cy="683.9" r="1.85" fill="#111111"/>
<circle cx="396.1" cy="688.3" r="1.85" fill="#111111"/>
<circle cx="391.1" cy="691.5" r="1.85" fill="#111111"/>
<circle cx="391.1" cy="701.8" r="1.85" fill="#111111"/>
<circle cx="386.1" cy="714.9" r="1.85" fill="#111111"/>
<circle cx="391.1" cy="714.9" r="1.85" fill="#111111"/>
<circle cx="396.1" cy="714.9" r="1.85" fill="#111111"/>
<line x1="411.9" y1="698.1" x2="411.9" y2="707.3" stroke="#ff0000" stroke-width="0.8"/>
<line x1="408.9" y1="698.1" x2="414.9" y2="698.1" stroke="#ff0000" stroke-width="0.8"/>
<line x1="408.9" y1="707.3" x2="414.9" y2="707.3" stroke="#ff0000" stroke-width="0.8"/>
<line x1="405.3" y1="703" x2="418.5" y2="703" stroke="#ff0000" stroke-width="1.15"/>
<rect x="410.15" y="688.25" width="3.5" height="3.5" fill="#ff0000"/>
<rect x="410.15" y="698.75" width="3.5" height="3.5" fill="#ff0000"/>
<rect x="405.15" y="709.25" width="3.5" height="3.5" fill="#ff0000"/>
<rect x="415.05" y="708.45" width="3.5" height="3.5" fill="#ff0000"/>
<line x1="432.5" y1="687.6" x2="432.5" y2="702.3" stroke="#111111" stroke-width="0.8"/>
<line x1="429.5" y1="687.6" x2="435.5" y2="687.6" stroke="#111111" stroke-width="0.8"/>
<line x1="429.5" y1="702.3" x2="435.5" y2="702.3" stroke="#111111" stroke-width="0.8"/>
<line x1="425.7" y1="694.8" x2="439.3" y2="694.8" stroke="#111111" stroke-width="1.15"/>
<circle cx="427.3" cy="674.7" r="1.67" fill="none" stroke="#111111" stroke-width="1.1"/>
<circle cx="437.8" cy="674.5" r="1.67" fill="none" stroke="#111111" stroke-width="1.1"/>
<circle cx="432.5" cy="692.2" r="1.67" fill="none" stroke="#111111" stroke-width="1.1"/>
<circle cx="432.5" cy="699.4" r="1.67" fill="none" stroke="#111111" stroke-width="1.1"/>
<circle cx="432.5" cy="708.6" r="1.67" fill="none" stroke="#111111" stroke-width="1.1"/>
<circle cx="432.5" cy="720.2" r="1.67" fill="none" stroke="#111111" stroke-width="1.1"/>
<line x1="453.2" y1="678.7" x2="453.2" y2="686.3" stroke="#ff0000" stroke-width="0.8"/>
<line x1="450.2" y1="678.7" x2="456.2" y2="678.7" stroke="#ff0000" stroke-width="0.8"/>
<line x1="450.2" y1="686.3" x2="456.2" y2="686.3" stroke="#ff0000" stroke-width="0.8"/>
<line x1="446.4" y1="680.8" x2="460" y2="680.8" stroke="#ff0000" stroke-width="1.15"/>
<rect x="451.53" y="662.03" width="3.34" height="3.34" fill="none" stroke="#ff0000" stroke-width="1.1"/>
<rect x="446.63" y="676.43" width="3.34" height="3.34" fill="none" stroke="#ff0000" stroke-width="1.1"/>
<rect x="456.73" y="674.73" width="3.34" height="3.34" fill="none" stroke="#ff0000" stroke-width="1.1"/>
<rect x="446.63" y="682.03" width="3.34" height="3.34" fill="none" stroke="#ff0000" stroke-width="1.1"/>
<rect x="456.73" y="680.43" width="3.34" height="3.34" fill="none" stroke="#ff0000" stroke-width="1.1"/>
<rect x="451.53" y="688.83" width="3.34" height="3.34" fill="none" stroke="#ff0000" stroke-width="1.1"/>
<rect x="451.53" y="715.13" width="3.34" height="3.34" fill="none" stroke="#ff0000" stroke-width="1.1"/>
<text x="501.9" y="631.8" font-size="14" font-weight="bold" fill="#000">p</text>
<text x="561.2" y="630.5" font-size="9" fill="#231f20">Liver</text>
<line x1="528.5" y1="644.6" x2="528.5" y2="735" stroke="#7a7a7a" stroke-width="1"/>
<line x1="525.5" y1="734.5" x2="528.5" y2="734.5" stroke="#7a7a7a" stroke-width="1"/>
<text x="522.6" y="736.5" font-size="7.3" text-anchor="end" fill="#3a3a3a">0</text>
<line x1="525.5" y1="704.5" x2="528.5" y2="704.5" stroke="#7a7a7a" stroke-width="1"/>
<text x="522.6" y="706.7" font-size="7.3" text-anchor="end" fill="#3a3a3a">1</text>
<line x1="525.5" y1="674.5" x2="528.5" y2="674.5" stroke="#7a7a7a" stroke-width="1"/>
<text x="522.6" y="676.9" font-size="7.3" text-anchor="end" fill="#3a3a3a">2</text>
<line x1="525.5" y1="644.5" x2="528.5" y2="644.5" stroke="#7a7a7a" stroke-width="1"/>
<text x="522.6" y="647.1" font-size="7.3" text-anchor="end" fill="#3a3a3a">3</text>
<line x1="528" y1="734.5" x2="617.8" y2="734.5" stroke="#7a7a7a" stroke-width="1"/>
<line x1="542.5" y1="734.5" x2="542.5" y2="737" stroke="#7a7a7a" stroke-width="1"/>
<line x1="583.5" y1="734.5" x2="583.5" y2="737" stroke="#7a7a7a" stroke-width="1"/>
<text x="542.6" y="748.8" font-size="8.8" text-anchor="middle" fill="#231f20"><tspan font-style="italic">Glp1r</tspan><tspan font-size="6.9" dy="-3.5" letter-spacing="0.15">fl/fl</tspan></text>
<text x="583.4" y="748.8" font-size="8.8" text-anchor="middle" fill="#231f20"><tspan font-style="italic">Glp1r</tspan><tspan font-size="6" dy="-3.5" letter-spacing="-0.1">Wnt1−/−</tspan></text>
<text transform="translate(511.2 689.8) rotate(-90)" x="0" y="0" font-size="9.2" text-anchor="middle" fill="#231f20">Liver weight (g)</text>
<line x1="541.8" y1="699" x2="541.8" y2="701.4" stroke="#444" stroke-width="0.8"/>
<line x1="538.85" y1="699" x2="544.75" y2="699" stroke="#444" stroke-width="0.8"/>
<line x1="538.85" y1="701.4" x2="544.75" y2="701.4" stroke="#444" stroke-width="0.8"/>
<line x1="535.6" y1="700.2" x2="548" y2="700.2" stroke="#444" stroke-width="1.15"/>
<circle cx="536.3" cy="697.6" r="2" fill="#111111"/>
<circle cx="539.9" cy="699.2" r="2" fill="#111111"/>
<circle cx="543.1" cy="697.9" r="2" fill="#111111"/>
<circle cx="547.1" cy="697.2" r="2" fill="#111111"/>
<circle cx="537.9" cy="700.5" r="2" fill="#111111"/>
<circle cx="542.5" cy="702.5" r="2" fill="#111111"/>
<circle cx="545.1" cy="703.1" r="2" fill="#111111"/>
<circle cx="539.5" cy="705.1" r="2" fill="#111111"/>
<line x1="562.9" y1="704" x2="562.9" y2="707.6" stroke="#ff0000" stroke-width="0.8"/>
<line x1="560.14" y1="704" x2="565.65" y2="704" stroke="#ff0000" stroke-width="0.8"/>
<line x1="560.14" y1="707.6" x2="565.65" y2="707.6" stroke="#ff0000" stroke-width="0.8"/>
<line x1="557.1" y1="705.8" x2="568.7" y2="705.8" stroke="#ff0000" stroke-width="1.15"/>
<rect x="561.05" y="698.35" width="3.7" height="3.7" fill="#ff0000"/>
<rect x="555.75" y="704.55" width="3.7" height="3.7" fill="#ff0000"/>
<rect x="555.75" y="708.95" width="3.7" height="3.7" fill="#ff0000"/>
<rect x="565.95" y="706.25" width="3.7" height="3.7" fill="#ff0000"/>
<line x1="583.2" y1="696.5" x2="583.2" y2="698.3" stroke="#111111" stroke-width="0.8"/>
<line x1="580.45" y1="696.5" x2="585.96" y2="696.5" stroke="#111111" stroke-width="0.8"/>
<line x1="580.45" y1="698.3" x2="585.96" y2="698.3" stroke="#111111" stroke-width="0.8"/>
<line x1="577.4" y1="697.2" x2="589" y2="697.2" stroke="#111111" stroke-width="1.15"/>
<circle cx="578" cy="695.5" r="1.49" fill="none" stroke="#111111" stroke-width="1.1"/>
<circle cx="581.5" cy="695" r="1.49" fill="none" stroke="#111111" stroke-width="1.1"/>
<circle cx="584.9" cy="695.5" r="1.49" fill="none" stroke="#111111" stroke-width="1.1"/>
<circle cx="588.5" cy="695.5" r="1.49" fill="none" stroke="#111111" stroke-width="1.1"/>
<circle cx="583.2" cy="698.5" r="1.49" fill="none" stroke="#111111" stroke-width="1.1"/>
<circle cx="581.5" cy="701.8" r="1.49" fill="none" stroke="#111111" stroke-width="1.1"/>
<line x1="603.9" y1="699.5" x2="603.9" y2="702.2" stroke="#ff0000" stroke-width="0.8"/>
<line x1="601.14" y1="699.5" x2="606.65" y2="699.5" stroke="#ff0000" stroke-width="0.8"/>
<line x1="601.14" y1="702.2" x2="606.65" y2="702.2" stroke="#ff0000" stroke-width="0.8"/>
<line x1="598.1" y1="700.8" x2="609.7" y2="700.8" stroke="#ff0000" stroke-width="1.15"/>
<rect x="597.39" y="692.39" width="3.22" height="3.22" fill="none" stroke="#ff0000" stroke-width="1.1"/>
<rect x="597.39" y="697.29" width="3.22" height="3.22" fill="none" stroke="#ff0000" stroke-width="1.1"/>
<rect x="597.39" y="702.19" width="3.22" height="3.22" fill="none" stroke="#ff0000" stroke-width="1.1"/>
<rect x="597.39" y="707.09" width="3.22" height="3.22" fill="none" stroke="#ff0000" stroke-width="1.1"/>
<rect x="607.19" y="693.89" width="3.22" height="3.22" fill="none" stroke="#ff0000" stroke-width="1.1"/>
<rect x="607.19" y="698.89" width="3.22" height="3.22" fill="none" stroke="#ff0000" stroke-width="1.1"/>
<rect x="607.19" y="703.89" width="3.22" height="3.22" fill="none" stroke="#ff0000" stroke-width="1.1"/>
</svg></body></html>
